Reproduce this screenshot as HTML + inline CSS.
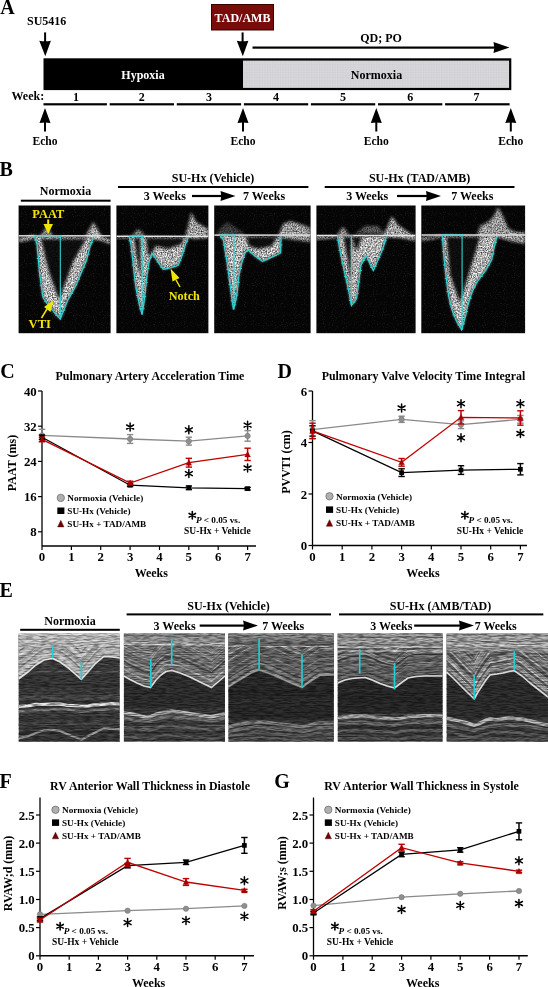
<!DOCTYPE html>
<html><head><meta charset="utf-8"><style>
html,body{margin:0;padding:0;background:#fff;width:548px;height:987px;overflow:hidden}
svg{display:block;will-change:transform}
</style></head><body>
<svg width="548" height="987" viewBox="0 0 548 987" font-family="Liberation Serif" font-weight="bold">
<defs>
<filter id="speck" x="-0.2" y="-0.2" width="1.4" height="1.4">
<feGaussianBlur in="SourceGraphic" stdDeviation="1.5" result="sb"/>
<feTurbulence type="fractalNoise" baseFrequency="0.8" numOctaves="2" seed="3" result="n"/>
<feColorMatrix in="n" type="matrix" values="0 0 0 0 0.93  0 0 0 0 0.93  0 0 0 0 0.93  0 0 0 1.5 -0.05" result="nw"/>
<feComposite in="nw" in2="sb" operator="in" result="c"/>
<feGaussianBlur in="c" stdDeviation="0.5"/></filter>
<filter id="bgnoise" x="0" y="0" width="1" height="1"><feTurbulence type="fractalNoise" baseFrequency="0.9" numOctaves="1" seed="7" result="n"/>
<feColorMatrix in="n" type="matrix" values="0 0 0 0 1  0 0 0 0 1  0 0 0 0 1  0 0 0 3 -1.7"/></filter>
<filter id="streak" x="0" y="0" width="1" height="1"><feTurbulence type="fractalNoise" baseFrequency="0.04 0.6" numOctaves="2" seed="5" result="n"/>
<feColorMatrix in="n" type="matrix" values="0 0 0 0 1  0 0 0 0 1  0 0 0 0 1  0 0 0 2.5 -1.0"/></filter>
<filter id="enoise" x="0" y="0" width="1" height="1"><feTurbulence type="fractalNoise" baseFrequency="0.12 0.9" numOctaves="2" seed="11" result="n"/>
<feColorMatrix in="n" type="matrix" values="0 0 0 0 0  0 0 0 0 0  0 0 0 0 0  0 0 0 3.0 -1.1"/></filter>
<pattern id="dots" x="0" y="0" width="2.6" height="2.6" patternUnits="userSpaceOnUse"><rect width="2.6" height="2.6" fill="#d2d2d6"/><rect x="0.5" y="0.5" width="1" height="1" fill="#e4e4e4"/></pattern>
<filter id="enoise2" x="0" y="0" width="1" height="1"><feTurbulence type="fractalNoise" baseFrequency="0.15 0.7" numOctaves="2" seed="4" result="n"/>
<feColorMatrix in="n" type="matrix" values="0 0 0 0 1  0 0 0 0 1  0 0 0 0 1  0 0 0 2.5 -0.6" result="m"/><feComposite in="m" in2="SourceGraphic" operator="in"/></filter>
<filter id="blur1"><feGaussianBlur stdDeviation="1.2"/></filter>
<filter id="blur2" x="-0.5" y="-0.5" width="2" height="2"><feGaussianBlur stdDeviation="1.6"/></filter>
</defs>
<text x="0.3" y="13.7" font-size="20" text-anchor="start" fill="#000" >A</text>
<text x="27" y="25.3" font-size="12" text-anchor="start" fill="#000" >SU5416</text>
<rect x="44.1" y="32.4" width="2" height="11.800000000000004" fill="#000"/>
<path d="M39.300000000000004,40.7 Q45.1,41.7 50.9,40.7 L45.300000000000004,56.2 Z" fill="#000"/>
<rect x="211.5" y="4.5" width="62" height="25.5" fill="#7a0b0b" stroke="#3a0000" stroke-width="1"/>
<text x="242.5" y="21.6" font-size="12" text-anchor="middle" fill="#fff" >TAD/AMB</text>
<rect x="241.6" y="32.4" width="2" height="11.800000000000004" fill="#000"/>
<path d="M236.79999999999998,40.7 Q242.6,41.7 248.4,40.7 L242.79999999999998,56.2 Z" fill="#000"/>
<rect x="252.5" y="46.5" width="243.0" height="2.2" fill="#000"/>
<path d="M493.5,42.1 Q495.0,47.6 493.5,53.1 L509.5,47.6 Z" fill="#000"/>
<text x="381" y="42.2" font-size="12" text-anchor="middle" fill="#000" >QD; PO</text>
<rect x="43.5" y="58.3" width="467.8" height="31.8" fill="#000"/>
<rect x="243" y="60.6" width="266.1" height="27.3" fill="url(#dots)"/>
<text x="143" y="79" font-size="12" text-anchor="middle" fill="#fff" >Hypoxia</text>
<text x="376.5" y="79.3" font-size="12" text-anchor="middle" fill="#000" >Normoxia</text>
<text x="11.5" y="100.2" font-size="12" text-anchor="start" fill="#000" >Week:</text>
<rect x="43.5" y="103.2" width="63.4" height="2.2" fill="#000"/>
<text x="75.9" y="100.6" font-size="12" text-anchor="middle" fill="#000" >1</text>
<rect x="109.7" y="103.2" width="64.3" height="2.2" fill="#000"/>
<text x="141.8" y="100.6" font-size="12" text-anchor="middle" fill="#000" >2</text>
<rect x="176.8" y="103.2" width="64.3" height="2.2" fill="#000"/>
<text x="208.9" y="100.6" font-size="12" text-anchor="middle" fill="#000" >3</text>
<rect x="243.9" y="103.2" width="64.3" height="2.2" fill="#000"/>
<text x="276.0" y="100.6" font-size="12" text-anchor="middle" fill="#000" >4</text>
<rect x="310.9" y="103.2" width="64.3" height="2.2" fill="#000"/>
<text x="343.1" y="100.6" font-size="12" text-anchor="middle" fill="#000" >5</text>
<rect x="378.0" y="103.2" width="64.3" height="2.2" fill="#000"/>
<text x="410.2" y="100.6" font-size="12" text-anchor="middle" fill="#000" >6</text>
<rect x="445.1" y="103.2" width="64.5" height="2.2" fill="#000"/>
<text x="476.6" y="100.6" font-size="12" text-anchor="middle" fill="#000" >7</text>
<path d="M39.5,123 Q45,122 50.5,123 L45,108 Z" fill="#000"/>
<rect x="44" y="121" width="2" height="10.5" fill="#000"/>
<text x="45" y="144.5" font-size="11.6" text-anchor="middle" fill="#000" >Echo</text>
<path d="M237.5,123 Q243,122 248.5,123 L243,108 Z" fill="#000"/>
<rect x="242" y="121" width="2" height="10.5" fill="#000"/>
<text x="243" y="144.5" font-size="11.6" text-anchor="middle" fill="#000" >Echo</text>
<path d="M370.8,123 Q376.3,122 381.8,123 L376.3,108 Z" fill="#000"/>
<rect x="375.3" y="121" width="2" height="10.5" fill="#000"/>
<text x="376.3" y="144.5" font-size="11.6" text-anchor="middle" fill="#000" >Echo</text>
<path d="M505.3,123 Q510.8,122 516.3,123 L510.8,108 Z" fill="#000"/>
<rect x="509.8" y="121" width="2" height="10.5" fill="#000"/>
<text x="510.8" y="144.5" font-size="11.6" text-anchor="middle" fill="#000" >Echo</text>
<text x="-0.6" y="176.4" font-size="20" text-anchor="start" fill="#000" >B</text>
<text x="65.5" y="195.3" font-size="12" text-anchor="middle" fill="#000" >Normoxia</text>
<rect x="20.8" y="199.7" width="89.8" height="2" fill="#000"/>
<text x="213" y="182.3" font-size="12" text-anchor="middle" fill="#000" >SU-Hx (Vehicle)</text>
<rect x="118" y="186" width="190.4" height="2" fill="#000"/>
<text x="164.8" y="200.3" font-size="12" text-anchor="middle" fill="#000" >3 Weeks</text>
<rect x="192" y="194.9" width="30.5" height="2.2" fill="#000"/>
<path d="M220.5,191 Q222.0,196 220.5,201 L235.5,196 Z" fill="#000"/>
<text x="264" y="200.3" font-size="12" text-anchor="middle" fill="#000" >7 Weeks</text>
<text x="419.6" y="182.3" font-size="12" text-anchor="middle" fill="#000" >SU-Hx (TAD/AMB)</text>
<rect x="324.7" y="186" width="189.8" height="2" fill="#000"/>
<text x="367.2" y="200.3" font-size="12" text-anchor="middle" fill="#000" >3 Weeks</text>
<rect x="397" y="194.9" width="31" height="2.2" fill="#000"/>
<path d="M426,191 Q427.5,196 426,201 L441,196 Z" fill="#000"/>
<text x="472.3" y="200.3" font-size="12" text-anchor="middle" fill="#000" >7 Weeks</text>
<clipPath id="clipB0"><rect x="18.6" y="205.5" width="92.0" height="127.7"/></clipPath>
<rect x="18.6" y="205.5" width="92.0" height="127.7" fill="#050505"/>
<g clip-path="url(#clipB0)">
<rect x="18.6" y="205.5" width="92.0" height="127.7" fill="#fff" filter="url(#bgnoise)" opacity="0.14"/>
<polygon points="40.0,236.0 44.0,230.0 47.0,228.0 50.0,231.0 53.0,236.0" fill="#fff" filter="url(#speck)" opacity="0.8"/>
<polygon points="85.0,237.0 90.0,228.0 93.5,222.0 97.0,228.0 102.0,237.0 96.0,240.0" fill="#fff" filter="url(#speck)" opacity="0.9"/>
<polygon points="18.6,238.0 26.0,236.5 34.0,234.5 36.0,238.0 26.0,241.0 18.6,242.0" fill="#fff" filter="url(#speck)" opacity="0.9"/>
<polygon points="95.0,235.0 103.0,237.0 110.6,239.0 110.6,244.0 102.0,241.0 95.0,239.0" fill="#fff" filter="url(#speck)" opacity="0.9"/>
<polygon points="34.3,236.0 37.0,244.0 39.5,273.0 43.0,297.6 48.0,305.0 53.4,311.5 60.3,319.3 67.3,301.0 76.0,285.5 81.0,273.0 86.3,261.0 89.8,247.3 93.3,237.8" fill="#fff" filter="url(#speck)"/>
<polygon points="41.0,239.0 86.0,239.0 73.0,262.0 59.0,300.0 49.0,272.0" fill="#050505" opacity="0.92" filter="url(#blur2)"/>
<rect x="18.6" y="235.10000000000002" width="92.0" height="1.4" fill="#e6e6e6"/>
<polyline points="34.3,236.0 37.0,244.0 39.5,273.0 43.0,297.6 48.0,305.0 53.4,311.5 60.3,319.3 67.3,301.0 76.0,285.5 81.0,273.0 86.3,261.0 89.8,247.3 93.3,237.8" fill="none" stroke="#2fd6d6" stroke-width="1.1"/>
<path d="M34.1,240.0h3M36.8,258.5h3M39.8,285.3h3M44.0,301.3h3M49.2,308.2h3M55.3,315.4h3M62.3,310.1h3M70.2,293.2h3M77.0,279.2h3M82.2,267.0h3M86.5,254.2h3M90.0,242.6h3" stroke="#2fd6d6" stroke-width="0.9"/>
<line x1="34.3" y1="235.8" x2="62.3" y2="235.8" stroke="#2fd6d6" stroke-width="1.1"/>
<line x1="60.3" y1="235.8" x2="60.3" y2="319.3" stroke="#2fd6d6" stroke-width="1.1"/>
</g>
<clipPath id="clipB1"><rect x="116.4" y="205.5" width="92.0" height="127.7"/></clipPath>
<rect x="116.4" y="205.5" width="92.0" height="127.7" fill="#050505"/>
<g clip-path="url(#clipB1)">
<rect x="116.4" y="205.5" width="92.0" height="127.7" fill="#fff" filter="url(#bgnoise)" opacity="0.14"/>
<polygon points="132.0,236.0 136.0,231.0 138.0,229.0 141.0,231.0 145.0,236.0" fill="#fff" filter="url(#speck)" opacity="0.7"/>
<polygon points="185.0,237.0 189.0,222.0 191.0,212.0 196.0,222.0 208.4,229.0 208.4,238.0 195.0,239.0" fill="#fff" filter="url(#speck)" opacity="0.9"/>
<polygon points="116.4,237.0 128.0,235.5 128.0,238.5 116.4,239.0" fill="#fff" filter="url(#speck)" opacity="0.7"/>
<polygon points="129.0,236.3 131.0,245.0 132.5,258.0 134.0,272.0 136.0,288.0 139.0,303.0 142.0,314.6 144.0,303.0 145.5,290.0 147.0,275.0 149.0,262.0 152.0,253.3 156.0,259.0 160.0,265.0 163.2,269.4 170.0,268.0 178.2,265.4 182.0,256.0 185.0,246.0 188.3,237.3" fill="#fff" filter="url(#speck)"/>
<polygon points="134.0,238.0 140.0,238.0 141.0,280.0 137.0,258.0" fill="#050505" opacity="0.92" filter="url(#blur2)"/>
<polygon points="146.0,238.0 184.0,238.0 182.0,244.0 168.0,249.0 156.0,246.0 151.0,254.0 148.0,256.0" fill="#050505" opacity="0.92" filter="url(#blur2)"/>
<rect x="116.4" y="235.60000000000002" width="92.0" height="1.4" fill="#e6e6e6"/>
<polyline points="129.0,236.3 131.0,245.0 132.5,258.0 134.0,272.0 136.0,288.0 139.0,303.0 142.0,314.6 144.0,303.0 145.5,290.0 147.0,275.0 149.0,262.0 152.0,253.3 156.0,259.0 160.0,265.0 163.2,269.4 170.0,268.0 178.2,265.4 182.0,256.0 185.0,246.0 188.3,237.3" fill="none" stroke="#2fd6d6" stroke-width="1.1"/>
<path d="M128.5,240.7h3M130.2,251.5h3M131.8,265.0h3M133.5,280.0h3M136.0,295.5h3M139.0,308.8h3M141.5,308.8h3M143.2,296.5h3M144.8,282.5h3M146.5,268.5h3M149.0,257.6h3M152.5,256.1h3M156.5,262.0h3M160.1,267.2h3M165.1,268.7h3M172.6,266.7h3M178.6,260.7h3M182.0,251.0h3M185.2,241.7h3" stroke="#2fd6d6" stroke-width="0.9"/>
<line x1="129" y1="236.3" x2="144.1" y2="236.3" stroke="#2fd6d6" stroke-width="1.1"/>
<line x1="142.1" y1="236.3" x2="142.1" y2="314.6" stroke="#2fd6d6" stroke-width="1.1"/>
</g>
<clipPath id="clipB2"><rect x="214.2" y="205.5" width="96.4" height="127.7"/></clipPath>
<rect x="214.2" y="205.5" width="96.4" height="127.7" fill="#050505"/>
<g clip-path="url(#clipB2)">
<rect x="214.2" y="205.5" width="96.4" height="127.7" fill="#fff" filter="url(#bgnoise)" opacity="0.14"/>
<polygon points="216.0,234.0 222.0,226.0 228.0,222.0 236.0,228.0 244.0,233.0 244.0,236.0 216.0,237.0" fill="#fff" filter="url(#speck)" opacity="0.3"/>
<polygon points="278.0,236.0 283.0,224.0 290.0,221.0 300.0,224.0 310.6,228.0 310.6,242.0 296.0,240.0 280.0,238.0" fill="#fff" filter="url(#speck)" opacity="0.85"/>
<polygon points="219.7,235.1 223.5,240.0 225.0,250.0 227.0,262.0 229.0,277.0 231.0,292.0 233.3,309.5 236.0,300.0 237.5,290.0 239.0,275.0 242.0,262.0 245.0,253.0 247.7,249.8 255.0,256.0 262.4,261.4 270.0,258.0 280.6,253.0 281.0,237.0" fill="#fff" filter="url(#speck)"/>
<polygon points="246.0,237.0 277.0,237.0 272.0,246.0 258.0,249.0 249.0,246.0" fill="#050505" opacity="0.92" filter="url(#blur2)"/>
<rect x="214.2" y="234.4" width="96.4" height="1.4" fill="#e6e6e6"/>
<polyline points="219.7,235.1 223.5,240.0 225.0,250.0 227.0,262.0 229.0,277.0 231.0,292.0 233.3,309.5 236.0,300.0 237.5,290.0 239.0,275.0 242.0,262.0 245.0,253.0 247.7,249.8 255.0,256.0 262.4,261.4 270.0,258.0 280.6,253.0 281.0,237.0" fill="none" stroke="#2fd6d6" stroke-width="1.1"/>
<path d="M220.1,237.6h3M222.8,245.0h3M224.5,256.0h3M226.5,269.5h3M228.5,284.5h3M230.7,300.8h3M233.2,304.8h3M235.2,295.0h3M236.8,282.5h3M239.0,268.5h3M242.0,257.5h3M244.8,251.4h3M249.8,252.9h3M257.2,258.7h3M264.7,259.7h3M273.8,255.5h3M279.3,245.0h3" stroke="#2fd6d6" stroke-width="0.9"/>
<line x1="219.7" y1="235.1" x2="236" y2="235.1" stroke="#2fd6d6" stroke-width="1.1"/>
<line x1="234" y1="235.1" x2="234" y2="309.5" stroke="#2fd6d6" stroke-width="1.1"/>
</g>
<clipPath id="clipB3"><rect x="316.4" y="205.5" width="99.2" height="127.7"/></clipPath>
<rect x="316.4" y="205.5" width="99.2" height="127.7" fill="#050505"/>
<g clip-path="url(#clipB3)">
<rect x="316.4" y="205.5" width="99.2" height="127.7" fill="#fff" filter="url(#bgnoise)" opacity="0.14"/>
<polygon points="337.0,236.0 340.0,230.0 343.0,227.0 346.0,230.0 349.0,236.0" fill="#fff" filter="url(#speck)" opacity="0.75"/>
<polygon points="382.0,237.0 388.0,225.0 392.0,216.0 397.0,224.0 408.0,232.0 415.6,236.0 415.6,241.0 400.0,238.0" fill="#fff" filter="url(#speck)" opacity="0.9"/>
<polygon points="355.0,234.0 365.0,226.0 378.0,226.0 385.0,234.0" fill="#fff" filter="url(#speck)" opacity="0.45"/>
<polygon points="316.4,236.0 336.0,235.0 336.0,238.0 316.4,240.0" fill="#fff" filter="url(#speck)" opacity="0.8"/>
<polygon points="337.4,235.5 339.0,245.0 341.0,256.0 344.0,270.0 347.0,283.0 349.5,295.0 351.4,305.6 356.5,299.0 358.0,288.0 359.5,276.0 361.0,265.0 366.3,255.7 370.0,264.0 373.3,270.6 377.0,262.0 381.0,253.0 384.0,245.0 386.5,236.6" fill="#fff" filter="url(#speck)"/>
<polygon points="343.5,237.0 351.5,237.0 350.5,288.0 348.0,262.0" fill="#050505" opacity="0.92" filter="url(#blur2)"/>
<polygon points="352.0,237.0 362.0,237.0 356.0,252.0" fill="#050505" opacity="0.92" filter="url(#blur2)"/>
<rect x="316.4" y="234.8" width="99.2" height="1.4" fill="#e6e6e6"/>
<polyline points="337.4,235.5 339.0,245.0 341.0,256.0 344.0,270.0 347.0,283.0 349.5,295.0 351.4,305.6 356.5,299.0 358.0,288.0 359.5,276.0 361.0,265.0 366.3,255.7 370.0,264.0 373.3,270.6 377.0,262.0 381.0,253.0 384.0,245.0 386.5,236.6" fill="none" stroke="#2fd6d6" stroke-width="1.1"/>
<path d="M336.7,240.2h3M338.5,250.5h3M341.0,263.0h3M344.0,276.5h3M346.8,289.0h3M348.9,300.3h3M352.4,302.3h3M355.8,293.5h3M357.2,282.0h3M358.8,270.5h3M362.1,260.4h3M366.6,259.9h3M370.1,267.3h3M373.6,266.3h3M377.5,257.5h3M381.0,249.0h3M383.8,240.8h3" stroke="#2fd6d6" stroke-width="0.9"/>
<line x1="337.4" y1="235.5" x2="353.4" y2="235.5" stroke="#2fd6d6" stroke-width="1.1"/>
<line x1="351.4" y1="235.5" x2="351.4" y2="305.6" stroke="#2fd6d6" stroke-width="1.1"/>
</g>
<clipPath id="clipB4"><rect x="421.3" y="205.5" width="103.8" height="127.7"/></clipPath>
<rect x="421.3" y="205.5" width="103.8" height="127.7" fill="#050505"/>
<g clip-path="url(#clipB4)">
<rect x="421.3" y="205.5" width="103.8" height="127.7" fill="#fff" filter="url(#bgnoise)" opacity="0.14"/>
<polygon points="477.0,236.0 480.0,226.0 488.0,222.0 494.0,216.0 498.0,207.0 503.0,216.0 508.0,228.0 515.0,232.0 525.1,232.0 525.1,244.0 510.0,241.0 500.0,238.0" fill="#fff" filter="url(#speck)" opacity="0.85"/>
<polygon points="421.3,237.0 432.0,236.5 441.0,234.5 441.0,237.5 432.0,239.5 421.3,241.0" fill="#fff" filter="url(#speck)" opacity="0.8"/>
<polygon points="442.2,235.0 443.0,245.0 444.0,258.0 445.5,272.0 447.0,285.0 449.0,298.0 452.0,310.0 456.0,320.0 461.6,330.0 465.0,318.0 468.0,305.0 472.0,292.0 477.0,282.0 485.5,270.8 491.8,259.5 494.0,248.0 496.9,236.8" fill="#fff" filter="url(#speck)"/>
<polygon points="446.5,237.0 480.0,237.0 460.0,303.0 450.0,275.0" fill="#050505" opacity="0.92" filter="url(#blur2)"/>
<rect x="421.3" y="234.3" width="103.8" height="1.4" fill="#e6e6e6"/>
<polyline points="442.2,235.0 443.0,245.0 444.0,258.0 445.5,272.0 447.0,285.0 449.0,298.0 452.0,310.0 456.0,320.0 461.6,330.0 465.0,318.0 468.0,305.0 472.0,292.0 477.0,282.0 485.5,270.8 491.8,259.5 494.0,248.0 496.9,236.8" fill="none" stroke="#2fd6d6" stroke-width="1.1"/>
<path d="M441.1,240.0h3M442.0,251.5h3M443.2,265.0h3M444.8,278.5h3M446.5,291.5h3M449.0,304.0h3M452.5,315.0h3M457.3,325.0h3M461.8,324.0h3M465.0,311.5h3M468.5,298.5h3M473.0,287.0h3M479.8,276.4h3M487.1,265.1h3M491.4,253.8h3M493.9,242.4h3" stroke="#2fd6d6" stroke-width="0.9"/>
<line x1="442.2" y1="235" x2="464.1" y2="235" stroke="#2fd6d6" stroke-width="1.1"/>
<line x1="462.1" y1="235" x2="462.1" y2="330" stroke="#2fd6d6" stroke-width="1.1"/>
</g>
<text x="48.3" y="218.2" font-size="12.4" text-anchor="middle" fill="#f2e600" >PAAT</text>
<rect x="47.2" y="219.5" width="2" height="6" fill="#f2e600"/>
<path d="M43.5,224 L53,224 L48.2,234 Z" fill="#f2e600"/>
<text x="39.8" y="328.3" font-size="12.6" text-anchor="middle" fill="#f2e600" >VTI</text>
<line x1="41.5" y1="318" x2="47" y2="309" stroke="#f2e600" stroke-width="1.5"/>
<path d="M44,307 L53.5,300.5 L50.5,312 Z" fill="#f2e600"/>
<text x="184.3" y="299.5" font-size="12.2" text-anchor="middle" fill="#f2e600" >Notch</text>
<line x1="180" y1="287" x2="176" y2="280" stroke="#f2e600" stroke-width="1.5"/>
<path d="M170.5,268.5 L179.5,278 L172.5,281.5 Z" fill="#f2e600"/>
<text x="0.2" y="377.6" font-size="20" text-anchor="start" fill="#000" >C</text>
<text x="150" y="380" font-size="11.9" text-anchor="middle" fill="#000" >Pulmonary Artery Acceleration Time</text>
<line x1="42" y1="391" x2="42" y2="546" stroke="#000" stroke-width="1.3"/>
<line x1="42" y1="546" x2="256" y2="546" stroke="#000" stroke-width="1.3"/>
<line x1="38" y1="391.0" x2="42" y2="391.0" stroke="#000" stroke-width="1.2"/>
<text x="36.7" y="395.6" font-size="12.8" text-anchor="end" fill="#000" >40</text>
<line x1="38" y1="426.2" x2="42" y2="426.2" stroke="#000" stroke-width="1.2"/>
<text x="36.7" y="430.8" font-size="12.8" text-anchor="end" fill="#000" >32</text>
<line x1="38" y1="461.4" x2="42" y2="461.4" stroke="#000" stroke-width="1.2"/>
<text x="36.7" y="466.0" font-size="12.8" text-anchor="end" fill="#000" >24</text>
<line x1="38" y1="496.6" x2="42" y2="496.6" stroke="#000" stroke-width="1.2"/>
<text x="36.7" y="501.2" font-size="12.8" text-anchor="end" fill="#000" >16</text>
<line x1="38" y1="531.8" x2="42" y2="531.8" stroke="#000" stroke-width="1.2"/>
<text x="36.7" y="536.4" font-size="12.8" text-anchor="end" fill="#000" >8</text>
<line x1="42.0" y1="546" x2="42.0" y2="550" stroke="#000" stroke-width="1.2"/>
<text x="42.0" y="561.4" font-size="12.8" text-anchor="middle" fill="#000" >0</text>
<line x1="71.4" y1="546" x2="71.4" y2="550" stroke="#000" stroke-width="1.2"/>
<text x="71.4" y="561.4" font-size="12.8" text-anchor="middle" fill="#000" >1</text>
<line x1="100.7" y1="546" x2="100.7" y2="550" stroke="#000" stroke-width="1.2"/>
<text x="100.7" y="561.4" font-size="12.8" text-anchor="middle" fill="#000" >2</text>
<line x1="130.1" y1="546" x2="130.1" y2="550" stroke="#000" stroke-width="1.2"/>
<text x="130.1" y="561.4" font-size="12.8" text-anchor="middle" fill="#000" >3</text>
<line x1="159.5" y1="546" x2="159.5" y2="550" stroke="#000" stroke-width="1.2"/>
<text x="159.5" y="561.4" font-size="12.8" text-anchor="middle" fill="#000" >4</text>
<line x1="188.8" y1="546" x2="188.8" y2="550" stroke="#000" stroke-width="1.2"/>
<text x="188.8" y="561.4" font-size="12.8" text-anchor="middle" fill="#000" >5</text>
<line x1="218.2" y1="546" x2="218.2" y2="550" stroke="#000" stroke-width="1.2"/>
<text x="218.2" y="561.4" font-size="12.8" text-anchor="middle" fill="#000" >6</text>
<line x1="247.6" y1="546" x2="247.6" y2="550" stroke="#000" stroke-width="1.2"/>
<text x="247.6" y="561.4" font-size="12.8" text-anchor="middle" fill="#000" >7</text>
<text x="151.3" y="577" font-size="12" text-anchor="middle" fill="#000" >Weeks</text>
<polyline points="42.0,435.4 130.1,439.0 188.8,441.2 247.6,435.9" fill="none" stroke="#8a8a8a" stroke-width="1.3"/>
<line x1="42.0" y1="429.3" x2="42.0" y2="441.6" stroke="#8a8a8a" stroke-width="1.5"/>
<line x1="38.8" y1="429.3" x2="45.2" y2="429.3" stroke="#8a8a8a" stroke-width="1.4"/>
<line x1="38.8" y1="441.6" x2="45.2" y2="441.6" stroke="#8a8a8a" stroke-width="1.4"/>
<circle cx="42.0" cy="435.4" r="2.70" fill="#8f8f8f" stroke="#777" stroke-width="0.5"/>
<line x1="130.1" y1="434.6" x2="130.1" y2="443.4" stroke="#8a8a8a" stroke-width="1.5"/>
<line x1="126.9" y1="434.6" x2="133.3" y2="434.6" stroke="#8a8a8a" stroke-width="1.4"/>
<line x1="126.9" y1="443.4" x2="133.3" y2="443.4" stroke="#8a8a8a" stroke-width="1.4"/>
<circle cx="130.1" cy="439.0" r="2.70" fill="#8f8f8f" stroke="#777" stroke-width="0.5"/>
<line x1="188.8" y1="437.2" x2="188.8" y2="445.1" stroke="#8a8a8a" stroke-width="1.5"/>
<line x1="185.7" y1="437.2" x2="192.0" y2="437.2" stroke="#8a8a8a" stroke-width="1.4"/>
<line x1="185.7" y1="445.1" x2="192.0" y2="445.1" stroke="#8a8a8a" stroke-width="1.4"/>
<circle cx="188.8" cy="441.2" r="2.70" fill="#8f8f8f" stroke="#777" stroke-width="0.5"/>
<line x1="247.6" y1="430.6" x2="247.6" y2="441.2" stroke="#8a8a8a" stroke-width="1.5"/>
<line x1="244.4" y1="430.6" x2="250.8" y2="430.6" stroke="#8a8a8a" stroke-width="1.4"/>
<line x1="244.4" y1="441.2" x2="250.8" y2="441.2" stroke="#8a8a8a" stroke-width="1.4"/>
<circle cx="247.6" cy="435.9" r="2.70" fill="#8f8f8f" stroke="#777" stroke-width="0.5"/>
<polyline points="42.0,437.2 130.1,485.2 188.8,487.8 247.6,488.7" fill="none" stroke="#000" stroke-width="1.3"/>
<line x1="42.0" y1="435.0" x2="42.0" y2="439.4" stroke="#000" stroke-width="1.5"/>
<line x1="38.8" y1="435.0" x2="45.2" y2="435.0" stroke="#000" stroke-width="1.4"/>
<line x1="38.8" y1="439.4" x2="45.2" y2="439.4" stroke="#000" stroke-width="1.4"/>
<rect x="39.65" y="434.85" width="4.70" height="4.70" fill="#000"/>
<line x1="130.1" y1="483.8" x2="130.1" y2="486.5" stroke="#000" stroke-width="1.5"/>
<line x1="126.9" y1="483.8" x2="133.3" y2="483.8" stroke="#000" stroke-width="1.4"/>
<line x1="126.9" y1="486.5" x2="133.3" y2="486.5" stroke="#000" stroke-width="1.4"/>
<rect x="127.76" y="482.81" width="4.70" height="4.70" fill="#000"/>
<line x1="188.8" y1="486.0" x2="188.8" y2="489.6" stroke="#000" stroke-width="1.5"/>
<line x1="185.7" y1="486.0" x2="192.0" y2="486.0" stroke="#000" stroke-width="1.4"/>
<line x1="185.7" y1="489.6" x2="192.0" y2="489.6" stroke="#000" stroke-width="1.4"/>
<rect x="186.50" y="485.45" width="4.70" height="4.70" fill="#000"/>
<line x1="247.6" y1="487.4" x2="247.6" y2="490.0" stroke="#000" stroke-width="1.5"/>
<line x1="244.4" y1="487.4" x2="250.8" y2="487.4" stroke="#000" stroke-width="1.4"/>
<line x1="244.4" y1="490.0" x2="250.8" y2="490.0" stroke="#000" stroke-width="1.4"/>
<rect x="245.24" y="486.33" width="4.70" height="4.70" fill="#000"/>
<polyline points="42.0,439.4 130.1,483.0 188.8,462.7 247.6,454.4" fill="none" stroke="#c00000" stroke-width="1.3"/>
<line x1="42.0" y1="437.2" x2="42.0" y2="441.6" stroke="#c00000" stroke-width="1.5"/>
<line x1="38.8" y1="437.2" x2="45.2" y2="437.2" stroke="#c00000" stroke-width="1.4"/>
<line x1="38.8" y1="441.6" x2="45.2" y2="441.6" stroke="#c00000" stroke-width="1.4"/>
<path d="M42.00,436.32 L44.90,441.92 L39.10,441.92 Z" fill="#a80000" stroke="#900" stroke-width="0.3"/>
<line x1="130.1" y1="481.2" x2="130.1" y2="484.7" stroke="#c00000" stroke-width="1.5"/>
<line x1="126.9" y1="481.2" x2="133.3" y2="481.2" stroke="#c00000" stroke-width="1.4"/>
<line x1="126.9" y1="484.7" x2="133.3" y2="484.7" stroke="#c00000" stroke-width="1.4"/>
<path d="M130.11,479.88 L133.01,485.48 L127.21,485.48 Z" fill="#a80000" stroke="#900" stroke-width="0.3"/>
<line x1="188.8" y1="458.3" x2="188.8" y2="467.1" stroke="#c00000" stroke-width="1.5"/>
<line x1="185.7" y1="458.3" x2="192.0" y2="458.3" stroke="#c00000" stroke-width="1.4"/>
<line x1="185.7" y1="467.1" x2="192.0" y2="467.1" stroke="#c00000" stroke-width="1.4"/>
<path d="M188.85,459.64 L191.75,465.24 L185.95,465.24 Z" fill="#a80000" stroke="#900" stroke-width="0.3"/>
<line x1="247.6" y1="448.2" x2="247.6" y2="460.5" stroke="#c00000" stroke-width="1.5"/>
<line x1="244.4" y1="448.2" x2="250.8" y2="448.2" stroke="#c00000" stroke-width="1.4"/>
<line x1="244.4" y1="460.5" x2="250.8" y2="460.5" stroke="#c00000" stroke-width="1.4"/>
<path d="M247.59,451.28 L250.49,456.88 L244.69,456.88 Z" fill="#a80000" stroke="#900" stroke-width="0.3"/>
<path d="M130.11,423.00L130.11,431.00M126.65,425.00L133.57,429.00M126.65,429.00L133.57,425.00" stroke="#000" stroke-width="1.5" stroke-linecap="round" fill="none"/>
<path d="M188.85,425.80L188.85,433.80M185.39,427.80L192.31,431.80M185.39,431.80L192.31,427.80" stroke="#000" stroke-width="1.5" stroke-linecap="round" fill="none"/>
<path d="M247.59,421.20L247.59,429.20M244.13,423.20L251.05,427.20M244.13,427.20L251.05,423.20" stroke="#000" stroke-width="1.5" stroke-linecap="round" fill="none"/>
<path d="M188.85,469.60L188.85,477.60M185.39,471.60L192.31,475.60M185.39,475.60L192.31,471.60" stroke="#000" stroke-width="1.5" stroke-linecap="round" fill="none"/>
<path d="M247.59,464.00L247.59,472.00M244.13,466.00L251.05,470.00M244.13,470.00L251.05,466.00" stroke="#000" stroke-width="1.5" stroke-linecap="round" fill="none"/>
<circle cx="60.8" cy="497.9" r="3.7" fill="#b0b0b0" stroke="#555" stroke-width="0.6"/>
<text x="67.3" y="501.1" font-size="9.2" text-anchor="start" fill="#000" >Normoxia (Vehicle)</text>
<rect x="57.30" y="507.50" width="7.1" height="6.5" fill="#000"/>
<text x="67.3" y="514.0" font-size="9.2" text-anchor="start" fill="#000" >SU-Hx (Vehicle)</text>
<path d="M60.80,520.30 L64.00,526.90 L57.60,526.90 Z" fill="#780000" stroke="#300" stroke-width="0.4"/>
<text x="67.3" y="526.9" font-size="9.2" text-anchor="start" fill="#000" >SU-Hx + TAD/AMB</text>
<path d="M192.30,511.60L192.30,519.00M189.10,513.45L195.50,517.15M189.10,517.15L195.50,513.45" stroke="#000" stroke-width="1.6" stroke-linecap="round" fill="none"/>
<text x="195.9" y="522.5" font-size="9.2" font-family="Liberation Serif" font-weight="bold"><tspan font-style="italic">P</tspan> &lt; 0.05 vs.</text>
<text x="217.4" y="533.5" font-size="9.5" text-anchor="middle" fill="#000" >SU-Hx + Vehicle</text>
<text transform="translate(16.4,463) rotate(-90)" font-size="12" text-anchor="middle" font-family="Liberation Serif" font-weight="bold">PAAT (ms)</text>
<text x="277.5" y="377.8" font-size="20" text-anchor="start" fill="#000" >D</text>
<text x="423.5" y="380" font-size="11.9" text-anchor="middle" fill="#000" >Pulmonary Valve Velocity Time Integral</text>
<line x1="312.5" y1="391" x2="312.5" y2="545.5" stroke="#000" stroke-width="1.3"/>
<line x1="312.5" y1="545.5" x2="527" y2="545.5" stroke="#000" stroke-width="1.3"/>
<line x1="308.5" y1="391.0" x2="312.5" y2="391.0" stroke="#000" stroke-width="1.2"/>
<text x="307.2" y="395.6" font-size="12.8" text-anchor="end" fill="#000" >6</text>
<line x1="308.5" y1="442.5" x2="312.5" y2="442.5" stroke="#000" stroke-width="1.2"/>
<text x="307.2" y="447.1" font-size="12.8" text-anchor="end" fill="#000" >4</text>
<line x1="308.5" y1="494.0" x2="312.5" y2="494.0" stroke="#000" stroke-width="1.2"/>
<text x="307.2" y="498.6" font-size="12.8" text-anchor="end" fill="#000" >2</text>
<line x1="308.5" y1="545.5" x2="312.5" y2="545.5" stroke="#000" stroke-width="1.2"/>
<text x="307.2" y="550.1" font-size="12.8" text-anchor="end" fill="#000" >0</text>
<line x1="312.5" y1="545.5" x2="312.5" y2="549.5" stroke="#000" stroke-width="1.2"/>
<text x="312.5" y="560.9" font-size="12.8" text-anchor="middle" fill="#000" >0</text>
<line x1="342.2" y1="545.5" x2="342.2" y2="549.5" stroke="#000" stroke-width="1.2"/>
<text x="342.2" y="560.9" font-size="12.8" text-anchor="middle" fill="#000" >1</text>
<line x1="371.9" y1="545.5" x2="371.9" y2="549.5" stroke="#000" stroke-width="1.2"/>
<text x="371.9" y="560.9" font-size="12.8" text-anchor="middle" fill="#000" >2</text>
<line x1="401.6" y1="545.5" x2="401.6" y2="549.5" stroke="#000" stroke-width="1.2"/>
<text x="401.6" y="560.9" font-size="12.8" text-anchor="middle" fill="#000" >3</text>
<line x1="431.3" y1="545.5" x2="431.3" y2="549.5" stroke="#000" stroke-width="1.2"/>
<text x="431.3" y="560.9" font-size="12.8" text-anchor="middle" fill="#000" >4</text>
<line x1="461.0" y1="545.5" x2="461.0" y2="549.5" stroke="#000" stroke-width="1.2"/>
<text x="461.0" y="560.9" font-size="12.8" text-anchor="middle" fill="#000" >5</text>
<line x1="490.7" y1="545.5" x2="490.7" y2="549.5" stroke="#000" stroke-width="1.2"/>
<text x="490.7" y="560.9" font-size="12.8" text-anchor="middle" fill="#000" >6</text>
<line x1="520.4" y1="545.5" x2="520.4" y2="549.5" stroke="#000" stroke-width="1.2"/>
<text x="520.4" y="560.9" font-size="12.8" text-anchor="middle" fill="#000" >7</text>
<text x="423.0" y="576.5" font-size="12" text-anchor="middle" fill="#000" >Weeks</text>
<polyline points="312.5,429.6 401.6,419.3 461.0,424.7 520.4,419.3" fill="none" stroke="#8a8a8a" stroke-width="1.3"/>
<line x1="312.5" y1="420.6" x2="312.5" y2="438.6" stroke="#8a8a8a" stroke-width="1.5"/>
<line x1="309.3" y1="420.6" x2="315.7" y2="420.6" stroke="#8a8a8a" stroke-width="1.4"/>
<line x1="309.3" y1="438.6" x2="315.7" y2="438.6" stroke="#8a8a8a" stroke-width="1.4"/>
<circle cx="312.5" cy="429.6" r="2.70" fill="#8f8f8f" stroke="#777" stroke-width="0.5"/>
<line x1="401.6" y1="416.2" x2="401.6" y2="422.4" stroke="#8a8a8a" stroke-width="1.5"/>
<line x1="398.4" y1="416.2" x2="404.8" y2="416.2" stroke="#8a8a8a" stroke-width="1.4"/>
<line x1="398.4" y1="422.4" x2="404.8" y2="422.4" stroke="#8a8a8a" stroke-width="1.4"/>
<circle cx="401.6" cy="419.3" r="2.70" fill="#8f8f8f" stroke="#777" stroke-width="0.5"/>
<line x1="461.0" y1="420.9" x2="461.0" y2="428.6" stroke="#8a8a8a" stroke-width="1.5"/>
<line x1="457.8" y1="420.9" x2="464.2" y2="420.9" stroke="#8a8a8a" stroke-width="1.4"/>
<line x1="457.8" y1="428.6" x2="464.2" y2="428.6" stroke="#8a8a8a" stroke-width="1.4"/>
<circle cx="461.0" cy="424.7" r="2.70" fill="#8f8f8f" stroke="#777" stroke-width="0.5"/>
<line x1="520.4" y1="415.5" x2="520.4" y2="423.2" stroke="#8a8a8a" stroke-width="1.5"/>
<line x1="517.2" y1="415.5" x2="523.6" y2="415.5" stroke="#8a8a8a" stroke-width="1.4"/>
<line x1="517.2" y1="423.2" x2="523.6" y2="423.2" stroke="#8a8a8a" stroke-width="1.4"/>
<circle cx="520.4" cy="419.3" r="2.70" fill="#8f8f8f" stroke="#777" stroke-width="0.5"/>
<polyline points="312.5,430.9 401.6,472.6 461.0,470.1 520.4,469.3" fill="none" stroke="#000" stroke-width="1.3"/>
<line x1="312.5" y1="425.8" x2="312.5" y2="436.1" stroke="#000" stroke-width="1.5"/>
<line x1="309.3" y1="425.8" x2="315.7" y2="425.8" stroke="#000" stroke-width="1.4"/>
<line x1="309.3" y1="436.1" x2="315.7" y2="436.1" stroke="#000" stroke-width="1.4"/>
<rect x="310.15" y="428.56" width="4.70" height="4.70" fill="#000"/>
<line x1="401.6" y1="468.8" x2="401.6" y2="476.5" stroke="#000" stroke-width="1.5"/>
<line x1="398.4" y1="468.8" x2="404.8" y2="468.8" stroke="#000" stroke-width="1.4"/>
<line x1="398.4" y1="476.5" x2="404.8" y2="476.5" stroke="#000" stroke-width="1.4"/>
<rect x="399.25" y="470.28" width="4.70" height="4.70" fill="#000"/>
<line x1="461.0" y1="465.7" x2="461.0" y2="474.4" stroke="#000" stroke-width="1.5"/>
<line x1="457.8" y1="465.7" x2="464.2" y2="465.7" stroke="#000" stroke-width="1.4"/>
<line x1="457.8" y1="474.4" x2="464.2" y2="474.4" stroke="#000" stroke-width="1.4"/>
<rect x="458.65" y="467.70" width="4.70" height="4.70" fill="#000"/>
<line x1="520.4" y1="463.6" x2="520.4" y2="474.9" stroke="#000" stroke-width="1.5"/>
<line x1="517.2" y1="463.6" x2="523.6" y2="463.6" stroke="#000" stroke-width="1.4"/>
<line x1="517.2" y1="474.9" x2="523.6" y2="474.9" stroke="#000" stroke-width="1.4"/>
<rect x="518.05" y="466.93" width="4.70" height="4.70" fill="#000"/>
<polyline points="312.5,430.9 401.6,462.3 461.0,417.3 520.4,418.0" fill="none" stroke="#c00000" stroke-width="1.3"/>
<line x1="312.5" y1="423.2" x2="312.5" y2="438.6" stroke="#c00000" stroke-width="1.5"/>
<line x1="309.3" y1="423.2" x2="315.7" y2="423.2" stroke="#c00000" stroke-width="1.4"/>
<line x1="309.3" y1="438.6" x2="315.7" y2="438.6" stroke="#c00000" stroke-width="1.4"/>
<path d="M312.50,427.83 L315.40,433.43 L309.60,433.43 Z" fill="#a80000" stroke="#900" stroke-width="0.3"/>
<line x1="401.6" y1="458.5" x2="401.6" y2="466.2" stroke="#c00000" stroke-width="1.5"/>
<line x1="398.4" y1="458.5" x2="404.8" y2="458.5" stroke="#c00000" stroke-width="1.4"/>
<line x1="398.4" y1="466.2" x2="404.8" y2="466.2" stroke="#c00000" stroke-width="1.4"/>
<path d="M401.60,459.25 L404.50,464.85 L398.70,464.85 Z" fill="#a80000" stroke="#900" stroke-width="0.3"/>
<line x1="461.0" y1="410.6" x2="461.0" y2="424.0" stroke="#c00000" stroke-width="1.5"/>
<line x1="457.8" y1="410.6" x2="464.2" y2="410.6" stroke="#c00000" stroke-width="1.4"/>
<line x1="457.8" y1="424.0" x2="464.2" y2="424.0" stroke="#c00000" stroke-width="1.4"/>
<path d="M461.00,414.19 L463.90,419.78 L458.10,419.78 Z" fill="#a80000" stroke="#900" stroke-width="0.3"/>
<line x1="520.4" y1="410.8" x2="520.4" y2="425.2" stroke="#c00000" stroke-width="1.5"/>
<line x1="517.2" y1="410.8" x2="523.6" y2="410.8" stroke="#c00000" stroke-width="1.4"/>
<line x1="517.2" y1="425.2" x2="523.6" y2="425.2" stroke="#c00000" stroke-width="1.4"/>
<path d="M520.40,414.96 L523.30,420.56 L517.50,420.56 Z" fill="#a80000" stroke="#900" stroke-width="0.3"/>
<path d="M401.60,404.00L401.60,412.00M398.14,406.00L405.06,410.00M398.14,410.00L405.06,406.00" stroke="#000" stroke-width="1.5" stroke-linecap="round" fill="none"/>
<path d="M461.00,399.70L461.00,407.70M457.54,401.70L464.46,405.70M457.54,405.70L464.46,401.70" stroke="#000" stroke-width="1.5" stroke-linecap="round" fill="none"/>
<path d="M461.00,433.80L461.00,441.80M457.54,435.80L464.46,439.80M457.54,439.80L464.46,435.80" stroke="#000" stroke-width="1.5" stroke-linecap="round" fill="none"/>
<path d="M520.40,399.70L520.40,407.70M516.94,401.70L523.86,405.70M516.94,405.70L523.86,401.70" stroke="#000" stroke-width="1.5" stroke-linecap="round" fill="none"/>
<path d="M520.40,429.50L520.40,437.50M516.94,431.50L523.86,435.50M516.94,435.50L523.86,431.50" stroke="#000" stroke-width="1.5" stroke-linecap="round" fill="none"/>
<circle cx="329.5" cy="496.3" r="3.7" fill="#b0b0b0" stroke="#555" stroke-width="0.6"/>
<text x="336.0" y="499.5" font-size="9.2" text-anchor="start" fill="#000" >Normoxia (Vehicle)</text>
<rect x="326.00" y="506.40" width="7.1" height="6.5" fill="#000"/>
<text x="336.0" y="512.9" font-size="9.2" text-anchor="start" fill="#000" >SU-Hx (Vehicle)</text>
<path d="M329.50,519.70 L332.70,526.30 L326.30,526.30 Z" fill="#780000" stroke="#300" stroke-width="0.4"/>
<text x="336.0" y="526.3" font-size="9.2" text-anchor="start" fill="#000" >SU-Hx + TAD/AMB</text>
<path d="M464.90,511.60L464.90,519.00M461.70,513.45L468.10,517.15M461.70,517.15L468.10,513.45" stroke="#000" stroke-width="1.6" stroke-linecap="round" fill="none"/>
<text x="468.5" y="522.5" font-size="9.2" font-family="Liberation Serif" font-weight="bold"><tspan font-style="italic">P</tspan> &lt; 0.05 vs.</text>
<text x="490" y="533.5" font-size="9.5" text-anchor="middle" fill="#000" >SU-Hx + Vehicle</text>
<text transform="translate(290.3,462) rotate(-90)" font-size="12" text-anchor="middle" font-family="Liberation Serif" font-weight="bold">PVVTI (cm)</text>
<text x="-0.6" y="596.9" font-size="20" text-anchor="start" fill="#000" >E</text>
<text x="70" y="624.5" font-size="12" text-anchor="middle" fill="#000" >Normoxia</text>
<rect x="20.2" y="628.8" width="99.6" height="2" fill="#000"/>
<text x="228.5" y="610.3" font-size="12" text-anchor="middle" fill="#000" >SU-Hx (Vehicle)</text>
<rect x="126.6" y="613.4" width="204.4" height="2" fill="#000"/>
<text x="174.6" y="629.7" font-size="12" text-anchor="middle" fill="#000" >3 Weeks</text>
<rect x="199.7" y="624.5" width="45.30000000000001" height="2.2" fill="#000"/>
<path d="M243,620.6 Q244.5,625.6 243,630.6 L258,625.6 Z" fill="#000"/>
<text x="283.2" y="629.7" font-size="12" text-anchor="middle" fill="#000" >7 Weeks</text>
<text x="440.5" y="610.3" font-size="12" text-anchor="middle" fill="#000" >SU-Hx (AMB/TAD)</text>
<rect x="339" y="613.4" width="204.3" height="2" fill="#000"/>
<text x="391.4" y="629.7" font-size="12" text-anchor="middle" fill="#000" >3 Weeks</text>
<rect x="414.2" y="624.5" width="46.80000000000001" height="2.2" fill="#000"/>
<path d="M459,620.6 Q460.5,625.6 459,630.6 L474,625.6 Z" fill="#000"/>
<text x="495.7" y="629.7" font-size="12" text-anchor="middle" fill="#000" >7 Weeks</text>
<clipPath id="clipE0"><rect x="18.5" y="633.4" width="101.3" height="108.4"/></clipPath>
<g clip-path="url(#clipE0)">
<rect x="18.5" y="633.4" width="101.3" height="108.4" fill="#3a3a3a"/>
<line x1="18.5" y1="635.5" x2="119.8" y2="634.8" stroke="rgb(27,27,27)" stroke-width="0.7" opacity="0.67"/>
<line x1="18.5" y1="637.6" x2="119.8" y2="636.4" stroke="rgb(118,118,118)" stroke-width="0.8" opacity="0.31"/>
<line x1="18.5" y1="639.1" x2="119.8" y2="637.7" stroke="rgb(78,78,78)" stroke-width="0.6" opacity="0.62"/>
<line x1="18.5" y1="641.1" x2="119.8" y2="641.4" stroke="rgb(48,48,48)" stroke-width="1.1" opacity="0.30"/>
<line x1="18.5" y1="643.4" x2="119.8" y2="643.0" stroke="rgb(98,98,98)" stroke-width="0.6" opacity="0.78"/>
<line x1="18.5" y1="645.1" x2="119.8" y2="643.9" stroke="rgb(34,34,34)" stroke-width="1.1" opacity="0.60"/>
<line x1="18.5" y1="647.4" x2="119.8" y2="647.5" stroke="rgb(101,101,101)" stroke-width="1.2" opacity="0.49"/>
<line x1="18.5" y1="649.4" x2="119.8" y2="649.8" stroke="rgb(112,112,112)" stroke-width="1.1" opacity="0.59"/>
<line x1="18.5" y1="651.6" x2="119.8" y2="650.8" stroke="rgb(29,29,29)" stroke-width="0.7" opacity="0.34"/>
<line x1="18.5" y1="653.1" x2="119.8" y2="652.5" stroke="rgb(35,35,35)" stroke-width="0.9" opacity="0.48"/>
<line x1="18.5" y1="654.8" x2="119.8" y2="654.1" stroke="rgb(46,46,46)" stroke-width="1.2" opacity="0.62"/>
<line x1="18.5" y1="656.9" x2="119.8" y2="657.6" stroke="rgb(42,42,42)" stroke-width="0.6" opacity="0.49"/>
<line x1="18.5" y1="659.5" x2="119.8" y2="659.7" stroke="rgb(92,92,92)" stroke-width="1.0" opacity="0.72"/>
<line x1="18.5" y1="661.8" x2="119.8" y2="660.4" stroke="rgb(49,49,49)" stroke-width="0.7" opacity="0.43"/>
<line x1="18.5" y1="663.3" x2="119.8" y2="664.4" stroke="rgb(124,124,124)" stroke-width="0.7" opacity="0.63"/>
<line x1="18.5" y1="665.0" x2="119.8" y2="664.9" stroke="rgb(121,121,121)" stroke-width="0.7" opacity="0.42"/>
<line x1="18.5" y1="667.0" x2="119.8" y2="667.3" stroke="rgb(52,52,52)" stroke-width="1.1" opacity="0.50"/>
<line x1="18.5" y1="668.5" x2="119.8" y2="668.5" stroke="rgb(129,129,129)" stroke-width="0.6" opacity="0.32"/>
<line x1="18.5" y1="669.9" x2="119.8" y2="670.7" stroke="rgb(90,90,90)" stroke-width="0.8" opacity="0.33"/>
<line x1="18.5" y1="671.6" x2="119.8" y2="671.7" stroke="rgb(129,129,129)" stroke-width="1.2" opacity="0.73"/>
<line x1="18.5" y1="672.8" x2="119.8" y2="673.4" stroke="rgb(100,100,100)" stroke-width="0.9" opacity="0.43"/>
<line x1="18.5" y1="674.9" x2="119.8" y2="674.7" stroke="rgb(36,36,36)" stroke-width="0.8" opacity="0.78"/>
<line x1="18.5" y1="677.3" x2="119.8" y2="677.3" stroke="rgb(52,52,52)" stroke-width="0.6" opacity="0.76"/>
<line x1="18.5" y1="679.8" x2="119.8" y2="680.2" stroke="rgb(56,56,56)" stroke-width="0.9" opacity="0.38"/>
<line x1="18.5" y1="682.0" x2="119.8" y2="682.9" stroke="rgb(81,81,81)" stroke-width="0.9" opacity="0.30"/>
<line x1="18.5" y1="683.7" x2="119.8" y2="685.0" stroke="rgb(27,27,27)" stroke-width="1.1" opacity="0.72"/>
<line x1="18.5" y1="685.3" x2="119.8" y2="686.4" stroke="rgb(31,31,31)" stroke-width="1.2" opacity="0.34"/>
<line x1="18.5" y1="687.2" x2="119.8" y2="688.0" stroke="rgb(32,32,32)" stroke-width="1.0" opacity="0.36"/>
<line x1="18.5" y1="689.1" x2="119.8" y2="688.4" stroke="rgb(82,82,82)" stroke-width="1.1" opacity="0.51"/>
<line x1="18.5" y1="690.6" x2="119.8" y2="691.2" stroke="rgb(81,81,81)" stroke-width="0.6" opacity="0.46"/>
<line x1="18.5" y1="693.1" x2="119.8" y2="693.0" stroke="rgb(93,93,93)" stroke-width="0.9" opacity="0.36"/>
<line x1="18.5" y1="694.7" x2="119.8" y2="694.9" stroke="rgb(60,60,60)" stroke-width="0.7" opacity="0.41"/>
<line x1="18.5" y1="696.0" x2="119.8" y2="695.1" stroke="rgb(91,91,91)" stroke-width="1.1" opacity="0.73"/>
<line x1="18.5" y1="697.3" x2="119.8" y2="697.8" stroke="rgb(49,49,49)" stroke-width="0.6" opacity="0.37"/>
<line x1="18.5" y1="699.8" x2="119.8" y2="699.7" stroke="rgb(84,84,84)" stroke-width="1.0" opacity="0.70"/>
<line x1="18.5" y1="701.2" x2="119.8" y2="701.0" stroke="rgb(35,35,35)" stroke-width="0.8" opacity="0.53"/>
<line x1="18.5" y1="703.5" x2="119.8" y2="704.9" stroke="rgb(95,95,95)" stroke-width="0.6" opacity="0.50"/>
<line x1="18.5" y1="705.1" x2="119.8" y2="704.4" stroke="rgb(115,115,115)" stroke-width="0.6" opacity="0.52"/>
<line x1="18.5" y1="706.9" x2="119.8" y2="706.2" stroke="rgb(54,54,54)" stroke-width="1.1" opacity="0.52"/>
<line x1="18.5" y1="709.3" x2="119.8" y2="708.0" stroke="rgb(82,82,82)" stroke-width="1.2" opacity="0.72"/>
<line x1="18.5" y1="711.9" x2="119.8" y2="712.9" stroke="rgb(122,122,122)" stroke-width="0.6" opacity="0.54"/>
<line x1="18.5" y1="713.4" x2="119.8" y2="712.1" stroke="rgb(67,67,67)" stroke-width="0.8" opacity="0.79"/>
<line x1="18.5" y1="715.0" x2="119.8" y2="714.8" stroke="rgb(107,107,107)" stroke-width="0.8" opacity="0.78"/>
<line x1="18.5" y1="717.5" x2="119.8" y2="718.2" stroke="rgb(83,83,83)" stroke-width="0.6" opacity="0.45"/>
<line x1="18.5" y1="720.1" x2="119.8" y2="720.2" stroke="rgb(85,85,85)" stroke-width="1.0" opacity="0.33"/>
<line x1="18.5" y1="722.1" x2="119.8" y2="723.2" stroke="rgb(77,77,77)" stroke-width="0.6" opacity="0.78"/>
<line x1="18.5" y1="723.4" x2="119.8" y2="723.7" stroke="rgb(44,44,44)" stroke-width="1.0" opacity="0.42"/>
<line x1="18.5" y1="724.8" x2="119.8" y2="724.0" stroke="rgb(118,118,118)" stroke-width="0.9" opacity="0.61"/>
<line x1="18.5" y1="726.6" x2="119.8" y2="726.7" stroke="rgb(86,86,86)" stroke-width="1.2" opacity="0.40"/>
<line x1="18.5" y1="728.8" x2="119.8" y2="728.5" stroke="rgb(50,50,50)" stroke-width="1.0" opacity="0.45"/>
<line x1="18.5" y1="730.4" x2="119.8" y2="729.2" stroke="rgb(103,103,103)" stroke-width="0.8" opacity="0.80"/>
<line x1="18.5" y1="733.0" x2="119.8" y2="732.2" stroke="rgb(32,32,32)" stroke-width="0.7" opacity="0.77"/>
<line x1="18.5" y1="735.5" x2="119.8" y2="735.1" stroke="rgb(117,117,117)" stroke-width="0.6" opacity="0.72"/>
<line x1="18.5" y1="737.6" x2="119.8" y2="739.1" stroke="rgb(89,89,89)" stroke-width="1.0" opacity="0.30"/>
<line x1="18.5" y1="740.0" x2="119.8" y2="740.5" stroke="rgb(56,56,56)" stroke-width="1.2" opacity="0.37"/>
<line x1="18.5" y1="741.4" x2="119.8" y2="741.5" stroke="rgb(36,36,36)" stroke-width="0.7" opacity="0.60"/>
<line x1="18.5" y1="743.6" x2="119.8" y2="744.0" stroke="rgb(46,46,46)" stroke-width="0.7" opacity="0.54"/>
<polygon points="18.5,679.0 28.0,672.0 36.0,665.0 44.0,660.0 52.5,658.5 60.0,662.0 67.0,667.0 74.0,673.0 81.3,679.5 88.0,672.0 95.0,664.0 104.0,656.5 112.0,657.0 120.0,658.0 119.8,701 18.5,701" fill="#4e4e4e" opacity="0.35" filter="url(#blur1)"/>
<polyline points="18.5,706.5 28.0,705.9 36.0,704.4 44.0,704.4 52.5,704.1 60.0,704.1 67.0,705.4 74.0,705.7 81.3,705.8 88.0,705.8 95.0,704.9 104.0,704.2 112.0,703.7 120.0,703.9" fill="none" stroke="rgb(235,235,235)" stroke-width="3.2" opacity="1.0" stroke-linejoin="round"/>
<polyline points="18.5,711.5 28.0,711.0 36.0,710.0 44.0,709.9 52.5,709.5 60.0,709.3 67.0,709.6 74.0,710.3 81.3,711.6 88.0,710.8 95.0,710.3 104.0,709.7 112.0,708.9 120.0,709.1" fill="none" stroke="rgb(150,150,150)" stroke-width="2.5" opacity="0.8" stroke-linejoin="round"/>
<polyline points="18.5,738.4 28.0,736.1 36.0,733.0 44.0,730.2 52.5,729.8 60.0,730.8 67.0,734.0 74.0,736.6 81.3,739.7 88.0,736.1 95.0,732.6 104.0,728.2 112.0,729.2 120.0,729.2" fill="none" stroke="rgb(175,175,175)" stroke-width="2.2" opacity="0.9" stroke-linejoin="round"/>
<polyline points="18.5,724.5 28.0,723.3 36.0,722.3 44.0,721.5 52.5,720.6 60.0,721.8 67.0,721.7 74.0,723.5 81.3,724.5 88.0,722.6 95.0,722.1 104.0,720.5 112.0,720.4 120.0,721.2" fill="none" stroke="rgb(90,90,90)" stroke-width="3" opacity="0.6" stroke-linejoin="round"/>
<polyline points="18.5,699.0 28.0,698.0 36.0,697.5 44.0,697.2 52.5,697.7 60.0,698.2 67.0,697.8 74.0,698.9 81.3,699.2 88.0,699.2 95.0,697.8 104.0,697.6 112.0,696.6 120.0,697.8" fill="none" stroke="rgb(100,100,100)" stroke-width="3" opacity="0.6" stroke-linejoin="round"/>
<polygon points="18.5,633.4 119.8,633.4 120.0,658.0 112.0,657.0 104.0,656.5 95.0,664.0 88.0,672.0 81.3,679.5 74.0,673.0 67.0,667.0 60.0,662.0 52.5,658.5 44.0,660.0 36.0,665.0 28.0,672.0 18.5,679.0" fill="#bcbcbc"/>
<polyline points="18.5,677.3 28.0,670.1 36.0,663.4 44.0,658.7 52.5,656.8 60.0,660.6 67.0,665.5 74.0,671.4 81.3,678.1 88.0,670.3 95.0,662.7 104.0,654.5 112.0,655.9 120.0,656.5" fill="none" stroke="rgb(135,135,135)" stroke-width="1.8" opacity="0.82"/>
<polyline points="18.5,674.8 28.0,668.4 36.0,661.1 44.0,656.1 52.5,655.1 60.0,658.5 67.0,663.1 74.0,669.1 81.3,675.7 88.0,668.2 95.0,660.1 104.0,652.4 112.0,653.2 120.0,654.7" fill="none" stroke="rgb(207,207,207)" stroke-width="1.0" opacity="0.80"/>
<polyline points="18.5,672.8 28.0,665.3 36.0,658.6 44.0,653.7 52.5,652.4 60.0,656.0 67.0,660.8 74.0,666.7 81.3,673.0 88.0,665.8 95.0,658.2 104.0,650.6 112.0,650.5 120.0,651.4" fill="none" stroke="rgb(199,199,199)" stroke-width="1.0" opacity="0.73"/>
<polyline points="18.5,671.0 28.0,663.9 36.0,656.4 44.0,651.4 52.5,649.7 60.0,653.5 67.0,658.7 74.0,665.1 81.3,670.8 88.0,663.6 95.0,655.8 104.0,647.9 112.0,648.9 120.0,649.7" fill="none" stroke="rgb(158,158,158)" stroke-width="1.6" opacity="0.61"/>
<polyline points="18.5,668.9 28.0,661.2 36.0,654.5 44.0,649.3 52.5,648.6 60.0,651.6 67.0,656.1 74.0,662.3 81.3,669.4 88.0,661.5 95.0,653.9 104.0,646.3 112.0,647.1 120.0,647.7" fill="none" stroke="rgb(110,110,110)" stroke-width="1.5" opacity="0.93"/>
<polyline points="18.5,666.1 28.0,659.5 36.0,652.2 44.0,647.5 52.5,645.9 60.0,649.1 67.0,653.9 74.0,659.9 81.3,666.8 88.0,659.4 95.0,651.2 104.0,643.8 112.0,643.9 120.0,644.7" fill="none" stroke="rgb(198,198,198)" stroke-width="1.5" opacity="0.63"/>
<polyline points="18.5,664.2 28.0,657.3 36.0,650.8 44.0,645.8 52.5,643.6 60.0,647.5 67.0,652.6 74.0,658.5 81.3,664.8 88.0,657.5 95.0,650.0 104.0,642.1 112.0,642.8 120.0,643.9" fill="none" stroke="rgb(156,156,156)" stroke-width="1.2" opacity="0.84"/>
<polyline points="18.5,663.1 28.0,656.2 36.0,649.3 44.0,643.8 52.5,642.6 60.0,645.9 67.0,650.9 74.0,656.6 81.3,663.1 88.0,655.8 95.0,647.4 104.0,640.2 112.0,641.0 120.0,641.7" fill="none" stroke="rgb(110,110,110)" stroke-width="1.0" opacity="0.57"/>
<polyline points="18.5,660.5 28.0,653.9 36.0,647.0 44.0,641.5 52.5,640.6 60.0,643.6 67.0,648.9 74.0,654.5 81.3,661.4 88.0,653.7 95.0,645.8 104.0,638.7 112.0,638.9 120.0,640.2" fill="none" stroke="rgb(128,128,128)" stroke-width="1.3" opacity="0.87"/>
<polyline points="18.5,659.5 28.0,652.9 36.0,645.3 44.0,640.6 52.5,639.2 60.0,642.6 67.0,647.7 74.0,653.9 81.3,659.6 88.0,651.9 95.0,644.1 104.0,636.6 112.0,637.6 120.0,638.5" fill="none" stroke="rgb(121,121,121)" stroke-width="0.6" opacity="0.60"/>
<polyline points="18.5,657.4 28.0,650.5 36.0,642.9 44.0,638.6 52.5,637.2 60.0,639.9 67.0,644.8 74.0,651.1 81.3,657.9 88.0,650.7 95.0,642.1 104.0,635.0 112.0,634.8 120.0,636.4" fill="none" stroke="rgb(221,221,221)" stroke-width="0.8" opacity="0.78"/>
<polyline points="18.5,656.0 28.0,648.5 36.0,642.4 44.0,637.2 52.5,635.2 60.0,638.8 67.0,643.8 74.0,649.9 81.3,656.2 88.0,649.3 95.0,641.2 104.0,633.0 112.0,634.4 120.0,635.0" fill="none" stroke="rgb(222,222,222)" stroke-width="1.6" opacity="0.87"/>
<polyline points="18.5,654.2 28.0,646.5 36.0,640.0 44.0,634.8 52.5,633.2 60.0,636.6 67.0,641.9 74.0,647.5 81.3,654.6 88.0,647.0 95.0,638.3 104.0,631.6 112.0,631.5 120.0,632.7" fill="none" stroke="rgb(173,173,173)" stroke-width="1.5" opacity="0.77"/>
<polyline points="18.5,651.7 28.0,644.7 36.0,638.3 44.0,632.8 52.5,631.9 60.0,635.2 67.0,639.8 74.0,645.5 81.3,652.9 88.0,644.6 95.0,637.2 104.0,629.5 112.0,630.2 120.0,631.2" fill="none" stroke="rgb(114,114,114)" stroke-width="1.6" opacity="0.79"/>
<polyline points="18.5,649.8 28.0,643.3 36.0,635.9 44.0,631.2 52.5,629.6 60.0,633.1 67.0,638.0 74.0,644.3 81.3,650.4 88.0,643.3 95.0,634.9 104.0,627.3 112.0,627.7 120.0,628.8" fill="none" stroke="rgb(224,224,224)" stroke-width="0.7" opacity="0.55"/>
<polyline points="18.5,647.9 28.0,641.1 36.0,634.4 44.0,629.6 52.5,627.7 60.0,630.9 67.0,635.7 74.0,641.8 81.3,648.4 88.0,640.8 95.0,632.7 104.0,625.7 112.0,625.9 120.0,627.6" fill="none" stroke="rgb(220,220,220)" stroke-width="0.8" opacity="0.75"/>
<polyline points="18.5,646.0 28.0,639.3 36.0,632.0 44.0,626.9 52.5,625.4 60.0,628.7 67.0,633.5 74.0,640.4 81.3,646.4 88.0,639.3 95.0,630.9 104.0,623.0 112.0,624.1 120.0,624.5" fill="none" stroke="rgb(128,128,128)" stroke-width="1.6" opacity="0.57"/>
<polyline points="18.5,643.6 28.0,637.2 36.0,630.1 44.0,625.3 52.5,623.2 60.0,627.0 67.0,631.9 74.0,637.9 81.3,644.8 88.0,637.5 95.0,628.8 104.0,621.6 112.0,622.1 120.0,623.2" fill="none" stroke="rgb(154,154,154)" stroke-width="1.8" opacity="0.93"/>
<polyline points="18.5,642.1 28.0,635.2 36.0,628.1 44.0,623.0 52.5,621.9 60.0,625.6 67.0,630.3 74.0,636.2 81.3,643.2 88.0,635.7 95.0,627.4 104.0,620.2 112.0,620.9 120.0,621.8" fill="none" stroke="rgb(140,140,140)" stroke-width="1.4" opacity="0.78"/>
<polyline points="18.5,640.4 28.0,633.5 36.0,626.8 44.0,621.7 52.5,619.4 60.0,623.0 67.0,628.2 74.0,634.6 81.3,640.9 88.0,633.2 95.0,625.0 104.0,618.1 112.0,618.6 120.0,619.8" fill="none" stroke="rgb(245,245,245)" stroke-width="1.1" opacity="0.73"/>
<polyline points="18.5,638.4 28.0,631.3 36.0,624.2 44.0,619.1 52.5,618.4 60.0,621.8 67.0,626.5 74.0,632.9 81.3,639.5 88.0,631.6 95.0,623.2 104.0,615.5 112.0,616.7 120.0,617.4" fill="none" stroke="rgb(121,121,121)" stroke-width="0.6" opacity="0.79"/>
<polyline points="18.5,636.1 28.0,629.0 36.0,621.6 44.0,616.8 52.5,615.3 60.0,619.2 67.0,624.3 74.0,629.8 81.3,636.7 88.0,628.8 95.0,621.4 104.0,613.8 112.0,614.0 120.0,614.9" fill="none" stroke="rgb(136,136,136)" stroke-width="1.3" opacity="0.64"/>
<polyline points="18.5,634.4 28.0,627.8 36.0,620.5 44.0,615.4 52.5,613.8 60.0,617.0 67.0,622.2 74.0,628.6 81.3,635.0 88.0,627.6 95.0,619.0 104.0,611.9 112.0,612.8 120.0,613.3" fill="none" stroke="rgb(250,250,250)" stroke-width="1.1" opacity="0.81"/>
<polyline points="18.5,632.7 28.0,625.6 36.0,619.0 44.0,614.0 52.5,612.1 60.0,616.5 67.0,621.4 74.0,626.9 81.3,633.1 88.0,626.3 95.0,618.0 104.0,610.7 112.0,611.0 120.0,611.7" fill="none" stroke="rgb(251,251,251)" stroke-width="1.3" opacity="0.88"/>
<polyline points="18.5,630.3 28.0,623.8 36.0,616.4 44.0,611.8 52.5,610.3 60.0,613.2 67.0,618.7 74.0,624.3 81.3,631.3 88.0,623.4 95.0,615.7 104.0,607.7 112.0,608.2 120.0,609.5" fill="none" stroke="rgb(145,145,145)" stroke-width="1.3" opacity="0.95"/>
<polyline points="18.5,628.4 28.0,621.6 36.0,614.6 44.0,609.5 52.5,607.8 60.0,611.2 67.0,616.7 74.0,622.6 81.3,628.7 88.0,621.8 95.0,613.1 104.0,606.3 112.0,606.7 120.0,607.8" fill="none" stroke="rgb(131,131,131)" stroke-width="1.2" opacity="0.67"/>
<polyline points="18.5,626.4 28.0,618.9 36.0,612.4 44.0,607.5 52.5,606.2 60.0,609.8 67.0,614.3 74.0,620.4 81.3,626.8 88.0,619.6 95.0,611.3 104.0,604.0 112.0,604.0 120.0,605.3" fill="none" stroke="rgb(229,229,229)" stroke-width="1.8" opacity="0.94"/>
<polyline points="18.5,625.1 28.0,618.1 36.0,611.1 44.0,605.6 52.5,604.0 60.0,607.9 67.0,613.0 74.0,619.1 81.3,624.7 88.0,617.3 95.0,609.8 104.0,602.6 112.0,603.2 120.0,604.0" fill="none" stroke="rgb(210,210,210)" stroke-width="1.4" opacity="0.70"/>
<polyline points="18.5,623.3 28.0,616.6 36.0,609.8 44.0,603.9 52.5,603.2 60.0,606.2 67.0,611.2 74.0,617.0 81.3,623.9 88.0,616.4 95.0,608.7 104.0,600.5 112.0,600.9 120.0,602.7" fill="none" stroke="rgb(201,201,201)" stroke-width="1.6" opacity="0.78"/>
<polyline points="18.5,621.8 28.0,614.6 36.0,607.6 44.0,602.3 52.5,601.6 60.0,605.2 67.0,610.0 74.0,615.5 81.3,622.3 88.0,614.7 95.0,606.9 104.0,599.5 112.0,599.8 120.0,600.6" fill="none" stroke="rgb(242,242,242)" stroke-width="0.8" opacity="0.88"/>
<polyline points="18.5,620.1 28.0,613.4 36.0,606.4 44.0,601.8 52.5,599.6 60.0,603.8 67.0,608.5 74.0,614.1 81.3,620.9 88.0,613.5 95.0,605.6 104.0,597.4 112.0,598.5 120.0,599.3" fill="none" stroke="rgb(165,165,165)" stroke-width="1.2" opacity="0.91"/>
<polyline points="18.5,618.6 28.0,611.9 36.0,604.9 44.0,599.9 52.5,598.5 60.0,601.9 67.0,607.1 74.0,612.9 81.3,619.7 88.0,611.9 95.0,603.6 104.0,596.2 112.0,596.8 120.0,598.0" fill="none" stroke="rgb(225,225,225)" stroke-width="1.3" opacity="0.54"/>
<polyline points="18.5,616.8 28.0,610.2 36.0,603.6 44.0,598.2 52.5,597.1 60.0,600.5 67.0,604.9 74.0,611.5 81.3,617.6 88.0,610.4 95.0,602.4 104.0,594.5 112.0,594.8 120.0,596.6" fill="none" stroke="rgb(218,218,218)" stroke-width="0.8" opacity="0.56"/>
<rect x="18.5" y="633.4" width="101.3" height="12" fill="#c8c8c8" opacity="0.85"/>
<line x1="18.5" y1="633.9" x2="119.8" y2="634.3" stroke="rgb(231,231,231)" stroke-width="1.3" opacity="0.98"/>
<line x1="18.5" y1="635.9" x2="119.8" y2="636.3" stroke="rgb(150,150,150)" stroke-width="0.5" opacity="0.77"/>
<line x1="18.5" y1="637.4" x2="119.8" y2="637.7" stroke="rgb(201,201,201)" stroke-width="1.0" opacity="0.91"/>
<line x1="18.5" y1="639.5" x2="119.8" y2="639.1" stroke="rgb(107,107,107)" stroke-width="0.5" opacity="0.94"/>
<line x1="18.5" y1="641.2" x2="119.8" y2="640.8" stroke="rgb(241,241,241)" stroke-width="0.6" opacity="0.91"/>
<line x1="18.5" y1="643.3" x2="119.8" y2="643.2" stroke="rgb(139,139,139)" stroke-width="0.6" opacity="0.97"/>
<line x1="18.5" y1="644.7" x2="119.8" y2="644.0" stroke="rgb(171,171,171)" stroke-width="1.2" opacity="0.57"/>
<line x1="18.5" y1="646.2" x2="119.8" y2="646.6" stroke="rgb(200,200,200)" stroke-width="1.3" opacity="0.71"/>
<rect x="18.5" y="633.4" width="101.3" height="108.4" fill="#000" filter="url(#enoise)" opacity="0.45"/>
<polygon points="18.5,633.4 119.8,633.4 120.0,658.0 112.0,657.0 104.0,656.5 95.0,664.0 88.0,672.0 81.3,679.5 74.0,673.0 67.0,667.0 60.0,662.0 52.5,658.5 44.0,660.0 36.0,665.0 28.0,672.0 18.5,679.0" fill="#fff" opacity="0.3" filter="url(#enoise2)"/>
<polyline points="18.5,679.0 28.0,672.0 36.0,665.0 44.0,660.0 52.5,658.5 60.0,662.0 67.0,667.0 74.0,673.0 81.3,679.5 88.0,672.0 95.0,664.0 104.0,656.5 112.0,657.0 120.0,658.0" fill="none" stroke="#f4f4f4" stroke-width="1.6" stroke-linejoin="round" opacity="0.85"/>
<line x1="52.7" y1="645" x2="52.7" y2="658.3" stroke="#1fd0d8" stroke-width="1.6"/>
<line x1="81.4" y1="661.8" x2="81.4" y2="679.2" stroke="#1fd0d8" stroke-width="1.6"/>
</g>
<clipPath id="clipE1"><rect x="123.8" y="633.4" width="101.2" height="108.4"/></clipPath>
<g clip-path="url(#clipE1)">
<rect x="123.8" y="633.4" width="101.2" height="108.4" fill="#444"/>
<line x1="123.8" y1="634.8" x2="225" y2="633.6" stroke="rgb(68,68,68)" stroke-width="0.8" opacity="0.50"/>
<line x1="123.8" y1="637.3" x2="225" y2="637.0" stroke="rgb(28,28,28)" stroke-width="0.8" opacity="0.78"/>
<line x1="123.8" y1="639.7" x2="225" y2="640.3" stroke="rgb(35,35,35)" stroke-width="0.9" opacity="0.79"/>
<line x1="123.8" y1="641.4" x2="225" y2="640.5" stroke="rgb(66,66,66)" stroke-width="0.6" opacity="0.72"/>
<line x1="123.8" y1="643.3" x2="225" y2="643.7" stroke="rgb(94,94,94)" stroke-width="0.9" opacity="0.31"/>
<line x1="123.8" y1="645.6" x2="225" y2="644.5" stroke="rgb(50,50,50)" stroke-width="0.9" opacity="0.33"/>
<line x1="123.8" y1="647.9" x2="225" y2="647.0" stroke="rgb(46,46,46)" stroke-width="1.1" opacity="0.46"/>
<line x1="123.8" y1="649.3" x2="225" y2="647.8" stroke="rgb(119,119,119)" stroke-width="1.1" opacity="0.37"/>
<line x1="123.8" y1="650.6" x2="225" y2="649.7" stroke="rgb(51,51,51)" stroke-width="1.0" opacity="0.31"/>
<line x1="123.8" y1="651.9" x2="225" y2="651.1" stroke="rgb(107,107,107)" stroke-width="0.7" opacity="0.39"/>
<line x1="123.8" y1="653.1" x2="225" y2="653.2" stroke="rgb(102,102,102)" stroke-width="1.0" opacity="0.54"/>
<line x1="123.8" y1="655.4" x2="225" y2="654.3" stroke="rgb(78,78,78)" stroke-width="0.9" opacity="0.77"/>
<line x1="123.8" y1="656.7" x2="225" y2="657.8" stroke="rgb(107,107,107)" stroke-width="0.9" opacity="0.53"/>
<line x1="123.8" y1="659.2" x2="225" y2="659.2" stroke="rgb(31,31,31)" stroke-width="0.8" opacity="0.64"/>
<line x1="123.8" y1="661.1" x2="225" y2="659.8" stroke="rgb(120,120,120)" stroke-width="0.6" opacity="0.60"/>
<line x1="123.8" y1="662.4" x2="225" y2="662.8" stroke="rgb(53,53,53)" stroke-width="0.9" opacity="0.46"/>
<line x1="123.8" y1="665.0" x2="225" y2="664.9" stroke="rgb(80,80,80)" stroke-width="0.9" opacity="0.35"/>
<line x1="123.8" y1="667.2" x2="225" y2="667.6" stroke="rgb(114,114,114)" stroke-width="1.0" opacity="0.66"/>
<line x1="123.8" y1="668.7" x2="225" y2="667.9" stroke="rgb(72,72,72)" stroke-width="0.7" opacity="0.53"/>
<line x1="123.8" y1="670.5" x2="225" y2="670.3" stroke="rgb(34,34,34)" stroke-width="1.0" opacity="0.49"/>
<line x1="123.8" y1="671.9" x2="225" y2="670.6" stroke="rgb(121,121,121)" stroke-width="1.1" opacity="0.35"/>
<line x1="123.8" y1="673.2" x2="225" y2="674.2" stroke="rgb(102,102,102)" stroke-width="0.9" opacity="0.59"/>
<line x1="123.8" y1="675.2" x2="225" y2="674.1" stroke="rgb(59,59,59)" stroke-width="0.7" opacity="0.63"/>
<line x1="123.8" y1="677.5" x2="225" y2="678.1" stroke="rgb(116,116,116)" stroke-width="1.2" opacity="0.60"/>
<line x1="123.8" y1="679.2" x2="225" y2="678.3" stroke="rgb(85,85,85)" stroke-width="1.0" opacity="0.41"/>
<line x1="123.8" y1="680.5" x2="225" y2="680.1" stroke="rgb(113,113,113)" stroke-width="1.0" opacity="0.59"/>
<line x1="123.8" y1="682.8" x2="225" y2="684.3" stroke="rgb(113,113,113)" stroke-width="1.1" opacity="0.61"/>
<line x1="123.8" y1="684.9" x2="225" y2="686.2" stroke="rgb(27,27,27)" stroke-width="1.1" opacity="0.43"/>
<line x1="123.8" y1="686.4" x2="225" y2="685.8" stroke="rgb(98,98,98)" stroke-width="0.7" opacity="0.30"/>
<line x1="123.8" y1="688.8" x2="225" y2="688.5" stroke="rgb(84,84,84)" stroke-width="0.6" opacity="0.62"/>
<line x1="123.8" y1="690.0" x2="225" y2="689.2" stroke="rgb(103,103,103)" stroke-width="0.8" opacity="0.47"/>
<line x1="123.8" y1="691.8" x2="225" y2="692.6" stroke="rgb(100,100,100)" stroke-width="0.9" opacity="0.34"/>
<line x1="123.8" y1="693.0" x2="225" y2="693.4" stroke="rgb(41,41,41)" stroke-width="1.0" opacity="0.44"/>
<line x1="123.8" y1="695.2" x2="225" y2="695.0" stroke="rgb(75,75,75)" stroke-width="0.7" opacity="0.68"/>
<line x1="123.8" y1="696.5" x2="225" y2="695.9" stroke="rgb(70,70,70)" stroke-width="1.0" opacity="0.54"/>
<line x1="123.8" y1="698.7" x2="225" y2="698.3" stroke="rgb(29,29,29)" stroke-width="0.9" opacity="0.30"/>
<line x1="123.8" y1="700.3" x2="225" y2="699.2" stroke="rgb(47,47,47)" stroke-width="0.7" opacity="0.46"/>
<line x1="123.8" y1="701.5" x2="225" y2="700.5" stroke="rgb(103,103,103)" stroke-width="0.8" opacity="0.65"/>
<line x1="123.8" y1="703.4" x2="225" y2="704.3" stroke="rgb(112,112,112)" stroke-width="0.6" opacity="0.73"/>
<line x1="123.8" y1="704.7" x2="225" y2="705.9" stroke="rgb(26,26,26)" stroke-width="1.1" opacity="0.59"/>
<line x1="123.8" y1="706.7" x2="225" y2="706.4" stroke="rgb(99,99,99)" stroke-width="0.6" opacity="0.31"/>
<line x1="123.8" y1="708.3" x2="225" y2="708.7" stroke="rgb(109,109,109)" stroke-width="1.1" opacity="0.76"/>
<line x1="123.8" y1="709.6" x2="225" y2="708.9" stroke="rgb(113,113,113)" stroke-width="0.9" opacity="0.56"/>
<line x1="123.8" y1="711.4" x2="225" y2="710.9" stroke="rgb(57,57,57)" stroke-width="0.7" opacity="0.38"/>
<line x1="123.8" y1="713.3" x2="225" y2="713.3" stroke="rgb(36,36,36)" stroke-width="1.1" opacity="0.47"/>
<line x1="123.8" y1="715.5" x2="225" y2="716.5" stroke="rgb(110,110,110)" stroke-width="0.7" opacity="0.37"/>
<line x1="123.8" y1="717.0" x2="225" y2="717.8" stroke="rgb(88,88,88)" stroke-width="1.0" opacity="0.39"/>
<line x1="123.8" y1="719.3" x2="225" y2="720.0" stroke="rgb(76,76,76)" stroke-width="1.0" opacity="0.52"/>
<line x1="123.8" y1="721.8" x2="225" y2="722.2" stroke="rgb(84,84,84)" stroke-width="0.9" opacity="0.73"/>
<line x1="123.8" y1="723.9" x2="225" y2="722.6" stroke="rgb(40,40,40)" stroke-width="0.8" opacity="0.45"/>
<line x1="123.8" y1="725.4" x2="225" y2="725.5" stroke="rgb(30,30,30)" stroke-width="0.7" opacity="0.53"/>
<line x1="123.8" y1="726.7" x2="225" y2="725.4" stroke="rgb(112,112,112)" stroke-width="1.1" opacity="0.73"/>
<line x1="123.8" y1="728.8" x2="225" y2="728.7" stroke="rgb(78,78,78)" stroke-width="0.9" opacity="0.70"/>
<line x1="123.8" y1="731.2" x2="225" y2="732.2" stroke="rgb(72,72,72)" stroke-width="1.0" opacity="0.46"/>
<line x1="123.8" y1="733.1" x2="225" y2="731.8" stroke="rgb(40,40,40)" stroke-width="0.6" opacity="0.75"/>
<line x1="123.8" y1="734.8" x2="225" y2="734.8" stroke="rgb(100,100,100)" stroke-width="0.6" opacity="0.42"/>
<line x1="123.8" y1="736.6" x2="225" y2="736.7" stroke="rgb(71,71,71)" stroke-width="0.6" opacity="0.49"/>
<line x1="123.8" y1="738.2" x2="225" y2="737.7" stroke="rgb(67,67,67)" stroke-width="0.9" opacity="0.69"/>
<line x1="123.8" y1="740.3" x2="225" y2="739.1" stroke="rgb(31,31,31)" stroke-width="1.0" opacity="0.44"/>
<line x1="123.8" y1="742.5" x2="225" y2="743.7" stroke="rgb(93,93,93)" stroke-width="1.1" opacity="0.47"/>
<polygon points="123.8,676.0 130.0,679.5 137.0,683.0 144.0,686.0 150.5,687.5 156.0,680.0 161.0,675.0 166.0,671.5 171.7,670.5 180.0,673.0 190.0,677.0 200.0,682.0 211.5,687.5 218.0,682.0 225.0,676.0 225,710 123.8,710" fill="#2e2e2e" opacity="0.7" filter="url(#blur1)"/>
<polyline points="123.8,713.2 130.0,713.7 137.0,715.0 144.0,716.6 150.5,716.8 156.0,714.1 161.0,712.9 166.0,712.2 171.7,711.2 180.0,712.0 190.0,713.7 200.0,715.2 211.5,716.7 218.0,715.3 225.0,713.4" fill="none" stroke="rgb(200,200,200)" stroke-width="3.5" opacity="0.95" stroke-linejoin="round"/>
<polyline points="123.8,718.4 130.0,719.1 137.0,720.2 144.0,720.6 150.5,720.9 156.0,719.1 161.0,717.6 166.0,716.8 171.7,717.4 180.0,717.5 190.0,718.1 200.0,719.3 211.5,720.6 218.0,720.1 225.0,717.7" fill="none" stroke="rgb(140,140,140)" stroke-width="3.5" opacity="0.8" stroke-linejoin="round"/>
<polyline points="123.8,727.6 130.0,728.5 137.0,729.4 144.0,729.2 150.5,729.9 156.0,728.5 161.0,726.5 166.0,726.0 171.7,725.4 180.0,726.9 190.0,727.8 200.0,729.1 211.5,729.7 218.0,728.7 225.0,727.1" fill="none" stroke="rgb(120,120,120)" stroke-width="3" opacity="0.7" stroke-linejoin="round"/>
<polyline points="123.8,736.6 130.0,736.8 137.0,737.7 144.0,738.1 150.5,739.0 156.0,737.1 161.0,736.2 166.0,735.3 171.7,735.7 180.0,735.7 190.0,737.0 200.0,737.4 211.5,739.2 218.0,738.2 225.0,736.3" fill="none" stroke="rgb(110,110,110)" stroke-width="2.5" opacity="0.7" stroke-linejoin="round"/>
<polygon points="123.8,633.4 225,633.4 225.0,676.0 218.0,682.0 211.5,687.5 200.0,682.0 190.0,677.0 180.0,673.0 171.7,670.5 166.0,671.5 161.0,675.0 156.0,680.0 150.5,687.5 144.0,686.0 137.0,683.0 130.0,679.5 123.8,676.0" fill="#7c7c7c"/>
<polyline points="123.8,674.5 130.0,678.5 137.0,681.8 144.0,684.8 150.5,685.6 156.0,678.3 161.0,673.6 166.0,670.4 171.7,669.1 180.0,671.1 190.0,675.8 200.0,680.9 211.5,685.8 218.0,680.8 225.0,674.3" fill="none" stroke="rgb(103,103,103)" stroke-width="1.1" opacity="0.91"/>
<polyline points="123.8,672.8 130.0,676.5 137.0,679.9 144.0,682.6 150.5,684.1 156.0,677.1 161.0,671.8 166.0,669.1 171.7,667.5 180.0,669.6 190.0,674.5 200.0,679.4 211.5,684.7 218.0,679.4 225.0,672.7" fill="none" stroke="rgb(133,133,133)" stroke-width="1.7" opacity="0.63"/>
<polyline points="123.8,670.9 130.0,674.2 137.0,677.2 144.0,680.3 150.5,682.0 156.0,675.1 161.0,669.8 166.0,666.5 171.7,665.3 180.0,667.3 190.0,671.5 200.0,676.5 211.5,681.8 218.0,676.7 225.0,671.0" fill="none" stroke="rgb(182,182,182)" stroke-width="0.8" opacity="0.71"/>
<polyline points="123.8,668.9 130.0,672.9 137.0,676.1 144.0,679.0 150.5,680.8 156.0,673.5 161.0,668.1 166.0,664.8 171.7,664.0 180.0,666.0 190.0,670.9 200.0,674.9 211.5,680.9 218.0,675.4 225.0,669.9" fill="none" stroke="rgb(221,221,221)" stroke-width="1.3" opacity="0.75"/>
<polyline points="123.8,668.1 130.0,670.9 137.0,674.1 144.0,677.9 150.5,679.0 156.0,671.9 161.0,666.8 166.0,663.4 171.7,662.4 180.0,664.5 190.0,668.2 200.0,673.7 211.5,679.4 218.0,673.3 225.0,667.9" fill="none" stroke="rgb(139,139,139)" stroke-width="1.4" opacity="0.71"/>
<polyline points="123.8,665.0 130.0,669.2 137.0,672.4 144.0,675.3 150.5,676.5 156.0,669.2 161.0,664.0 166.0,661.4 171.7,660.0 180.0,662.9 190.0,666.5 200.0,671.2 211.5,677.2 218.0,671.1 225.0,665.3" fill="none" stroke="rgb(170,170,170)" stroke-width="1.6" opacity="0.85"/>
<polyline points="123.8,662.9 130.0,666.9 137.0,670.3 144.0,673.4 150.5,674.4 156.0,667.5 161.0,662.0 166.0,658.5 171.7,658.0 180.0,660.1 190.0,664.3 200.0,669.3 211.5,674.1 218.0,669.1 225.0,663.4" fill="none" stroke="rgb(113,113,113)" stroke-width="0.7" opacity="0.75"/>
<polyline points="123.8,661.2 130.0,665.0 137.0,668.3 144.0,671.6 150.5,672.7 156.0,664.9 161.0,660.8 166.0,656.7 171.7,656.4 180.0,658.2 190.0,662.9 200.0,667.8 211.5,672.5 218.0,667.5 225.0,661.3" fill="none" stroke="rgb(65,65,65)" stroke-width="1.4" opacity="0.86"/>
<polyline points="123.8,659.4 130.0,663.0 137.0,665.8 144.0,668.8 150.5,671.0 156.0,663.1 161.0,658.1 166.0,654.8 171.7,653.8 180.0,656.4 190.0,660.7 200.0,665.1 211.5,671.0 218.0,665.3 225.0,659.3" fill="none" stroke="rgb(231,231,231)" stroke-width="0.8" opacity="0.68"/>
<polyline points="123.8,657.4 130.0,660.6 137.0,664.0 144.0,667.2 150.5,668.4 156.0,660.9 161.0,656.1 166.0,653.1 171.7,651.4 180.0,654.6 190.0,658.1 200.0,662.8 211.5,669.0 218.0,663.1 225.0,657.5" fill="none" stroke="rgb(97,97,97)" stroke-width="0.7" opacity="0.70"/>
<polyline points="123.8,655.6 130.0,659.2 137.0,662.4 144.0,665.9 150.5,667.7 156.0,660.2 161.0,655.0 166.0,651.7 171.7,650.4 180.0,653.1 190.0,656.8 200.0,661.4 211.5,667.0 218.0,661.5 225.0,656.1" fill="none" stroke="rgb(179,179,179)" stroke-width="1.6" opacity="0.51"/>
<polyline points="123.8,653.9 130.0,657.4 137.0,660.4 144.0,663.6 150.5,665.8 156.0,658.1 161.0,652.9 166.0,649.6 171.7,648.7 180.0,650.4 190.0,655.3 200.0,660.0 211.5,665.3 218.0,660.0 225.0,653.7" fill="none" stroke="rgb(120,120,120)" stroke-width="1.6" opacity="0.90"/>
<polyline points="123.8,652.0 130.0,655.0 137.0,659.0 144.0,661.1 150.5,662.7 156.0,655.2 161.0,650.2 166.0,646.9 171.7,646.3 180.0,648.4 190.0,653.0 200.0,657.9 211.5,663.4 218.0,657.3 225.0,651.7" fill="none" stroke="rgb(171,171,171)" stroke-width="0.8" opacity="0.75"/>
<polyline points="123.8,650.2 130.0,653.3 137.0,657.6 144.0,659.8 150.5,661.8 156.0,654.4 161.0,649.3 166.0,646.0 171.7,644.7 180.0,647.5 190.0,650.7 200.0,655.7 211.5,661.8 218.0,656.2 225.0,650.3" fill="none" stroke="rgb(107,107,107)" stroke-width="1.2" opacity="0.85"/>
<polyline points="123.8,648.5 130.0,651.7 137.0,655.8 144.0,658.4 150.5,660.2 156.0,652.6 161.0,647.2 166.0,643.5 171.7,642.4 180.0,645.3 190.0,649.4 200.0,654.1 211.5,660.0 218.0,654.2 225.0,648.6" fill="none" stroke="rgb(171,171,171)" stroke-width="1.2" opacity="0.83"/>
<polyline points="123.8,645.9 130.0,649.5 137.0,652.8 144.0,655.9 150.5,657.2 156.0,649.7 161.0,644.6 166.0,641.3 171.7,640.4 180.0,643.1 190.0,646.7 200.0,652.3 211.5,657.1 218.0,651.8 225.0,646.1" fill="none" stroke="rgb(235,235,235)" stroke-width="0.8" opacity="0.64"/>
<polyline points="123.8,643.7 130.0,647.0 137.0,650.2 144.0,654.2 150.5,655.2 156.0,648.2 161.0,642.4 166.0,639.1 171.7,637.8 180.0,640.7 190.0,645.1 200.0,649.9 211.5,655.2 218.0,649.7 225.0,644.1" fill="none" stroke="rgb(144,144,144)" stroke-width="1.2" opacity="0.69"/>
<polyline points="123.8,641.1 130.0,644.7 137.0,648.3 144.0,651.0 150.5,652.8 156.0,644.8 161.0,640.3 166.0,637.0 171.7,635.6 180.0,638.8 190.0,642.5 200.0,646.9 211.5,653.3 218.0,647.2 225.0,641.6" fill="none" stroke="rgb(188,188,188)" stroke-width="1.5" opacity="0.65"/>
<polyline points="123.8,638.8 130.0,642.3 137.0,645.3 144.0,648.4 150.5,650.1 156.0,642.7 161.0,637.7 166.0,634.4 171.7,633.3 180.0,635.6 190.0,639.9 200.0,644.4 211.5,650.8 218.0,645.0 225.0,638.6" fill="none" stroke="rgb(193,193,193)" stroke-width="0.8" opacity="0.65"/>
<polyline points="123.8,636.2 130.0,640.2 137.0,643.3 144.0,646.6 150.5,648.4 156.0,640.5 161.0,635.7 166.0,632.1 171.7,631.1 180.0,632.9 190.0,637.4 200.0,642.9 211.5,648.2 218.0,642.7 225.0,636.5" fill="none" stroke="rgb(151,151,151)" stroke-width="1.5" opacity="0.82"/>
<polyline points="123.8,634.5 130.0,638.2 137.0,641.0 144.0,644.6 150.5,645.4 156.0,638.8 161.0,633.0 166.0,629.4 171.7,628.7 180.0,631.0 190.0,635.6 200.0,640.3 211.5,646.2 218.0,640.8 225.0,634.8" fill="none" stroke="rgb(82,82,82)" stroke-width="1.4" opacity="0.83"/>
<polyline points="123.8,632.9 130.0,636.8 137.0,640.1 144.0,642.9 150.5,644.3 156.0,637.5 161.0,631.9 166.0,628.5 171.7,627.9 180.0,630.3 190.0,634.2 200.0,639.3 211.5,644.7 218.0,638.8 225.0,632.8" fill="none" stroke="rgb(76,76,76)" stroke-width="0.8" opacity="0.75"/>
<polyline points="123.8,631.4 130.0,634.8 137.0,638.8 144.0,641.4 150.5,642.9 156.0,636.0 161.0,630.9 166.0,626.9 171.7,625.7 180.0,628.8 190.0,632.5 200.0,638.1 211.5,643.4 218.0,638.0 225.0,631.9" fill="none" stroke="rgb(234,234,234)" stroke-width="1.0" opacity="0.63"/>
<polyline points="123.8,629.9 130.0,633.2 137.0,637.0 144.0,639.7 150.5,641.5 156.0,634.4 161.0,629.2 166.0,625.1 171.7,624.6 180.0,627.1 190.0,630.7 200.0,636.2 211.5,641.5 218.0,636.1 225.0,629.5" fill="none" stroke="rgb(185,185,185)" stroke-width="1.0" opacity="0.69"/>
<polyline points="123.8,627.3 130.0,631.3 137.0,635.2 144.0,637.7 150.5,639.7 156.0,632.2 161.0,626.8 166.0,623.0 171.7,622.7 180.0,624.6 190.0,628.9 200.0,634.2 211.5,638.9 218.0,633.9 225.0,627.8" fill="none" stroke="rgb(69,69,69)" stroke-width="1.5" opacity="0.83"/>
<polyline points="123.8,625.6 130.0,628.4 137.0,632.7 144.0,635.8 150.5,636.7 156.0,629.3 161.0,624.7 166.0,621.2 171.7,620.2 180.0,622.6 190.0,625.8 200.0,631.3 211.5,636.4 218.0,631.7 225.0,625.0" fill="none" stroke="rgb(223,223,223)" stroke-width="0.8" opacity="0.95"/>
<polyline points="123.8,623.7 130.0,626.8 137.0,630.0 144.0,632.9 150.5,634.5 156.0,627.3 161.0,622.1 166.0,618.5 171.7,618.0 180.0,620.6 190.0,624.4 200.0,629.6 211.5,634.5 218.0,629.7 225.0,623.7" fill="none" stroke="rgb(143,143,143)" stroke-width="1.7" opacity="0.87"/>
<polyline points="123.8,621.1 130.0,624.5 137.0,628.2 144.0,631.1 150.5,632.6 156.0,625.1 161.0,620.6 166.0,617.3 171.7,615.7 180.0,618.6 190.0,621.9 200.0,627.5 211.5,633.1 218.0,626.9 225.0,621.0" fill="none" stroke="rgb(66,66,66)" stroke-width="1.4" opacity="0.64"/>
<polyline points="123.8,619.8 130.0,622.9 137.0,626.2 144.0,630.0 150.5,630.9 156.0,623.7 161.0,618.3 166.0,614.7 171.7,613.8 180.0,616.9 190.0,620.7 200.0,625.5 211.5,631.2 218.0,625.6 225.0,619.7" fill="none" stroke="rgb(145,145,145)" stroke-width="1.7" opacity="0.80"/>
<polyline points="123.8,618.5 130.0,621.2 137.0,625.1 144.0,628.3 150.5,629.2 156.0,622.2 161.0,616.7 166.0,613.7 171.7,612.6 180.0,615.2 190.0,618.8 200.0,623.9 211.5,629.6 218.0,623.7 225.0,617.8" fill="none" stroke="rgb(97,97,97)" stroke-width="1.5" opacity="0.76"/>
<polyline points="123.8,616.7 130.0,620.3 137.0,623.7 144.0,626.3 150.5,628.2 156.0,621.1 161.0,616.0 166.0,612.2 171.7,611.6 180.0,614.0 190.0,617.9 200.0,622.3 211.5,628.1 218.0,622.3 225.0,617.3" fill="none" stroke="rgb(146,146,146)" stroke-width="1.6" opacity="0.92"/>
<polyline points="123.8,615.4 130.0,619.3 137.0,622.8 144.0,626.0 150.5,627.1 156.0,619.4 161.0,615.0 166.0,610.9 171.7,610.4 180.0,612.9 190.0,616.4 200.0,621.7 211.5,627.1 218.0,621.5 225.0,615.6" fill="none" stroke="rgb(227,227,227)" stroke-width="0.6" opacity="0.66"/>
<polyline points="123.8,614.3 130.0,617.3 137.0,620.5 144.0,623.6 150.5,625.3 156.0,618.2 161.0,613.1 166.0,609.6 171.7,608.9 180.0,610.8 190.0,614.9 200.0,619.8 211.5,626.0 218.0,620.3 225.0,613.6" fill="none" stroke="rgb(152,152,152)" stroke-width="1.2" opacity="0.86"/>
<rect x="123.8" y="633.4" width="101.2" height="12" fill="#a0a0a0" opacity="0.85"/>
<line x1="123.8" y1="633.9" x2="225" y2="634.5" stroke="rgb(216,216,216)" stroke-width="0.5" opacity="0.60"/>
<line x1="123.8" y1="635.0" x2="225" y2="635.2" stroke="rgb(95,95,95)" stroke-width="1.1" opacity="0.52"/>
<line x1="123.8" y1="636.9" x2="225" y2="636.5" stroke="rgb(156,156,156)" stroke-width="0.7" opacity="0.93"/>
<line x1="123.8" y1="638.0" x2="225" y2="637.6" stroke="rgb(173,173,173)" stroke-width="1.2" opacity="0.87"/>
<line x1="123.8" y1="639.4" x2="225" y2="639.6" stroke="rgb(188,188,188)" stroke-width="0.8" opacity="0.65"/>
<line x1="123.8" y1="640.5" x2="225" y2="640.1" stroke="rgb(198,198,198)" stroke-width="0.7" opacity="0.53"/>
<line x1="123.8" y1="642.7" x2="225" y2="643.3" stroke="rgb(235,235,235)" stroke-width="1.0" opacity="0.71"/>
<line x1="123.8" y1="644.3" x2="225" y2="645.0" stroke="rgb(250,250,250)" stroke-width="1.0" opacity="0.89"/>
<line x1="123.8" y1="645.6" x2="225" y2="645.1" stroke="rgb(158,158,158)" stroke-width="0.8" opacity="0.88"/>
<rect x="123.8" y="633.4" width="101.2" height="108.4" fill="#000" filter="url(#enoise)" opacity="0.45"/>
<polyline points="123.8,676.0 130.0,679.5 137.0,683.0 144.0,686.0 150.5,687.5 156.0,680.0 161.0,675.0 166.0,671.5 171.7,670.5 180.0,673.0 190.0,677.0 200.0,682.0 211.5,687.5 218.0,682.0 225.0,676.0" fill="none" stroke="#f4f4f4" stroke-width="1.6" stroke-linejoin="round" opacity="0.85"/>
<line x1="150.8" y1="658.8" x2="150.8" y2="687.3" stroke="#1fd0d8" stroke-width="1.6"/>
<line x1="171.7" y1="638.6" x2="171.7" y2="665.9" stroke="#1fd0d8" stroke-width="1.6"/>
</g>
<clipPath id="clipE2"><rect x="228.3" y="633.4" width="105.6" height="108.4"/></clipPath>
<g clip-path="url(#clipE2)">
<rect x="228.3" y="633.4" width="105.6" height="108.4" fill="#444"/>
<line x1="228.3" y1="635.8" x2="333.9" y2="636.4" stroke="rgb(56,56,56)" stroke-width="1.1" opacity="0.76"/>
<line x1="228.3" y1="637.8" x2="333.9" y2="637.9" stroke="rgb(126,126,126)" stroke-width="0.6" opacity="0.42"/>
<line x1="228.3" y1="639.3" x2="333.9" y2="640.5" stroke="rgb(92,92,92)" stroke-width="1.1" opacity="0.35"/>
<line x1="228.3" y1="641.5" x2="333.9" y2="640.8" stroke="rgb(45,45,45)" stroke-width="1.0" opacity="0.60"/>
<line x1="228.3" y1="643.9" x2="333.9" y2="644.7" stroke="rgb(44,44,44)" stroke-width="1.0" opacity="0.58"/>
<line x1="228.3" y1="645.8" x2="333.9" y2="645.3" stroke="rgb(116,116,116)" stroke-width="1.2" opacity="0.31"/>
<line x1="228.3" y1="648.3" x2="333.9" y2="647.1" stroke="rgb(126,126,126)" stroke-width="1.2" opacity="0.54"/>
<line x1="228.3" y1="649.8" x2="333.9" y2="648.9" stroke="rgb(88,88,88)" stroke-width="1.1" opacity="0.58"/>
<line x1="228.3" y1="652.1" x2="333.9" y2="652.2" stroke="rgb(64,64,64)" stroke-width="0.8" opacity="0.43"/>
<line x1="228.3" y1="654.0" x2="333.9" y2="652.8" stroke="rgb(77,77,77)" stroke-width="1.2" opacity="0.53"/>
<line x1="228.3" y1="656.4" x2="333.9" y2="656.0" stroke="rgb(121,121,121)" stroke-width="0.8" opacity="0.58"/>
<line x1="228.3" y1="657.9" x2="333.9" y2="657.2" stroke="rgb(40,40,40)" stroke-width="1.2" opacity="0.59"/>
<line x1="228.3" y1="659.7" x2="333.9" y2="659.2" stroke="rgb(41,41,41)" stroke-width="0.8" opacity="0.72"/>
<line x1="228.3" y1="661.6" x2="333.9" y2="662.1" stroke="rgb(93,93,93)" stroke-width="0.7" opacity="0.71"/>
<line x1="228.3" y1="664.1" x2="333.9" y2="664.1" stroke="rgb(92,92,92)" stroke-width="0.6" opacity="0.70"/>
<line x1="228.3" y1="665.6" x2="333.9" y2="665.5" stroke="rgb(100,100,100)" stroke-width="1.1" opacity="0.57"/>
<line x1="228.3" y1="667.7" x2="333.9" y2="666.3" stroke="rgb(31,31,31)" stroke-width="1.1" opacity="0.77"/>
<line x1="228.3" y1="669.8" x2="333.9" y2="669.6" stroke="rgb(105,105,105)" stroke-width="1.1" opacity="0.42"/>
<line x1="228.3" y1="672.0" x2="333.9" y2="672.0" stroke="rgb(25,25,25)" stroke-width="0.8" opacity="0.61"/>
<line x1="228.3" y1="674.1" x2="333.9" y2="674.1" stroke="rgb(89,89,89)" stroke-width="0.8" opacity="0.30"/>
<line x1="228.3" y1="676.1" x2="333.9" y2="676.2" stroke="rgb(26,26,26)" stroke-width="0.7" opacity="0.79"/>
<line x1="228.3" y1="677.3" x2="333.9" y2="677.9" stroke="rgb(110,110,110)" stroke-width="1.1" opacity="0.75"/>
<line x1="228.3" y1="678.7" x2="333.9" y2="677.6" stroke="rgb(35,35,35)" stroke-width="0.6" opacity="0.56"/>
<line x1="228.3" y1="681.0" x2="333.9" y2="680.7" stroke="rgb(53,53,53)" stroke-width="0.8" opacity="0.50"/>
<line x1="228.3" y1="683.0" x2="333.9" y2="682.2" stroke="rgb(128,128,128)" stroke-width="1.0" opacity="0.72"/>
<line x1="228.3" y1="685.1" x2="333.9" y2="685.9" stroke="rgb(115,115,115)" stroke-width="0.6" opacity="0.49"/>
<line x1="228.3" y1="687.1" x2="333.9" y2="685.6" stroke="rgb(30,30,30)" stroke-width="0.6" opacity="0.55"/>
<line x1="228.3" y1="688.9" x2="333.9" y2="689.1" stroke="rgb(107,107,107)" stroke-width="1.1" opacity="0.35"/>
<line x1="228.3" y1="690.9" x2="333.9" y2="690.0" stroke="rgb(29,29,29)" stroke-width="1.1" opacity="0.74"/>
<line x1="228.3" y1="692.7" x2="333.9" y2="691.4" stroke="rgb(29,29,29)" stroke-width="1.1" opacity="0.75"/>
<line x1="228.3" y1="694.7" x2="333.9" y2="696.0" stroke="rgb(28,28,28)" stroke-width="0.7" opacity="0.78"/>
<line x1="228.3" y1="696.7" x2="333.9" y2="697.4" stroke="rgb(103,103,103)" stroke-width="0.8" opacity="0.34"/>
<line x1="228.3" y1="698.2" x2="333.9" y2="699.2" stroke="rgb(50,50,50)" stroke-width="0.8" opacity="0.75"/>
<line x1="228.3" y1="699.8" x2="333.9" y2="698.7" stroke="rgb(104,104,104)" stroke-width="1.2" opacity="0.66"/>
<line x1="228.3" y1="701.7" x2="333.9" y2="700.4" stroke="rgb(127,127,127)" stroke-width="0.8" opacity="0.72"/>
<line x1="228.3" y1="703.4" x2="333.9" y2="704.8" stroke="rgb(105,105,105)" stroke-width="0.8" opacity="0.69"/>
<line x1="228.3" y1="704.6" x2="333.9" y2="706.1" stroke="rgb(53,53,53)" stroke-width="0.8" opacity="0.48"/>
<line x1="228.3" y1="707.2" x2="333.9" y2="707.7" stroke="rgb(70,70,70)" stroke-width="1.0" opacity="0.34"/>
<line x1="228.3" y1="709.2" x2="333.9" y2="709.9" stroke="rgb(108,108,108)" stroke-width="0.6" opacity="0.38"/>
<line x1="228.3" y1="711.4" x2="333.9" y2="712.1" stroke="rgb(91,91,91)" stroke-width="0.7" opacity="0.35"/>
<line x1="228.3" y1="712.6" x2="333.9" y2="712.2" stroke="rgb(57,57,57)" stroke-width="0.7" opacity="0.37"/>
<line x1="228.3" y1="714.1" x2="333.9" y2="714.3" stroke="rgb(72,72,72)" stroke-width="0.8" opacity="0.31"/>
<line x1="228.3" y1="715.8" x2="333.9" y2="716.1" stroke="rgb(34,34,34)" stroke-width="0.7" opacity="0.49"/>
<line x1="228.3" y1="717.4" x2="333.9" y2="716.2" stroke="rgb(65,65,65)" stroke-width="1.1" opacity="0.75"/>
<line x1="228.3" y1="720.0" x2="333.9" y2="719.0" stroke="rgb(85,85,85)" stroke-width="0.8" opacity="0.37"/>
<line x1="228.3" y1="721.6" x2="333.9" y2="720.3" stroke="rgb(76,76,76)" stroke-width="0.8" opacity="0.51"/>
<line x1="228.3" y1="723.5" x2="333.9" y2="722.7" stroke="rgb(33,33,33)" stroke-width="0.7" opacity="0.61"/>
<line x1="228.3" y1="725.5" x2="333.9" y2="724.3" stroke="rgb(45,45,45)" stroke-width="0.7" opacity="0.77"/>
<line x1="228.3" y1="727.2" x2="333.9" y2="728.1" stroke="rgb(90,90,90)" stroke-width="0.7" opacity="0.47"/>
<line x1="228.3" y1="729.5" x2="333.9" y2="730.9" stroke="rgb(115,115,115)" stroke-width="0.6" opacity="0.46"/>
<line x1="228.3" y1="732.0" x2="333.9" y2="731.5" stroke="rgb(46,46,46)" stroke-width="1.2" opacity="0.78"/>
<line x1="228.3" y1="733.6" x2="333.9" y2="733.6" stroke="rgb(97,97,97)" stroke-width="0.9" opacity="0.42"/>
<line x1="228.3" y1="735.4" x2="333.9" y2="735.0" stroke="rgb(110,110,110)" stroke-width="0.6" opacity="0.58"/>
<line x1="228.3" y1="737.4" x2="333.9" y2="737.9" stroke="rgb(82,82,82)" stroke-width="0.9" opacity="0.78"/>
<line x1="228.3" y1="739.2" x2="333.9" y2="739.1" stroke="rgb(99,99,99)" stroke-width="0.7" opacity="0.65"/>
<line x1="228.3" y1="741.6" x2="333.9" y2="741.3" stroke="rgb(108,108,108)" stroke-width="0.8" opacity="0.62"/>
<line x1="228.3" y1="743.1" x2="333.9" y2="743.8" stroke="rgb(94,94,94)" stroke-width="1.1" opacity="0.34"/>
<polygon points="228.3,687.0 236.0,682.0 243.0,678.0 251.0,673.0 259.0,670.0 268.0,673.0 280.0,678.0 291.0,683.0 302.0,687.5 308.0,683.0 314.0,679.0 320.0,675.5 333.9,675.0 333.9,720 228.3,720" fill="#262626" opacity="0.7" filter="url(#blur1)"/>
<polyline points="228.3,727.1 236.0,724.9 243.0,723.7 251.0,722.3 259.0,721.9 268.0,722.5 280.0,723.8 291.0,725.6 302.0,726.5 308.0,725.7 314.0,724.1 320.0,723.2 333.9,722.4" fill="none" stroke="rgb(150,150,150)" stroke-width="3.5" opacity="0.85" stroke-linejoin="round"/>
<polyline points="228.3,731.4 236.0,730.0 243.0,728.6 251.0,727.7 259.0,726.3 268.0,728.1 280.0,729.0 291.0,729.9 302.0,731.5 308.0,730.6 314.0,729.0 320.0,727.6 333.9,727.8" fill="none" stroke="rgb(130,130,130)" stroke-width="3.5" opacity="0.8" stroke-linejoin="round"/>
<polyline points="228.3,736.1 236.0,734.8 243.0,733.9 251.0,732.6 259.0,731.7 268.0,732.4 280.0,734.1 291.0,735.2 302.0,736.2 308.0,734.9 314.0,733.5 320.0,732.7 333.9,733.0" fill="none" stroke="rgb(120,120,120)" stroke-width="3" opacity="0.7" stroke-linejoin="round"/>
<polyline points="228.3,741.2 236.0,739.2 243.0,739.4 251.0,737.4 259.0,737.0 268.0,737.8 280.0,738.5 291.0,739.8 302.0,740.7 308.0,739.8 314.0,739.3 320.0,738.1 333.9,738.0" fill="none" stroke="rgb(110,110,110)" stroke-width="2.5" opacity="0.7" stroke-linejoin="round"/>
<polygon points="228.3,633.4 333.9,633.4 333.9,675.0 320.0,675.5 314.0,679.0 308.0,683.0 302.0,687.5 291.0,683.0 280.0,678.0 268.0,673.0 259.0,670.0 251.0,673.0 243.0,678.0 236.0,682.0 228.3,687.0" fill="#727272"/>
<polyline points="228.3,685.8 236.0,680.6 243.0,676.7 251.0,671.2 259.0,669.0 268.0,671.2 280.0,676.2 291.0,681.2 302.0,686.1 308.0,682.0 314.0,677.2 320.0,673.9 333.9,673.2" fill="none" stroke="rgb(195,195,195)" stroke-width="0.7" opacity="0.79"/>
<polyline points="228.3,683.4 236.0,678.8 243.0,674.6 251.0,669.9 259.0,666.4 268.0,669.9 280.0,675.0 291.0,679.3 302.0,683.8 308.0,680.1 314.0,675.4 320.0,672.0 333.9,671.7" fill="none" stroke="rgb(55,55,55)" stroke-width="1.3" opacity="0.62"/>
<polyline points="228.3,681.4 236.0,676.4 243.0,672.4 251.0,667.1 259.0,664.6 268.0,667.4 280.0,672.6 291.0,677.5 302.0,681.6 308.0,677.4 314.0,672.9 320.0,669.4 333.9,668.9" fill="none" stroke="rgb(144,144,144)" stroke-width="1.4" opacity="0.64"/>
<polyline points="228.3,679.7 236.0,674.5 243.0,670.7 251.0,665.5 259.0,663.0 268.0,666.0 280.0,671.0 291.0,676.3 302.0,680.4 308.0,675.8 314.0,671.5 320.0,668.1 333.9,667.8" fill="none" stroke="rgb(174,174,174)" stroke-width="1.2" opacity="0.52"/>
<polyline points="228.3,678.4 236.0,673.6 243.0,669.1 251.0,664.1 259.0,661.3 268.0,664.0 280.0,669.5 291.0,674.1 302.0,678.2 308.0,673.7 314.0,670.4 320.0,666.4 333.9,665.9" fill="none" stroke="rgb(51,51,51)" stroke-width="0.8" opacity="0.74"/>
<polyline points="228.3,677.0 236.0,671.7 243.0,667.3 251.0,662.3 259.0,660.0 268.0,663.0 280.0,667.6 291.0,673.0 302.0,676.7 308.0,672.9 314.0,668.7 320.0,665.7 333.9,664.3" fill="none" stroke="rgb(132,132,132)" stroke-width="1.5" opacity="0.87"/>
<polyline points="228.3,674.4 236.0,669.3 243.0,665.8 251.0,660.4 259.0,657.9 268.0,660.7 280.0,665.2 291.0,670.8 302.0,675.0 308.0,670.3 314.0,666.7 320.0,663.1 333.9,662.1" fill="none" stroke="rgb(103,103,103)" stroke-width="1.8" opacity="0.56"/>
<polyline points="228.3,672.8 236.0,667.7 243.0,664.0 251.0,658.8 259.0,656.2 268.0,658.7 280.0,663.7 291.0,669.3 302.0,673.9 308.0,669.1 314.0,664.5 320.0,661.9 333.9,661.2" fill="none" stroke="rgb(87,87,87)" stroke-width="0.7" opacity="0.91"/>
<polyline points="228.3,670.7 236.0,665.1 243.0,661.6 251.0,656.7 259.0,653.6 268.0,656.5 280.0,661.4 291.0,666.4 302.0,670.6 308.0,666.3 314.0,662.3 320.0,659.0 333.9,658.7" fill="none" stroke="rgb(206,206,206)" stroke-width="0.8" opacity="0.54"/>
<polyline points="228.3,668.3 236.0,663.9 243.0,659.3 251.0,653.9 259.0,651.7 268.0,654.7 280.0,659.7 291.0,664.4 302.0,669.1 308.0,664.3 314.0,660.0 320.0,657.0 333.9,656.2" fill="none" stroke="rgb(100,100,100)" stroke-width="1.7" opacity="0.69"/>
<polyline points="228.3,666.8 236.0,662.0 243.0,658.0 251.0,652.9 259.0,649.8 268.0,653.1 280.0,657.5 291.0,662.5 302.0,667.7 308.0,662.9 314.0,658.6 320.0,655.8 333.9,654.9" fill="none" stroke="rgb(98,98,98)" stroke-width="1.6" opacity="0.50"/>
<polyline points="228.3,664.0 236.0,659.6 243.0,655.1 251.0,650.8 259.0,647.2 268.0,650.6 280.0,655.2 291.0,660.3 302.0,665.3 308.0,660.1 314.0,656.3 320.0,652.7 333.9,652.6" fill="none" stroke="rgb(86,86,86)" stroke-width="1.4" opacity="0.61"/>
<polyline points="228.3,662.3 236.0,656.9 243.0,653.0 251.0,648.5 259.0,644.8 268.0,648.5 280.0,653.6 291.0,658.8 302.0,662.7 308.0,657.9 314.0,653.9 320.0,650.7 333.9,650.5" fill="none" stroke="rgb(176,176,176)" stroke-width="0.6" opacity="0.55"/>
<polyline points="228.3,660.9 236.0,655.9 243.0,651.3 251.0,647.1 259.0,643.3 268.0,646.7 280.0,651.2 291.0,656.8 302.0,661.1 308.0,656.9 314.0,652.8 320.0,648.8 333.9,648.6" fill="none" stroke="rgb(208,208,208)" stroke-width="0.8" opacity="0.81"/>
<polyline points="228.3,658.5 236.0,653.3 243.0,649.1 251.0,644.7 259.0,641.1 268.0,643.9 280.0,649.0 291.0,653.8 302.0,658.8 308.0,654.3 314.0,650.3 320.0,647.0 333.9,646.4" fill="none" stroke="rgb(65,65,65)" stroke-width="0.7" opacity="0.88"/>
<polyline points="228.3,656.1 236.0,651.4 243.0,646.9 251.0,641.7 259.0,639.5 268.0,642.6 280.0,647.1 291.0,651.7 302.0,656.6 308.0,652.2 314.0,648.1 320.0,645.1 333.9,644.6" fill="none" stroke="rgb(104,104,104)" stroke-width="1.2" opacity="0.92"/>
<polyline points="228.3,654.6 236.0,649.9 243.0,646.0 251.0,641.2 259.0,638.0 268.0,640.3 280.0,645.3 291.0,650.5 302.0,654.8 308.0,650.3 314.0,647.0 320.0,643.2 333.9,642.9" fill="none" stroke="rgb(204,204,204)" stroke-width="1.3" opacity="0.73"/>
<polyline points="228.3,653.0 236.0,648.1 243.0,643.7 251.0,638.8 259.0,636.0 268.0,638.7 280.0,644.3 291.0,649.0 302.0,653.3 308.0,649.1 314.0,645.3 320.0,641.6 333.9,640.5" fill="none" stroke="rgb(176,176,176)" stroke-width="0.7" opacity="0.81"/>
<polyline points="228.3,650.3 236.0,645.7 243.0,641.7 251.0,636.8 259.0,633.5 268.0,637.0 280.0,642.0 291.0,646.4 302.0,651.4 308.0,646.9 314.0,642.4 320.0,639.7 333.9,638.8" fill="none" stroke="rgb(202,202,202)" stroke-width="0.7" opacity="0.85"/>
<polyline points="228.3,648.8 236.0,643.3 243.0,639.9 251.0,634.8 259.0,631.1 268.0,634.8 280.0,639.3 291.0,644.1 302.0,649.2 308.0,644.6 314.0,640.1 320.0,637.0 333.9,636.4" fill="none" stroke="rgb(80,80,80)" stroke-width="0.8" opacity="0.72"/>
<polyline points="228.3,646.1 236.0,641.6 243.0,637.8 251.0,632.3 259.0,629.5 268.0,632.1 280.0,637.9 291.0,642.3 302.0,647.0 308.0,642.4 314.0,638.2 320.0,635.5 333.9,634.9" fill="none" stroke="rgb(116,116,116)" stroke-width="0.9" opacity="0.75"/>
<polyline points="228.3,643.9 236.0,639.0 243.0,635.3 251.0,629.8 259.0,626.6 268.0,629.9 280.0,635.1 291.0,640.5 302.0,644.2 308.0,640.4 314.0,636.5 320.0,633.0 333.9,631.6" fill="none" stroke="rgb(183,183,183)" stroke-width="1.1" opacity="0.71"/>
<polyline points="228.3,642.5 236.0,637.0 243.0,633.2 251.0,628.5 259.0,625.3 268.0,628.6 280.0,633.4 291.0,638.5 302.0,642.9 308.0,638.7 314.0,634.2 320.0,631.4 333.9,630.7" fill="none" stroke="rgb(202,202,202)" stroke-width="1.0" opacity="0.61"/>
<polyline points="228.3,641.1 236.0,636.6 243.0,632.6 251.0,627.7 259.0,623.7 268.0,627.4 280.0,632.6 291.0,637.5 302.0,641.3 308.0,637.3 314.0,633.0 320.0,629.7 333.9,628.8" fill="none" stroke="rgb(123,123,123)" stroke-width="0.9" opacity="0.95"/>
<polyline points="228.3,639.4 236.0,634.1 243.0,630.3 251.0,624.9 259.0,622.5 268.0,624.6 280.0,629.6 291.0,634.7 302.0,639.9 308.0,634.6 314.0,631.1 320.0,627.5 333.9,627.5" fill="none" stroke="rgb(66,66,66)" stroke-width="1.7" opacity="0.61"/>
<polyline points="228.3,637.7 236.0,632.7 243.0,628.3 251.0,623.3 259.0,620.1 268.0,623.2 280.0,628.8 291.0,633.6 302.0,637.6 308.0,633.1 314.0,629.5 320.0,625.9 333.9,625.5" fill="none" stroke="rgb(106,106,106)" stroke-width="1.6" opacity="0.93"/>
<polyline points="228.3,635.6 236.0,630.7 243.0,627.2 251.0,622.3 259.0,619.2 268.0,621.5 280.0,627.3 291.0,631.8 302.0,636.1 308.0,631.7 314.0,627.8 320.0,624.5 333.9,624.2" fill="none" stroke="rgb(105,105,105)" stroke-width="0.9" opacity="0.62"/>
<polyline points="228.3,633.4 236.0,628.7 243.0,624.2 251.0,619.4 259.0,616.7 268.0,619.0 280.0,623.9 291.0,629.7 302.0,634.4 308.0,629.0 314.0,625.7 320.0,621.8 333.9,621.5" fill="none" stroke="rgb(55,55,55)" stroke-width="1.1" opacity="0.79"/>
<polyline points="228.3,630.9 236.0,626.0 243.0,622.8 251.0,617.3 259.0,614.0 268.0,617.8 280.0,622.7 291.0,627.2 302.0,631.4 308.0,627.4 314.0,623.1 320.0,620.0 333.9,619.7" fill="none" stroke="rgb(96,96,96)" stroke-width="1.6" opacity="0.68"/>
<polyline points="228.3,629.9 236.0,624.8 243.0,620.9 251.0,616.5 259.0,612.7 268.0,616.3 280.0,620.9 291.0,625.9 302.0,630.6 308.0,626.2 314.0,621.7 320.0,618.4 333.9,617.8" fill="none" stroke="rgb(172,172,172)" stroke-width="0.8" opacity="0.59"/>
<polyline points="228.3,628.0 236.0,623.0 243.0,619.2 251.0,614.0 259.0,610.6 268.0,613.8 280.0,618.7 291.0,624.1 302.0,628.2 308.0,623.6 314.0,619.4 320.0,616.0 333.9,615.4" fill="none" stroke="rgb(144,144,144)" stroke-width="1.4" opacity="0.90"/>
<polyline points="228.3,625.5 236.0,620.7 243.0,616.9 251.0,611.9 259.0,608.0 268.0,611.6 280.0,616.2 291.0,621.7 302.0,626.3 308.0,621.0 314.0,617.9 320.0,613.6 333.9,613.8" fill="none" stroke="rgb(60,60,60)" stroke-width="1.8" opacity="0.86"/>
<rect x="228.3" y="633.4" width="105.6" height="12" fill="#7c7c7c" opacity="0.85"/>
<line x1="228.3" y1="633.9" x2="333.9" y2="634.5" stroke="rgb(228,228,228)" stroke-width="0.6" opacity="0.80"/>
<line x1="228.3" y1="635.9" x2="333.9" y2="636.5" stroke="rgb(205,205,205)" stroke-width="0.5" opacity="0.85"/>
<line x1="228.3" y1="638.0" x2="333.9" y2="638.1" stroke="rgb(182,182,182)" stroke-width="0.7" opacity="0.99"/>
<line x1="228.3" y1="640.1" x2="333.9" y2="639.8" stroke="rgb(171,171,171)" stroke-width="0.9" opacity="0.55"/>
<line x1="228.3" y1="641.3" x2="333.9" y2="641.4" stroke="rgb(126,126,126)" stroke-width="0.5" opacity="0.96"/>
<line x1="228.3" y1="642.6" x2="333.9" y2="642.9" stroke="rgb(111,111,111)" stroke-width="1.2" opacity="0.92"/>
<line x1="228.3" y1="644.0" x2="333.9" y2="644.1" stroke="rgb(93,93,93)" stroke-width="1.2" opacity="0.89"/>
<line x1="228.3" y1="646.0" x2="333.9" y2="646.7" stroke="rgb(232,232,232)" stroke-width="0.8" opacity="0.97"/>
<rect x="228.3" y="633.4" width="105.6" height="108.4" fill="#000" filter="url(#enoise)" opacity="0.45"/>
<polyline points="228.3,687.0 236.0,682.0 243.0,678.0 251.0,673.0 259.0,670.0 268.0,673.0 280.0,678.0 291.0,683.0 302.0,687.5 308.0,683.0 314.0,679.0 320.0,675.5 333.9,675.0" fill="none" stroke="#f4f4f4" stroke-width="1.6" stroke-linejoin="round" opacity="0.45"/>
<line x1="259.1" y1="638.6" x2="259.1" y2="669" stroke="#1fd0d8" stroke-width="1.6"/>
<line x1="302" y1="654.5" x2="302" y2="687" stroke="#1fd0d8" stroke-width="1.6"/>
</g>
<clipPath id="clipE3"><rect x="337.6" y="633.4" width="105.1" height="108.4"/></clipPath>
<g clip-path="url(#clipE3)">
<rect x="337.6" y="633.4" width="105.1" height="108.4" fill="#3a3a3a"/>
<line x1="337.6" y1="634.7" x2="442.7" y2="633.7" stroke="rgb(56,56,56)" stroke-width="0.6" opacity="0.77"/>
<line x1="337.6" y1="637.1" x2="442.7" y2="637.5" stroke="rgb(125,125,125)" stroke-width="0.6" opacity="0.78"/>
<line x1="337.6" y1="639.2" x2="442.7" y2="640.1" stroke="rgb(122,122,122)" stroke-width="0.7" opacity="0.59"/>
<line x1="337.6" y1="640.7" x2="442.7" y2="641.2" stroke="rgb(57,57,57)" stroke-width="0.6" opacity="0.66"/>
<line x1="337.6" y1="643.2" x2="442.7" y2="642.9" stroke="rgb(124,124,124)" stroke-width="1.2" opacity="0.78"/>
<line x1="337.6" y1="644.4" x2="442.7" y2="645.7" stroke="rgb(88,88,88)" stroke-width="1.2" opacity="0.41"/>
<line x1="337.6" y1="646.4" x2="442.7" y2="645.4" stroke="rgb(123,123,123)" stroke-width="1.0" opacity="0.42"/>
<line x1="337.6" y1="649.0" x2="442.7" y2="650.2" stroke="rgb(42,42,42)" stroke-width="0.6" opacity="0.65"/>
<line x1="337.6" y1="651.1" x2="442.7" y2="650.9" stroke="rgb(118,118,118)" stroke-width="0.7" opacity="0.42"/>
<line x1="337.6" y1="652.4" x2="442.7" y2="651.2" stroke="rgb(51,51,51)" stroke-width="0.5" opacity="0.49"/>
<line x1="337.6" y1="654.6" x2="442.7" y2="655.8" stroke="rgb(126,126,126)" stroke-width="0.8" opacity="0.49"/>
<line x1="337.6" y1="656.6" x2="442.7" y2="656.5" stroke="rgb(35,35,35)" stroke-width="1.1" opacity="0.63"/>
<line x1="337.6" y1="658.7" x2="442.7" y2="657.5" stroke="rgb(42,42,42)" stroke-width="1.1" opacity="0.45"/>
<line x1="337.6" y1="660.4" x2="442.7" y2="659.1" stroke="rgb(124,124,124)" stroke-width="0.6" opacity="0.49"/>
<line x1="337.6" y1="662.6" x2="442.7" y2="663.8" stroke="rgb(82,82,82)" stroke-width="0.6" opacity="0.60"/>
<line x1="337.6" y1="664.7" x2="442.7" y2="663.3" stroke="rgb(75,75,75)" stroke-width="1.2" opacity="0.38"/>
<line x1="337.6" y1="667.1" x2="442.7" y2="665.9" stroke="rgb(41,41,41)" stroke-width="0.6" opacity="0.39"/>
<line x1="337.6" y1="669.3" x2="442.7" y2="670.0" stroke="rgb(100,100,100)" stroke-width="0.7" opacity="0.44"/>
<line x1="337.6" y1="670.8" x2="442.7" y2="671.0" stroke="rgb(30,30,30)" stroke-width="1.1" opacity="0.38"/>
<line x1="337.6" y1="672.5" x2="442.7" y2="671.9" stroke="rgb(69,69,69)" stroke-width="1.0" opacity="0.60"/>
<line x1="337.6" y1="674.0" x2="442.7" y2="673.0" stroke="rgb(27,27,27)" stroke-width="0.7" opacity="0.34"/>
<line x1="337.6" y1="676.4" x2="442.7" y2="676.1" stroke="rgb(57,57,57)" stroke-width="0.8" opacity="0.63"/>
<line x1="337.6" y1="677.7" x2="442.7" y2="676.8" stroke="rgb(82,82,82)" stroke-width="1.1" opacity="0.48"/>
<line x1="337.6" y1="679.6" x2="442.7" y2="679.4" stroke="rgb(52,52,52)" stroke-width="0.7" opacity="0.43"/>
<line x1="337.6" y1="680.8" x2="442.7" y2="681.3" stroke="rgb(103,103,103)" stroke-width="0.6" opacity="0.47"/>
<line x1="337.6" y1="682.8" x2="442.7" y2="683.1" stroke="rgb(126,126,126)" stroke-width="0.9" opacity="0.72"/>
<line x1="337.6" y1="685.1" x2="442.7" y2="685.2" stroke="rgb(68,68,68)" stroke-width="1.1" opacity="0.54"/>
<line x1="337.6" y1="687.6" x2="442.7" y2="686.3" stroke="rgb(75,75,75)" stroke-width="1.1" opacity="0.66"/>
<line x1="337.6" y1="689.5" x2="442.7" y2="690.4" stroke="rgb(119,119,119)" stroke-width="1.0" opacity="0.61"/>
<line x1="337.6" y1="690.8" x2="442.7" y2="689.9" stroke="rgb(104,104,104)" stroke-width="1.2" opacity="0.79"/>
<line x1="337.6" y1="693.2" x2="442.7" y2="692.9" stroke="rgb(38,38,38)" stroke-width="1.2" opacity="0.52"/>
<line x1="337.6" y1="695.8" x2="442.7" y2="696.8" stroke="rgb(90,90,90)" stroke-width="0.7" opacity="0.76"/>
<line x1="337.6" y1="698.3" x2="442.7" y2="697.9" stroke="rgb(32,32,32)" stroke-width="0.8" opacity="0.46"/>
<line x1="337.6" y1="699.8" x2="442.7" y2="701.0" stroke="rgb(73,73,73)" stroke-width="1.1" opacity="0.61"/>
<line x1="337.6" y1="701.8" x2="442.7" y2="701.5" stroke="rgb(69,69,69)" stroke-width="0.6" opacity="0.59"/>
<line x1="337.6" y1="704.0" x2="442.7" y2="705.3" stroke="rgb(123,123,123)" stroke-width="0.9" opacity="0.35"/>
<line x1="337.6" y1="705.6" x2="442.7" y2="705.2" stroke="rgb(81,81,81)" stroke-width="0.8" opacity="0.49"/>
<line x1="337.6" y1="707.5" x2="442.7" y2="706.1" stroke="rgb(88,88,88)" stroke-width="0.7" opacity="0.37"/>
<line x1="337.6" y1="709.6" x2="442.7" y2="708.2" stroke="rgb(97,97,97)" stroke-width="1.1" opacity="0.47"/>
<line x1="337.6" y1="711.1" x2="442.7" y2="712.4" stroke="rgb(103,103,103)" stroke-width="1.1" opacity="0.31"/>
<line x1="337.6" y1="713.4" x2="442.7" y2="712.8" stroke="rgb(56,56,56)" stroke-width="0.8" opacity="0.65"/>
<line x1="337.6" y1="714.8" x2="442.7" y2="713.7" stroke="rgb(116,116,116)" stroke-width="1.2" opacity="0.52"/>
<line x1="337.6" y1="717.1" x2="442.7" y2="716.9" stroke="rgb(53,53,53)" stroke-width="1.0" opacity="0.39"/>
<line x1="337.6" y1="718.6" x2="442.7" y2="719.4" stroke="rgb(111,111,111)" stroke-width="1.0" opacity="0.73"/>
<line x1="337.6" y1="721.0" x2="442.7" y2="720.0" stroke="rgb(79,79,79)" stroke-width="0.7" opacity="0.55"/>
<line x1="337.6" y1="722.4" x2="442.7" y2="723.5" stroke="rgb(114,114,114)" stroke-width="0.5" opacity="0.40"/>
<line x1="337.6" y1="724.7" x2="442.7" y2="724.0" stroke="rgb(112,112,112)" stroke-width="0.8" opacity="0.76"/>
<line x1="337.6" y1="726.9" x2="442.7" y2="727.9" stroke="rgb(53,53,53)" stroke-width="0.9" opacity="0.62"/>
<line x1="337.6" y1="728.3" x2="442.7" y2="727.9" stroke="rgb(28,28,28)" stroke-width="0.9" opacity="0.39"/>
<line x1="337.6" y1="730.7" x2="442.7" y2="730.3" stroke="rgb(86,86,86)" stroke-width="0.6" opacity="0.75"/>
<line x1="337.6" y1="733.0" x2="442.7" y2="732.3" stroke="rgb(97,97,97)" stroke-width="0.8" opacity="0.38"/>
<line x1="337.6" y1="735.0" x2="442.7" y2="736.0" stroke="rgb(126,126,126)" stroke-width="1.0" opacity="0.64"/>
<line x1="337.6" y1="736.5" x2="442.7" y2="735.1" stroke="rgb(67,67,67)" stroke-width="1.0" opacity="0.68"/>
<line x1="337.6" y1="737.8" x2="442.7" y2="738.2" stroke="rgb(120,120,120)" stroke-width="0.9" opacity="0.30"/>
<line x1="337.6" y1="739.3" x2="442.7" y2="738.7" stroke="rgb(109,109,109)" stroke-width="1.2" opacity="0.62"/>
<line x1="337.6" y1="741.1" x2="442.7" y2="740.6" stroke="rgb(64,64,64)" stroke-width="0.7" opacity="0.53"/>
<line x1="337.6" y1="743.3" x2="442.7" y2="742.9" stroke="rgb(111,111,111)" stroke-width="0.6" opacity="0.56"/>
<polygon points="337.6,683.0 345.0,680.0 352.0,678.5 365.0,677.5 372.0,680.0 380.0,683.5 387.0,686.0 394.5,688.0 401.0,683.0 408.0,678.0 416.0,676.5 425.0,676.0 442.7,676.0 442.7,713 337.6,713" fill="#282828" opacity="0.7" filter="url(#blur1)"/>
<polyline points="337.6,718.0 345.0,717.3 352.0,716.3 365.0,716.3 372.0,717.0 380.0,717.7 387.0,718.2 394.5,718.7 401.0,718.3 408.0,716.4 416.0,716.2 425.0,715.4 442.7,715.9" fill="none" stroke="rgb(190,190,190)" stroke-width="3.5" opacity="0.95" stroke-linejoin="round"/>
<polyline points="337.6,724.1 345.0,722.6 352.0,722.1 365.0,722.6 372.0,723.4 380.0,724.1 387.0,724.7 394.5,725.0 401.0,723.8 408.0,722.6 416.0,722.3 425.0,722.1 442.7,722.5" fill="none" stroke="rgb(130,130,130)" stroke-width="3.5" opacity="0.8" stroke-linejoin="round"/>
<polyline points="337.6,731.2 345.0,730.8 352.0,730.5 365.0,729.9 372.0,731.2 380.0,731.7 387.0,731.7 394.5,732.8 401.0,731.2 408.0,730.5 416.0,730.5 425.0,730.6 442.7,730.3" fill="none" stroke="rgb(120,120,120)" stroke-width="3" opacity="0.7" stroke-linejoin="round"/>
<polyline points="337.6,738.5 345.0,738.3 352.0,738.0 365.0,737.9 372.0,737.5 380.0,738.1 387.0,738.7 394.5,739.2 401.0,738.9 408.0,737.8 416.0,736.8 425.0,737.3 442.7,736.9" fill="none" stroke="rgb(100,100,100)" stroke-width="2.5" opacity="0.7" stroke-linejoin="round"/>
<polygon points="337.6,633.4 442.7,633.4 442.7,676.0 425.0,676.0 416.0,676.5 408.0,678.0 401.0,683.0 394.5,688.0 387.0,686.0 380.0,683.5 372.0,680.0 365.0,677.5 352.0,678.5 345.0,680.0 337.6,683.0" fill="#747474"/>
<polyline points="337.6,681.7 345.0,678.3 352.0,677.3 365.0,675.8 372.0,678.3 380.0,681.8 387.0,684.9 394.5,686.5 401.0,681.9 408.0,676.6 416.0,675.4 425.0,674.1 442.7,674.9" fill="none" stroke="rgb(61,61,61)" stroke-width="1.0" opacity="0.73"/>
<polyline points="337.6,678.6 345.0,676.4 352.0,674.2 365.0,673.3 372.0,676.0 380.0,679.7 387.0,682.5 394.5,684.0 401.0,678.9 408.0,674.3 416.0,672.9 425.0,672.1 442.7,672.2" fill="none" stroke="rgb(117,117,117)" stroke-width="1.0" opacity="0.58"/>
<polyline points="337.6,677.3 345.0,673.7 352.0,672.8 365.0,671.5 372.0,674.3 380.0,677.1 387.0,680.1 394.5,682.1 401.0,676.9 408.0,672.5 416.0,670.4 425.0,669.5 442.7,669.7" fill="none" stroke="rgb(45,45,45)" stroke-width="0.9" opacity="0.67"/>
<polyline points="337.6,675.5 345.0,673.0 352.0,671.4 365.0,670.0 372.0,673.0 380.0,676.1 387.0,678.4 394.5,680.7 401.0,675.9 408.0,670.4 416.0,669.6 425.0,668.6 442.7,668.6" fill="none" stroke="rgb(106,106,106)" stroke-width="1.6" opacity="0.83"/>
<polyline points="337.6,674.2 345.0,670.6 352.0,669.6 365.0,668.1 372.0,670.4 380.0,674.7 387.0,677.2 394.5,678.6 401.0,673.5 408.0,669.0 416.0,666.9 425.0,667.0 442.7,666.8" fill="none" stroke="rgb(109,109,109)" stroke-width="1.7" opacity="0.58"/>
<polyline points="337.6,672.4 345.0,668.8 352.0,667.6 365.0,666.1 372.0,669.5 380.0,672.7 387.0,675.2 394.5,676.5 401.0,672.2 408.0,666.9 416.0,665.4 425.0,665.1 442.7,665.0" fill="none" stroke="rgb(168,168,168)" stroke-width="0.6" opacity="0.57"/>
<polyline points="337.6,670.0 345.0,667.0 352.0,665.1 365.0,664.5 372.0,666.5 380.0,670.7 387.0,672.5 394.5,675.1 401.0,669.5 408.0,664.5 416.0,663.0 425.0,662.6 442.7,662.6" fill="none" stroke="rgb(164,164,164)" stroke-width="1.0" opacity="0.62"/>
<polyline points="337.6,667.7 345.0,664.5 352.0,663.4 365.0,662.1 372.0,665.4 380.0,668.3 387.0,670.4 394.5,673.1 401.0,668.3 408.0,663.3 416.0,661.6 425.0,660.6 442.7,660.5" fill="none" stroke="rgb(83,83,83)" stroke-width="1.4" opacity="0.73"/>
<polyline points="337.6,665.4 345.0,663.2 352.0,661.0 365.0,660.2 372.0,662.3 380.0,665.9 387.0,668.3 394.5,670.5 401.0,666.0 408.0,660.5 416.0,659.4 425.0,658.3 442.7,659.0" fill="none" stroke="rgb(64,64,64)" stroke-width="0.9" opacity="0.52"/>
<polyline points="337.6,663.2 345.0,660.3 352.0,658.9 365.0,658.2 372.0,659.9 380.0,664.1 387.0,666.0 394.5,668.2 401.0,663.8 408.0,658.1 416.0,656.7 425.0,656.7 442.7,656.6" fill="none" stroke="rgb(171,171,171)" stroke-width="0.8" opacity="0.79"/>
<polyline points="337.6,660.6 345.0,658.4 352.0,656.2 365.0,655.4 372.0,658.1 380.0,661.8 387.0,664.2 394.5,665.7 401.0,660.9 408.0,655.9 416.0,654.0 425.0,654.2 442.7,654.3" fill="none" stroke="rgb(66,66,66)" stroke-width="1.4" opacity="0.94"/>
<polyline points="337.6,659.5 345.0,656.2 352.0,654.9 365.0,653.9 372.0,656.8 380.0,660.3 387.0,662.9 394.5,664.7 401.0,659.7 408.0,655.1 416.0,653.3 425.0,652.5 442.7,652.6" fill="none" stroke="rgb(219,219,219)" stroke-width="0.7" opacity="0.82"/>
<polyline points="337.6,658.1 345.0,655.5 352.0,653.7 365.0,653.1 372.0,655.3 380.0,659.3 387.0,660.8 394.5,663.4 401.0,657.9 408.0,653.6 416.0,652.1 425.0,651.7 442.7,650.9" fill="none" stroke="rgb(170,170,170)" stroke-width="0.9" opacity="0.72"/>
<polyline points="337.6,656.5 345.0,653.9 352.0,652.2 365.0,651.0 372.0,653.7 380.0,657.5 387.0,659.7 394.5,662.1 401.0,656.7 408.0,651.4 416.0,650.2 425.0,649.9 442.7,649.4" fill="none" stroke="rgb(229,229,229)" stroke-width="0.7" opacity="0.69"/>
<polyline points="337.6,654.9 345.0,651.9 352.0,650.1 365.0,649.3 372.0,651.5 380.0,655.4 387.0,658.2 394.5,659.6 401.0,654.3 408.0,649.5 416.0,648.2 425.0,647.8 442.7,647.9" fill="none" stroke="rgb(45,45,45)" stroke-width="0.7" opacity="0.71"/>
<polyline points="337.6,652.9 345.0,649.4 352.0,648.0 365.0,647.5 372.0,650.1 380.0,652.9 387.0,655.7 394.5,657.9 401.0,652.2 408.0,647.3 416.0,645.8 425.0,645.9 442.7,645.9" fill="none" stroke="rgb(181,181,181)" stroke-width="0.7" opacity="0.55"/>
<polyline points="337.6,650.5 345.0,647.6 352.0,646.4 365.0,645.3 372.0,647.2 380.0,651.0 387.0,654.0 394.5,655.9 401.0,650.7 408.0,645.9 416.0,644.0 425.0,643.8 442.7,644.0" fill="none" stroke="rgb(80,80,80)" stroke-width="1.7" opacity="0.56"/>
<polyline points="337.6,649.1 345.0,646.0 352.0,644.2 365.0,643.2 372.0,646.1 380.0,648.9 387.0,651.8 394.5,653.9 401.0,648.3 408.0,643.6 416.0,642.3 425.0,642.1 442.7,641.7" fill="none" stroke="rgb(145,145,145)" stroke-width="0.7" opacity="0.67"/>
<polyline points="337.6,645.9 345.0,643.6 352.0,642.1 365.0,640.6 372.0,642.8 380.0,646.5 387.0,649.3 394.5,651.4 401.0,645.9 408.0,641.3 416.0,640.0 425.0,639.3 442.7,639.6" fill="none" stroke="rgb(219,219,219)" stroke-width="1.5" opacity="0.78"/>
<polyline points="337.6,644.5 345.0,641.8 352.0,640.6 365.0,639.3 372.0,642.1 380.0,645.1 387.0,647.8 394.5,649.5 401.0,644.3 408.0,639.5 416.0,638.1 425.0,637.7 442.7,637.8" fill="none" stroke="rgb(163,163,163)" stroke-width="0.9" opacity="0.69"/>
<polyline points="337.6,642.7 345.0,639.7 352.0,637.9 365.0,636.4 372.0,639.0 380.0,643.1 387.0,645.1 394.5,647.6 401.0,642.1 408.0,637.2 416.0,635.6 425.0,635.7 442.7,635.6" fill="none" stroke="rgb(204,204,204)" stroke-width="0.9" opacity="0.63"/>
<polyline points="337.6,639.7 345.0,637.5 352.0,635.9 365.0,635.0 372.0,637.4 380.0,640.7 387.0,642.9 394.5,645.4 401.0,640.4 408.0,634.9 416.0,633.8 425.0,633.6 442.7,633.0" fill="none" stroke="rgb(51,51,51)" stroke-width="1.6" opacity="0.93"/>
<polyline points="337.6,637.1 345.0,634.3 352.0,633.2 365.0,632.4 372.0,634.9 380.0,638.4 387.0,641.0 394.5,642.8 401.0,637.7 408.0,632.8 416.0,631.1 425.0,630.7 442.7,630.9" fill="none" stroke="rgb(104,104,104)" stroke-width="1.3" opacity="0.93"/>
<polyline points="337.6,635.6 345.0,632.6 352.0,631.5 365.0,630.3 372.0,632.9 380.0,636.5 387.0,638.6 394.5,641.0 401.0,635.7 408.0,630.8 416.0,629.7 425.0,628.6 442.7,628.6" fill="none" stroke="rgb(78,78,78)" stroke-width="1.4" opacity="0.65"/>
<polyline points="337.6,634.9 345.0,631.7 352.0,630.3 365.0,629.0 372.0,632.0 380.0,635.0 387.0,637.4 394.5,639.4 401.0,634.3 408.0,629.7 416.0,628.1 425.0,627.7 442.7,627.3" fill="none" stroke="rgb(222,222,222)" stroke-width="1.3" opacity="0.60"/>
<polyline points="337.6,632.9 345.0,630.4 352.0,628.7 365.0,628.2 372.0,630.5 380.0,634.2 387.0,635.7 394.5,638.4 401.0,633.1 408.0,628.6 416.0,626.8 425.0,626.3 442.7,626.7" fill="none" stroke="rgb(108,108,108)" stroke-width="1.0" opacity="0.81"/>
<polyline points="337.6,631.4 345.0,628.6 352.0,626.8 365.0,626.5 372.0,628.9 380.0,631.9 387.0,634.8 394.5,636.5 401.0,631.1 408.0,626.9 416.0,624.7 425.0,624.6 442.7,625.0" fill="none" stroke="rgb(219,219,219)" stroke-width="1.7" opacity="0.58"/>
<polyline points="337.6,628.6 345.0,626.2 352.0,624.8 365.0,623.9 372.0,625.9 380.0,629.1 387.0,632.0 394.5,634.2 401.0,629.5 408.0,624.3 416.0,622.7 425.0,622.4 442.7,622.3" fill="none" stroke="rgb(147,147,147)" stroke-width="0.6" opacity="0.57"/>
<polyline points="337.6,626.7 345.0,624.5 352.0,622.7 365.0,621.7 372.0,623.9 380.0,627.4 387.0,630.0 394.5,632.3 401.0,627.1 408.0,621.7 416.0,620.8 425.0,620.2 442.7,620.3" fill="none" stroke="rgb(108,108,108)" stroke-width="0.7" opacity="0.78"/>
<polyline points="337.6,624.5 345.0,622.3 352.0,620.0 365.0,619.7 372.0,621.7 380.0,625.0 387.0,628.2 394.5,629.8 401.0,624.8 408.0,620.1 416.0,618.4 425.0,617.9 442.7,617.5" fill="none" stroke="rgb(156,156,156)" stroke-width="1.4" opacity="0.68"/>
<polyline points="337.6,622.2 345.0,619.8 352.0,618.5 365.0,617.4 372.0,619.8 380.0,623.0 387.0,626.0 394.5,627.6 401.0,622.6 408.0,617.2 416.0,615.6 425.0,615.7 442.7,615.6" fill="none" stroke="rgb(148,148,148)" stroke-width="1.8" opacity="0.93"/>
<rect x="337.6" y="633.4" width="105.1" height="12" fill="#b0b0b0" opacity="0.85"/>
<line x1="337.6" y1="633.9" x2="442.7" y2="634.5" stroke="rgb(213,213,213)" stroke-width="0.8" opacity="0.71"/>
<line x1="337.6" y1="635.7" x2="442.7" y2="635.1" stroke="rgb(174,174,174)" stroke-width="0.7" opacity="0.92"/>
<line x1="337.6" y1="636.9" x2="442.7" y2="637.4" stroke="rgb(119,119,119)" stroke-width="1.2" opacity="0.93"/>
<line x1="337.6" y1="639.0" x2="442.7" y2="639.0" stroke="rgb(254,254,254)" stroke-width="0.9" opacity="0.65"/>
<line x1="337.6" y1="640.1" x2="442.7" y2="640.5" stroke="rgb(106,106,106)" stroke-width="0.9" opacity="0.67"/>
<line x1="337.6" y1="641.3" x2="442.7" y2="640.6" stroke="rgb(198,198,198)" stroke-width="1.0" opacity="0.95"/>
<line x1="337.6" y1="642.6" x2="442.7" y2="642.8" stroke="rgb(164,164,164)" stroke-width="0.7" opacity="0.79"/>
<line x1="337.6" y1="644.3" x2="442.7" y2="644.0" stroke="rgb(150,150,150)" stroke-width="0.8" opacity="0.50"/>
<line x1="337.6" y1="645.6" x2="442.7" y2="646.0" stroke="rgb(126,126,126)" stroke-width="0.8" opacity="0.92"/>
<line x1="337.6" y1="647" x2="442.7" y2="647" stroke="#f0f0f0" stroke-width="1.6" opacity="0.9"/>
<line x1="337.6" y1="651" x2="442.7" y2="651" stroke="#f0f0f0" stroke-width="1.6" opacity="0.7"/>
<rect x="337.6" y="633.4" width="105.1" height="108.4" fill="#000" filter="url(#enoise)" opacity="0.45"/>
<polyline points="337.6,683.0 345.0,680.0 352.0,678.5 365.0,677.5 372.0,680.0 380.0,683.5 387.0,686.0 394.5,688.0 401.0,683.0 408.0,678.0 416.0,676.5 425.0,676.0 442.7,676.0" fill="none" stroke="#f4f4f4" stroke-width="1.6" stroke-linejoin="round" opacity="0.85"/>
<line x1="359.7" y1="649.3" x2="359.7" y2="673.5" stroke="#1fd0d8" stroke-width="1.6"/>
<line x1="394.5" y1="663" x2="394.5" y2="689.6" stroke="#1fd0d8" stroke-width="1.6"/>
</g>
<clipPath id="clipE4"><rect x="446.5" y="633.4" width="101.5" height="108.4"/></clipPath>
<g clip-path="url(#clipE4)">
<rect x="446.5" y="633.4" width="101.5" height="108.4" fill="#404040"/>
<line x1="446.5" y1="635.6" x2="548" y2="635.5" stroke="rgb(117,117,117)" stroke-width="0.8" opacity="0.45"/>
<line x1="446.5" y1="637.6" x2="548" y2="637.9" stroke="rgb(43,43,43)" stroke-width="1.1" opacity="0.73"/>
<line x1="446.5" y1="639.0" x2="548" y2="638.3" stroke="rgb(81,81,81)" stroke-width="1.1" opacity="0.34"/>
<line x1="446.5" y1="640.3" x2="548" y2="640.3" stroke="rgb(26,26,26)" stroke-width="0.5" opacity="0.59"/>
<line x1="446.5" y1="642.1" x2="548" y2="643.3" stroke="rgb(86,86,86)" stroke-width="0.9" opacity="0.57"/>
<line x1="446.5" y1="644.7" x2="548" y2="645.5" stroke="rgb(74,74,74)" stroke-width="0.8" opacity="0.41"/>
<line x1="446.5" y1="646.9" x2="548" y2="646.3" stroke="rgb(101,101,101)" stroke-width="0.8" opacity="0.56"/>
<line x1="446.5" y1="648.7" x2="548" y2="649.2" stroke="rgb(77,77,77)" stroke-width="1.1" opacity="0.70"/>
<line x1="446.5" y1="650.8" x2="548" y2="650.8" stroke="rgb(42,42,42)" stroke-width="0.8" opacity="0.39"/>
<line x1="446.5" y1="653.3" x2="548" y2="654.7" stroke="rgb(94,94,94)" stroke-width="1.0" opacity="0.54"/>
<line x1="446.5" y1="655.0" x2="548" y2="655.0" stroke="rgb(47,47,47)" stroke-width="0.5" opacity="0.48"/>
<line x1="446.5" y1="656.3" x2="548" y2="657.5" stroke="rgb(46,46,46)" stroke-width="0.8" opacity="0.53"/>
<line x1="446.5" y1="658.1" x2="548" y2="659.5" stroke="rgb(29,29,29)" stroke-width="0.7" opacity="0.65"/>
<line x1="446.5" y1="660.0" x2="548" y2="661.0" stroke="rgb(112,112,112)" stroke-width="0.7" opacity="0.57"/>
<line x1="446.5" y1="661.5" x2="548" y2="661.1" stroke="rgb(93,93,93)" stroke-width="1.0" opacity="0.72"/>
<line x1="446.5" y1="663.4" x2="548" y2="664.6" stroke="rgb(64,64,64)" stroke-width="0.9" opacity="0.48"/>
<line x1="446.5" y1="665.8" x2="548" y2="665.7" stroke="rgb(76,76,76)" stroke-width="0.9" opacity="0.55"/>
<line x1="446.5" y1="667.2" x2="548" y2="665.9" stroke="rgb(42,42,42)" stroke-width="1.0" opacity="0.41"/>
<line x1="446.5" y1="668.7" x2="548" y2="669.3" stroke="rgb(63,63,63)" stroke-width="0.6" opacity="0.42"/>
<line x1="446.5" y1="671.0" x2="548" y2="670.9" stroke="rgb(100,100,100)" stroke-width="0.8" opacity="0.41"/>
<line x1="446.5" y1="672.4" x2="548" y2="671.0" stroke="rgb(112,112,112)" stroke-width="0.5" opacity="0.59"/>
<line x1="446.5" y1="673.8" x2="548" y2="672.5" stroke="rgb(91,91,91)" stroke-width="0.9" opacity="0.33"/>
<line x1="446.5" y1="675.4" x2="548" y2="676.8" stroke="rgb(43,43,43)" stroke-width="0.9" opacity="0.58"/>
<line x1="446.5" y1="676.6" x2="548" y2="677.1" stroke="rgb(100,100,100)" stroke-width="0.7" opacity="0.34"/>
<line x1="446.5" y1="678.5" x2="548" y2="679.6" stroke="rgb(129,129,129)" stroke-width="0.6" opacity="0.72"/>
<line x1="446.5" y1="680.5" x2="548" y2="681.5" stroke="rgb(108,108,108)" stroke-width="0.6" opacity="0.63"/>
<line x1="446.5" y1="682.1" x2="548" y2="681.6" stroke="rgb(101,101,101)" stroke-width="0.8" opacity="0.60"/>
<line x1="446.5" y1="683.6" x2="548" y2="682.4" stroke="rgb(65,65,65)" stroke-width="0.6" opacity="0.73"/>
<line x1="446.5" y1="685.5" x2="548" y2="684.4" stroke="rgb(69,69,69)" stroke-width="0.6" opacity="0.54"/>
<line x1="446.5" y1="687.6" x2="548" y2="688.4" stroke="rgb(29,29,29)" stroke-width="0.9" opacity="0.36"/>
<line x1="446.5" y1="689.4" x2="548" y2="689.7" stroke="rgb(38,38,38)" stroke-width="1.1" opacity="0.75"/>
<line x1="446.5" y1="691.7" x2="548" y2="691.8" stroke="rgb(93,93,93)" stroke-width="0.8" opacity="0.32"/>
<line x1="446.5" y1="693.7" x2="548" y2="694.6" stroke="rgb(49,49,49)" stroke-width="1.1" opacity="0.49"/>
<line x1="446.5" y1="695.7" x2="548" y2="696.5" stroke="rgb(102,102,102)" stroke-width="1.0" opacity="0.35"/>
<line x1="446.5" y1="697.1" x2="548" y2="696.3" stroke="rgb(75,75,75)" stroke-width="1.1" opacity="0.44"/>
<line x1="446.5" y1="699.5" x2="548" y2="698.6" stroke="rgb(67,67,67)" stroke-width="1.0" opacity="0.69"/>
<line x1="446.5" y1="701.5" x2="548" y2="700.0" stroke="rgb(37,37,37)" stroke-width="1.0" opacity="0.64"/>
<line x1="446.5" y1="703.2" x2="548" y2="702.1" stroke="rgb(63,63,63)" stroke-width="1.0" opacity="0.43"/>
<line x1="446.5" y1="705.5" x2="548" y2="705.1" stroke="rgb(69,69,69)" stroke-width="0.7" opacity="0.64"/>
<line x1="446.5" y1="707.8" x2="548" y2="708.7" stroke="rgb(68,68,68)" stroke-width="0.8" opacity="0.49"/>
<line x1="446.5" y1="709.8" x2="548" y2="709.2" stroke="rgb(51,51,51)" stroke-width="0.7" opacity="0.65"/>
<line x1="446.5" y1="712.0" x2="548" y2="712.5" stroke="rgb(114,114,114)" stroke-width="1.0" opacity="0.52"/>
<line x1="446.5" y1="714.2" x2="548" y2="713.3" stroke="rgb(41,41,41)" stroke-width="0.8" opacity="0.47"/>
<line x1="446.5" y1="716.2" x2="548" y2="716.8" stroke="rgb(98,98,98)" stroke-width="0.6" opacity="0.78"/>
<line x1="446.5" y1="717.4" x2="548" y2="716.3" stroke="rgb(34,34,34)" stroke-width="1.1" opacity="0.52"/>
<line x1="446.5" y1="718.7" x2="548" y2="717.4" stroke="rgb(48,48,48)" stroke-width="0.5" opacity="0.49"/>
<line x1="446.5" y1="721.2" x2="548" y2="721.3" stroke="rgb(89,89,89)" stroke-width="1.0" opacity="0.60"/>
<line x1="446.5" y1="723.8" x2="548" y2="724.2" stroke="rgb(111,111,111)" stroke-width="0.8" opacity="0.40"/>
<line x1="446.5" y1="725.9" x2="548" y2="725.2" stroke="rgb(109,109,109)" stroke-width="0.5" opacity="0.60"/>
<line x1="446.5" y1="727.8" x2="548" y2="726.8" stroke="rgb(49,49,49)" stroke-width="0.5" opacity="0.42"/>
<line x1="446.5" y1="729.0" x2="548" y2="730.5" stroke="rgb(41,41,41)" stroke-width="1.0" opacity="0.48"/>
<line x1="446.5" y1="730.8" x2="548" y2="730.8" stroke="rgb(86,86,86)" stroke-width="1.0" opacity="0.33"/>
<line x1="446.5" y1="732.1" x2="548" y2="733.1" stroke="rgb(54,54,54)" stroke-width="1.1" opacity="0.47"/>
<line x1="446.5" y1="734.6" x2="548" y2="735.0" stroke="rgb(54,54,54)" stroke-width="0.6" opacity="0.76"/>
<line x1="446.5" y1="736.6" x2="548" y2="736.4" stroke="rgb(52,52,52)" stroke-width="0.6" opacity="0.34"/>
<line x1="446.5" y1="738.2" x2="548" y2="739.2" stroke="rgb(124,124,124)" stroke-width="1.2" opacity="0.74"/>
<line x1="446.5" y1="740.6" x2="548" y2="741.2" stroke="rgb(85,85,85)" stroke-width="1.2" opacity="0.58"/>
<line x1="446.5" y1="742.9" x2="548" y2="744.2" stroke="rgb(104,104,104)" stroke-width="0.8" opacity="0.53"/>
<polygon points="446.5,672.0 453.0,678.0 460.0,685.0 467.0,692.0 474.2,699.0 478.0,692.0 482.0,686.0 486.0,680.0 490.0,675.0 497.0,674.0 503.0,673.0 509.0,671.5 514.1,670.7 522.0,676.0 530.0,683.0 539.0,690.0 548.0,697.0 548,717 446.5,717" fill="#2e2e2e" opacity="0.7" filter="url(#blur1)"/>
<polyline points="446.5,718.6 453.0,719.4 460.0,721.3 467.0,723.0 474.2,725.4 478.0,724.1 482.0,722.2 486.0,720.2 490.0,719.0 497.0,719.5 503.0,718.8 509.0,717.8 514.1,718.6 522.0,719.2 530.0,720.8 539.0,723.2 548.0,725.1" fill="none" stroke="rgb(200,200,200)" stroke-width="3.5" opacity="0.95" stroke-linejoin="round"/>
<polyline points="446.5,724.5 453.0,726.7 460.0,727.6 467.0,728.8 474.2,730.9 478.0,728.7 482.0,728.3 486.0,726.8 490.0,726.1 497.0,725.4 503.0,724.8 509.0,725.2 514.1,725.2 522.0,725.4 530.0,726.8 539.0,728.3 548.0,730.1" fill="none" stroke="rgb(130,130,130)" stroke-width="3.5" opacity="0.8" stroke-linejoin="round"/>
<polyline points="446.5,731.6 453.0,732.7 460.0,735.1 467.0,736.2 474.2,737.6 478.0,736.1 482.0,735.1 486.0,733.6 490.0,732.0 497.0,732.4 503.0,732.3 509.0,731.9 514.1,732.3 522.0,733.3 530.0,734.6 539.0,735.6 548.0,737.6" fill="none" stroke="rgb(120,120,120)" stroke-width="3" opacity="0.7" stroke-linejoin="round"/>
<polyline points="446.5,738.5 453.0,738.9 460.0,740.3 467.0,742.1 474.2,742.9 478.0,742.4 482.0,740.8 486.0,739.6 490.0,738.6 497.0,738.3 503.0,738.4 509.0,737.5 514.1,738.3 522.0,739.0 530.0,740.1 539.0,741.8 548.0,742.4" fill="none" stroke="rgb(100,100,100)" stroke-width="2.5" opacity="0.7" stroke-linejoin="round"/>
<polygon points="446.5,633.4 548,633.4 548.0,697.0 539.0,690.0 530.0,683.0 522.0,676.0 514.1,670.7 509.0,671.5 503.0,673.0 497.0,674.0 490.0,675.0 486.0,680.0 482.0,686.0 478.0,692.0 474.2,699.0 467.0,692.0 460.0,685.0 453.0,678.0 446.5,672.0" fill="#787878"/>
<polyline points="446.5,670.3 453.0,676.6 460.0,683.3 467.0,690.5 474.2,697.2 478.0,690.5 482.0,684.6 486.0,678.4 490.0,673.5 497.0,672.2 503.0,671.7 509.0,669.9 514.1,669.6 522.0,674.3 530.0,681.2 539.0,688.1 548.0,695.6" fill="none" stroke="rgb(90,90,90)" stroke-width="1.3" opacity="0.60"/>
<polyline points="446.5,669.1 453.0,675.0 460.0,681.8 467.0,689.6 474.2,695.8 478.0,689.5 482.0,682.8 486.0,677.2 490.0,672.7 497.0,671.5 503.0,670.2 509.0,668.9 514.1,668.1 522.0,673.0 530.0,680.2 539.0,687.2 548.0,694.1" fill="none" stroke="rgb(101,101,101)" stroke-width="0.9" opacity="0.81"/>
<polyline points="446.5,668.0 453.0,673.8 460.0,680.7 467.0,687.7 474.2,694.9 478.0,688.3 482.0,681.6 486.0,675.4 490.0,670.5 497.0,670.2 503.0,669.3 509.0,667.1 514.1,666.7 522.0,672.0 530.0,678.6 539.0,686.2 548.0,692.7" fill="none" stroke="rgb(204,204,204)" stroke-width="1.2" opacity="0.80"/>
<polyline points="446.5,665.9 453.0,671.8 460.0,679.1 467.0,685.6 474.2,692.7 478.0,686.3 482.0,679.8 486.0,674.1 490.0,669.1 497.0,668.3 503.0,666.6 509.0,665.2 514.1,664.4 522.0,669.8 530.0,676.8 539.0,683.8 548.0,691.1" fill="none" stroke="rgb(189,189,189)" stroke-width="1.7" opacity="0.62"/>
<polyline points="446.5,664.3 453.0,670.6 460.0,677.1 467.0,683.9 474.2,690.7 478.0,684.4 482.0,678.3 486.0,672.6 490.0,667.4 497.0,665.8 503.0,664.8 509.0,663.3 514.1,662.4 522.0,668.5 530.0,675.2 539.0,681.7 548.0,689.1" fill="none" stroke="rgb(213,213,213)" stroke-width="1.0" opacity="0.84"/>
<polyline points="446.5,663.0 453.0,669.2 460.0,675.7 467.0,682.6 474.2,689.6 478.0,683.0 482.0,676.5 486.0,671.2 490.0,665.4 497.0,665.0 503.0,664.2 509.0,662.2 514.1,661.5 522.0,667.3 530.0,673.9 539.0,680.6 548.0,687.8" fill="none" stroke="rgb(99,99,99)" stroke-width="0.8" opacity="0.94"/>
<polyline points="446.5,660.8 453.0,666.8 460.0,673.7 467.0,680.7 474.2,687.8 478.0,680.5 482.0,674.5 486.0,668.7 490.0,664.0 497.0,662.6 503.0,661.5 509.0,659.9 514.1,659.2 522.0,664.2 530.0,672.0 539.0,679.0 548.0,685.5" fill="none" stroke="rgb(83,83,83)" stroke-width="1.3" opacity="0.71"/>
<polyline points="446.5,659.4 453.0,665.0 460.0,672.4 467.0,679.3 474.2,686.2 478.0,679.0 482.0,673.3 486.0,667.4 490.0,662.5 497.0,661.4 503.0,660.1 509.0,659.2 514.1,658.1 522.0,663.3 530.0,670.2 539.0,677.4 548.0,684.2" fill="none" stroke="rgb(225,225,225)" stroke-width="1.7" opacity="0.84"/>
<polyline points="446.5,656.8 453.0,663.2 460.0,670.3 467.0,676.9 474.2,684.3 478.0,676.7 482.0,670.8 486.0,665.1 490.0,660.1 497.0,658.8 503.0,658.1 509.0,656.2 514.1,655.2 522.0,660.5 530.0,668.0 539.0,674.7 548.0,681.6" fill="none" stroke="rgb(203,203,203)" stroke-width="1.4" opacity="0.62"/>
<polyline points="446.5,654.4 453.0,660.8 460.0,667.6 467.0,674.6 474.2,682.1 478.0,675.3 482.0,668.8 486.0,663.1 490.0,657.6 497.0,657.1 503.0,656.2 509.0,653.8 514.1,653.8 522.0,658.4 530.0,665.8 539.0,672.5 548.0,680.1" fill="none" stroke="rgb(188,188,188)" stroke-width="0.9" opacity="0.87"/>
<polyline points="446.5,652.2 453.0,658.7 460.0,665.4 467.0,672.7 474.2,679.0 478.0,672.4 482.0,666.7 486.0,660.5 490.0,655.9 497.0,654.4 503.0,653.6 509.0,651.7 514.1,651.0 522.0,656.6 530.0,663.0 539.0,670.9 548.0,677.5" fill="none" stroke="rgb(73,73,73)" stroke-width="1.5" opacity="0.61"/>
<polyline points="446.5,650.7 453.0,656.1 460.0,663.0 467.0,670.5 474.2,677.2 478.0,670.0 482.0,664.1 486.0,658.0 490.0,653.6 497.0,651.8 503.0,650.9 509.0,650.1 514.1,649.0 522.0,654.4 530.0,661.2 539.0,667.9 548.0,675.0" fill="none" stroke="rgb(87,87,87)" stroke-width="1.7" opacity="0.54"/>
<polyline points="446.5,648.4 453.0,653.8 460.0,661.4 467.0,668.5 474.2,675.6 478.0,667.9 482.0,662.0 486.0,656.8 490.0,651.6 497.0,650.5 503.0,649.6 509.0,647.7 514.1,646.7 522.0,652.5 530.0,659.1 539.0,665.9 548.0,673.7" fill="none" stroke="rgb(226,226,226)" stroke-width="1.8" opacity="0.72"/>
<polyline points="446.5,646.1 453.0,652.1 460.0,659.3 467.0,666.7 474.2,673.2 478.0,666.8 482.0,660.9 486.0,654.5 490.0,649.0 497.0,648.1 503.0,647.3 509.0,645.7 514.1,645.0 522.0,650.0 530.0,657.6 539.0,664.3 548.0,671.1" fill="none" stroke="rgb(105,105,105)" stroke-width="1.4" opacity="0.51"/>
<polyline points="446.5,644.3 453.0,650.2 460.0,657.1 467.0,663.9 474.2,671.1 478.0,664.1 482.0,658.1 486.0,652.2 490.0,646.9 497.0,646.2 503.0,644.7 509.0,643.6 514.1,642.3 522.0,648.4 530.0,654.7 539.0,662.4 548.0,668.8" fill="none" stroke="rgb(197,197,197)" stroke-width="0.9" opacity="0.72"/>
<polyline points="446.5,642.9 453.0,648.7 460.0,655.9 467.0,662.5 474.2,669.6 478.0,662.8 482.0,656.3 486.0,651.2 490.0,645.4 497.0,644.7 503.0,644.1 509.0,641.8 514.1,641.7 522.0,646.3 530.0,653.8 539.0,661.2 548.0,667.6" fill="none" stroke="rgb(158,158,158)" stroke-width="1.6" opacity="0.67"/>
<polyline points="446.5,640.1 453.0,646.1 460.0,653.3 467.0,661.0 474.2,668.0 478.0,660.1 482.0,654.8 486.0,648.6 490.0,643.2 497.0,642.6 503.0,641.3 509.0,640.2 514.1,638.9 522.0,644.8 530.0,651.4 539.0,658.1 548.0,665.7" fill="none" stroke="rgb(206,206,206)" stroke-width="0.9" opacity="0.66"/>
<polyline points="446.5,638.4 453.0,644.4 460.0,651.6 467.0,658.5 474.2,665.3 478.0,659.2 482.0,652.6 486.0,646.5 490.0,641.5 497.0,641.2 503.0,639.5 509.0,638.1 514.1,637.7 522.0,642.6 530.0,649.9 539.0,656.8 548.0,663.7" fill="none" stroke="rgb(176,176,176)" stroke-width="1.7" opacity="0.60"/>
<polyline points="446.5,636.9 453.0,642.4 460.0,649.3 467.0,656.6 474.2,663.9 478.0,656.5 482.0,650.4 486.0,644.9 490.0,639.2 497.0,638.2 503.0,637.1 509.0,636.3 514.1,634.6 522.0,640.7 530.0,647.6 539.0,654.2 548.0,661.5" fill="none" stroke="rgb(225,225,225)" stroke-width="0.9" opacity="0.75"/>
<polyline points="446.5,633.8 453.0,639.6 460.0,646.8 467.0,654.0 474.2,660.7 478.0,654.2 482.0,647.5 486.0,641.8 490.0,637.3 497.0,636.2 503.0,635.1 509.0,633.7 514.1,632.3 522.0,638.2 530.0,645.1 539.0,652.0 548.0,659.3" fill="none" stroke="rgb(79,79,79)" stroke-width="0.6" opacity="0.77"/>
<polyline points="446.5,631.9 453.0,637.9 460.0,645.6 467.0,652.1 474.2,659.6 478.0,652.2 482.0,646.7 486.0,640.7 490.0,635.0 497.0,634.5 503.0,633.4 509.0,631.3 514.1,631.3 522.0,636.2 530.0,643.1 539.0,649.8 548.0,657.3" fill="none" stroke="rgb(188,188,188)" stroke-width="1.3" opacity="0.57"/>
<polyline points="446.5,630.6 453.0,636.3 460.0,643.3 467.0,650.5 474.2,657.4 478.0,650.1 482.0,644.2 486.0,638.3 490.0,633.0 497.0,632.0 503.0,631.5 509.0,629.4 514.1,629.0 522.0,634.0 530.0,641.4 539.0,648.7 548.0,655.0" fill="none" stroke="rgb(91,91,91)" stroke-width="0.7" opacity="0.56"/>
<polyline points="446.5,628.1 453.0,634.5 460.0,641.6 467.0,648.2 474.2,655.0 478.0,648.7 482.0,642.2 486.0,636.8 490.0,631.0 497.0,630.6 503.0,629.3 509.0,627.8 514.1,626.9 522.0,632.5 530.0,638.9 539.0,646.2 548.0,653.9" fill="none" stroke="rgb(142,142,142)" stroke-width="1.4" opacity="0.78"/>
<polyline points="446.5,625.4 453.0,632.1 460.0,638.5 467.0,645.7 474.2,653.1 478.0,646.2 482.0,639.4 486.0,633.4 490.0,629.3 497.0,628.3 503.0,627.2 509.0,625.6 514.1,624.0 522.0,630.0 530.0,636.4 539.0,643.8 548.0,650.3" fill="none" stroke="rgb(134,134,134)" stroke-width="0.8" opacity="0.59"/>
<polyline points="446.5,623.6 453.0,629.9 460.0,637.1 467.0,643.5 474.2,651.1 478.0,643.4 482.0,638.0 486.0,632.0 490.0,626.4 497.0,625.5 503.0,624.7 509.0,623.7 514.1,622.7 522.0,627.4 530.0,635.0 539.0,641.4 548.0,648.8" fill="none" stroke="rgb(88,88,88)" stroke-width="1.2" opacity="0.62"/>
<polyline points="446.5,621.0 453.0,627.8 460.0,634.6 467.0,641.2 474.2,648.4 478.0,642.0 482.0,635.1 486.0,629.3 490.0,624.8 497.0,623.5 503.0,622.2 509.0,621.0 514.1,620.1 522.0,625.9 530.0,632.0 539.0,639.2 548.0,646.5" fill="none" stroke="rgb(175,175,175)" stroke-width="1.6" opacity="0.65"/>
<polyline points="446.5,619.6 453.0,625.9 460.0,632.5 467.0,640.2 474.2,646.7 478.0,640.0 482.0,633.9 486.0,628.1 490.0,623.1 497.0,622.0 503.0,620.3 509.0,619.3 514.1,618.2 522.0,623.4 530.0,631.1 539.0,637.9 548.0,644.3" fill="none" stroke="rgb(79,79,79)" stroke-width="1.0" opacity="0.67"/>
<polyline points="446.5,616.9 453.0,622.9 460.0,629.8 467.0,637.7 474.2,644.6 478.0,637.0 482.0,631.2 486.0,624.9 490.0,619.8 497.0,619.2 503.0,618.5 509.0,617.0 514.1,615.7 522.0,621.4 530.0,628.2 539.0,634.8 548.0,642.7" fill="none" stroke="rgb(166,166,166)" stroke-width="1.4" opacity="0.94"/>
<polyline points="446.5,615.6 453.0,621.8 460.0,629.2 467.0,635.4 474.2,642.6 478.0,636.2 482.0,630.0 486.0,624.0 490.0,619.2 497.0,617.7 503.0,616.7 509.0,615.2 514.1,614.9 522.0,620.2 530.0,627.2 539.0,633.6 548.0,641.1" fill="none" stroke="rgb(227,227,227)" stroke-width="1.7" opacity="0.55"/>
<polyline points="446.5,614.1 453.0,620.4 460.0,627.1 467.0,634.1 474.2,641.5 478.0,634.2 482.0,628.5 486.0,622.3 490.0,617.3 497.0,616.4 503.0,615.5 509.0,613.7 514.1,613.4 522.0,618.3 530.0,625.0 539.0,632.0 548.0,638.9" fill="none" stroke="rgb(194,194,194)" stroke-width="1.3" opacity="0.84"/>
<polyline points="446.5,613.3 453.0,619.6 460.0,626.4 467.0,632.7 474.2,640.5 478.0,633.6 482.0,627.5 486.0,621.1 490.0,615.9 497.0,615.1 503.0,613.8 509.0,612.5 514.1,611.3 522.0,617.3 530.0,624.0 539.0,630.9 548.0,638.2" fill="none" stroke="rgb(101,101,101)" stroke-width="1.1" opacity="0.83"/>
<polyline points="446.5,611.4 453.0,617.1 460.0,624.0 467.0,631.4 474.2,637.6 478.0,631.6 482.0,625.1 486.0,619.0 490.0,614.3 497.0,613.1 503.0,612.1 509.0,610.7 514.1,609.3 522.0,614.9 530.0,622.0 539.0,628.9 548.0,636.4" fill="none" stroke="rgb(149,149,149)" stroke-width="1.7" opacity="0.71"/>
<rect x="446.5" y="633.4" width="101.5" height="18" fill="#b4b4b4" opacity="0.85"/>
<line x1="446.5" y1="633.9" x2="548" y2="633.2" stroke="rgb(191,191,191)" stroke-width="0.9" opacity="0.57"/>
<line x1="446.5" y1="635.9" x2="548" y2="636.3" stroke="rgb(164,164,164)" stroke-width="0.6" opacity="0.89"/>
<line x1="446.5" y1="638.0" x2="548" y2="637.4" stroke="rgb(204,204,204)" stroke-width="0.8" opacity="0.73"/>
<line x1="446.5" y1="639.2" x2="548" y2="639.6" stroke="rgb(187,187,187)" stroke-width="0.7" opacity="0.73"/>
<line x1="446.5" y1="640.5" x2="548" y2="641.2" stroke="rgb(204,204,204)" stroke-width="1.1" opacity="0.86"/>
<line x1="446.5" y1="641.7" x2="548" y2="641.6" stroke="rgb(108,108,108)" stroke-width="0.8" opacity="0.76"/>
<line x1="446.5" y1="643.1" x2="548" y2="643.2" stroke="rgb(220,220,220)" stroke-width="1.3" opacity="0.69"/>
<line x1="446.5" y1="644.6" x2="548" y2="645.3" stroke="rgb(216,216,216)" stroke-width="1.0" opacity="0.83"/>
<line x1="446.5" y1="645.8" x2="548" y2="645.3" stroke="rgb(233,233,233)" stroke-width="1.1" opacity="0.71"/>
<line x1="446.5" y1="647.2" x2="548" y2="647.1" stroke="rgb(216,216,216)" stroke-width="1.0" opacity="0.56"/>
<line x1="446.5" y1="648.3" x2="548" y2="648.5" stroke="rgb(123,123,123)" stroke-width="0.7" opacity="0.73"/>
<line x1="446.5" y1="650.3" x2="548" y2="649.5" stroke="rgb(179,179,179)" stroke-width="1.2" opacity="0.62"/>
<line x1="446.5" y1="652.0" x2="548" y2="651.9" stroke="rgb(168,168,168)" stroke-width="0.6" opacity="0.80"/>
<rect x="446.5" y="633.4" width="101.5" height="108.4" fill="#000" filter="url(#enoise)" opacity="0.45"/>
<polyline points="446.5,672.0 453.0,678.0 460.0,685.0 467.0,692.0 474.2,699.0 478.0,692.0 482.0,686.0 486.0,680.0 490.0,675.0 497.0,674.0 503.0,673.0 509.0,671.5 514.1,670.7 522.0,676.0 530.0,683.0 539.0,690.0 548.0,697.0" fill="none" stroke="#f4f4f4" stroke-width="1.6" stroke-linejoin="round" opacity="0.85"/>
<line x1="474.2" y1="675.9" x2="474.2" y2="699" stroke="#1fd0d8" stroke-width="1.6"/>
<line x1="514.3" y1="651.2" x2="514.3" y2="670.2" stroke="#1fd0d8" stroke-width="1.6"/>
</g>
<text x="-0.6" y="787.8" font-size="20" text-anchor="start" fill="#000" >F</text>
<text x="150" y="790.3" font-size="11.9" text-anchor="middle" fill="#000" >RV Anterior Wall Thickness in Diastole</text>
<line x1="40" y1="797.5" x2="40" y2="955.75" stroke="#000" stroke-width="1.3"/>
<line x1="40" y1="955.75" x2="254" y2="955.75" stroke="#000" stroke-width="1.3"/>
<line x1="36" y1="815.0" x2="40" y2="815.0" stroke="#000" stroke-width="1.2"/>
<text x="34.7" y="819.6" font-size="12.8" text-anchor="end" fill="#000" >2.5</text>
<line x1="36" y1="843.1" x2="40" y2="843.1" stroke="#000" stroke-width="1.2"/>
<text x="34.7" y="847.8" font-size="12.8" text-anchor="end" fill="#000" >2.0</text>
<line x1="36" y1="871.3" x2="40" y2="871.3" stroke="#000" stroke-width="1.2"/>
<text x="34.7" y="875.9" font-size="12.8" text-anchor="end" fill="#000" >1.5</text>
<line x1="36" y1="899.5" x2="40" y2="899.5" stroke="#000" stroke-width="1.2"/>
<text x="34.7" y="904.1" font-size="12.8" text-anchor="end" fill="#000" >1.0</text>
<line x1="36" y1="927.6" x2="40" y2="927.6" stroke="#000" stroke-width="1.2"/>
<text x="34.7" y="932.2" font-size="12.8" text-anchor="end" fill="#000" >0.5</text>
<line x1="36" y1="955.8" x2="40" y2="955.8" stroke="#000" stroke-width="1.2"/>
<text x="34.7" y="960.4" font-size="12.8" text-anchor="end" fill="#000" >0</text>
<line x1="40.0" y1="955.75" x2="40.0" y2="959.75" stroke="#000" stroke-width="1.2"/>
<text x="40.0" y="971.15" font-size="12.8" text-anchor="middle" fill="#000" >0</text>
<line x1="69.2" y1="955.75" x2="69.2" y2="959.75" stroke="#000" stroke-width="1.2"/>
<text x="69.2" y="971.15" font-size="12.8" text-anchor="middle" fill="#000" >1</text>
<line x1="98.4" y1="955.75" x2="98.4" y2="959.75" stroke="#000" stroke-width="1.2"/>
<text x="98.4" y="971.15" font-size="12.8" text-anchor="middle" fill="#000" >2</text>
<line x1="127.6" y1="955.75" x2="127.6" y2="959.75" stroke="#000" stroke-width="1.2"/>
<text x="127.6" y="971.15" font-size="12.8" text-anchor="middle" fill="#000" >3</text>
<line x1="156.8" y1="955.75" x2="156.8" y2="959.75" stroke="#000" stroke-width="1.2"/>
<text x="156.8" y="971.15" font-size="12.8" text-anchor="middle" fill="#000" >4</text>
<line x1="186.0" y1="955.75" x2="186.0" y2="959.75" stroke="#000" stroke-width="1.2"/>
<text x="186.0" y="971.15" font-size="12.8" text-anchor="middle" fill="#000" >5</text>
<line x1="215.2" y1="955.75" x2="215.2" y2="959.75" stroke="#000" stroke-width="1.2"/>
<text x="215.2" y="971.15" font-size="12.8" text-anchor="middle" fill="#000" >6</text>
<line x1="244.4" y1="955.75" x2="244.4" y2="959.75" stroke="#000" stroke-width="1.2"/>
<text x="244.4" y="971.15" font-size="12.8" text-anchor="middle" fill="#000" >7</text>
<text x="148.6" y="986.75" font-size="12" text-anchor="middle" fill="#000" >Weeks</text>
<polyline points="40.0,914.3 127.6,910.7 186.0,908.7 244.4,905.9" fill="none" stroke="#8a8a8a" stroke-width="1.3"/>
<circle cx="40.0" cy="914.3" r="2.70" fill="#8f8f8f" stroke="#777" stroke-width="0.5"/>
<circle cx="127.6" cy="910.7" r="2.70" fill="#8f8f8f" stroke="#777" stroke-width="0.5"/>
<circle cx="186.0" cy="908.7" r="2.70" fill="#8f8f8f" stroke="#777" stroke-width="0.5"/>
<circle cx="244.4" cy="905.9" r="2.70" fill="#8f8f8f" stroke="#777" stroke-width="0.5"/>
<polyline points="40.0,918.6 127.6,865.7 186.0,862.3 244.4,845.4" fill="none" stroke="#000" stroke-width="1.3"/>
<line x1="40.0" y1="916.9" x2="40.0" y2="920.3" stroke="#000" stroke-width="1.5"/>
<line x1="36.8" y1="916.9" x2="43.2" y2="916.9" stroke="#000" stroke-width="1.4"/>
<line x1="36.8" y1="920.3" x2="43.2" y2="920.3" stroke="#000" stroke-width="1.4"/>
<rect x="37.65" y="916.24" width="4.70" height="4.70" fill="#000"/>
<line x1="127.6" y1="863.4" x2="127.6" y2="867.9" stroke="#000" stroke-width="1.5"/>
<line x1="124.4" y1="863.4" x2="130.8" y2="863.4" stroke="#000" stroke-width="1.4"/>
<line x1="124.4" y1="867.9" x2="130.8" y2="867.9" stroke="#000" stroke-width="1.4"/>
<rect x="125.25" y="863.32" width="4.70" height="4.70" fill="#000"/>
<line x1="186.0" y1="860.0" x2="186.0" y2="864.5" stroke="#000" stroke-width="1.5"/>
<line x1="182.8" y1="860.0" x2="189.2" y2="860.0" stroke="#000" stroke-width="1.4"/>
<line x1="182.8" y1="864.5" x2="189.2" y2="864.5" stroke="#000" stroke-width="1.4"/>
<rect x="183.65" y="859.94" width="4.70" height="4.70" fill="#000"/>
<line x1="244.4" y1="837.5" x2="244.4" y2="853.3" stroke="#000" stroke-width="1.5"/>
<line x1="241.2" y1="837.5" x2="247.6" y2="837.5" stroke="#000" stroke-width="1.4"/>
<line x1="241.2" y1="853.3" x2="247.6" y2="853.3" stroke="#000" stroke-width="1.4"/>
<rect x="242.05" y="843.05" width="4.70" height="4.70" fill="#000"/>
<polyline points="40.0,920.0 127.6,862.3 186.0,882.0 244.4,890.4" fill="none" stroke="#c00000" stroke-width="1.3"/>
<line x1="40.0" y1="918.3" x2="40.0" y2="921.7" stroke="#c00000" stroke-width="1.5"/>
<line x1="36.8" y1="918.3" x2="43.2" y2="918.3" stroke="#c00000" stroke-width="1.4"/>
<line x1="36.8" y1="921.7" x2="43.2" y2="921.7" stroke="#c00000" stroke-width="1.4"/>
<path d="M40.00,916.92 L42.90,922.52 L37.10,922.52 Z" fill="#a80000" stroke="#900" stroke-width="0.3"/>
<line x1="127.6" y1="858.4" x2="127.6" y2="866.2" stroke="#c00000" stroke-width="1.5"/>
<line x1="124.4" y1="858.4" x2="130.8" y2="858.4" stroke="#c00000" stroke-width="1.4"/>
<line x1="124.4" y1="866.2" x2="130.8" y2="866.2" stroke="#c00000" stroke-width="1.4"/>
<path d="M127.60,859.21 L130.50,864.81 L124.70,864.81 Z" fill="#a80000" stroke="#900" stroke-width="0.3"/>
<line x1="186.0" y1="878.6" x2="186.0" y2="885.4" stroke="#c00000" stroke-width="1.5"/>
<line x1="182.8" y1="878.6" x2="189.2" y2="878.6" stroke="#c00000" stroke-width="1.4"/>
<line x1="182.8" y1="885.4" x2="189.2" y2="885.4" stroke="#c00000" stroke-width="1.4"/>
<path d="M186.00,878.92 L188.90,884.52 L183.10,884.52 Z" fill="#a80000" stroke="#900" stroke-width="0.3"/>
<line x1="244.4" y1="889.3" x2="244.4" y2="891.6" stroke="#c00000" stroke-width="1.5"/>
<line x1="241.2" y1="889.3" x2="247.6" y2="889.3" stroke="#c00000" stroke-width="1.4"/>
<line x1="241.2" y1="891.6" x2="247.6" y2="891.6" stroke="#c00000" stroke-width="1.4"/>
<path d="M244.40,887.36 L247.30,892.96 L241.50,892.96 Z" fill="#a80000" stroke="#900" stroke-width="0.3"/>
<path d="M127.60,918.60L127.60,926.60M124.14,920.60L131.06,924.60M124.14,924.60L131.06,920.60" stroke="#000" stroke-width="1.5" stroke-linecap="round" fill="none"/>
<path d="M186.00,916.40L186.00,924.40M182.54,918.40L189.46,922.40M182.54,922.40L189.46,918.40" stroke="#000" stroke-width="1.5" stroke-linecap="round" fill="none"/>
<path d="M244.40,912.30L244.40,920.30M240.94,914.30L247.86,918.30M240.94,918.30L247.86,914.30" stroke="#000" stroke-width="1.5" stroke-linecap="round" fill="none"/>
<path d="M244.40,876.80L244.40,884.80M240.94,878.80L247.86,882.80M240.94,882.80L247.86,878.80" stroke="#000" stroke-width="1.5" stroke-linecap="round" fill="none"/>
<circle cx="55.5" cy="809.8" r="3.7" fill="#b0b0b0" stroke="#555" stroke-width="0.6"/>
<text x="62.0" y="813.0" font-size="9.2" text-anchor="start" fill="#000" >Normoxia (Vehicle)</text>
<rect x="52.00" y="819.40" width="7.1" height="6.5" fill="#000"/>
<text x="62.0" y="825.9" font-size="9.2" text-anchor="start" fill="#000" >SU-Hx (Vehicle)</text>
<path d="M55.50,832.20 L58.70,838.80 L52.30,838.80 Z" fill="#780000" stroke="#300" stroke-width="0.4"/>
<text x="62.0" y="838.8" font-size="9.2" text-anchor="start" fill="#000" >SU-Hx + TAD/AMB</text>
<path d="M60.10,922.60L60.10,930.00M56.90,924.45L63.30,928.15M56.90,928.15L63.30,924.45" stroke="#000" stroke-width="1.6" stroke-linecap="round" fill="none"/>
<text x="63.7" y="933.5" font-size="9.2" font-family="Liberation Serif" font-weight="bold"><tspan font-style="italic">P</tspan> &lt; 0.05 vs.</text>
<text x="85.2" y="944.5" font-size="9.5" text-anchor="middle" fill="#000" >SU-Hx + Vehicle</text>
<text transform="translate(12,873.5) rotate(-90)" font-size="12" text-anchor="middle" font-family="Liberation Serif" font-weight="bold">RVAW;d (mm)</text>
<text x="274.2" y="787.8" font-size="20" text-anchor="start" fill="#000" >G</text>
<text x="421.5" y="790.3" font-size="11.9" text-anchor="middle" fill="#000" >RV Anterior Wall Thickness in Systole</text>
<line x1="313.5" y1="797.5" x2="313.5" y2="955.75" stroke="#000" stroke-width="1.3"/>
<line x1="313.5" y1="955.75" x2="527.8" y2="955.75" stroke="#000" stroke-width="1.3"/>
<line x1="309.5" y1="815.0" x2="313.5" y2="815.0" stroke="#000" stroke-width="1.2"/>
<text x="308.2" y="819.6" font-size="12.8" text-anchor="end" fill="#000" >2.5</text>
<line x1="309.5" y1="843.1" x2="313.5" y2="843.1" stroke="#000" stroke-width="1.2"/>
<text x="308.2" y="847.8" font-size="12.8" text-anchor="end" fill="#000" >2.0</text>
<line x1="309.5" y1="871.3" x2="313.5" y2="871.3" stroke="#000" stroke-width="1.2"/>
<text x="308.2" y="875.9" font-size="12.8" text-anchor="end" fill="#000" >1.5</text>
<line x1="309.5" y1="899.5" x2="313.5" y2="899.5" stroke="#000" stroke-width="1.2"/>
<text x="308.2" y="904.1" font-size="12.8" text-anchor="end" fill="#000" >1.0</text>
<line x1="309.5" y1="927.6" x2="313.5" y2="927.6" stroke="#000" stroke-width="1.2"/>
<text x="308.2" y="932.2" font-size="12.8" text-anchor="end" fill="#000" >0.5</text>
<line x1="309.5" y1="955.8" x2="313.5" y2="955.8" stroke="#000" stroke-width="1.2"/>
<text x="308.2" y="960.4" font-size="12.8" text-anchor="end" fill="#000" >0</text>
<line x1="313.5" y1="955.75" x2="313.5" y2="959.75" stroke="#000" stroke-width="1.2"/>
<text x="313.5" y="971.15" font-size="12.8" text-anchor="middle" fill="#000" >0</text>
<line x1="342.9" y1="955.75" x2="342.9" y2="959.75" stroke="#000" stroke-width="1.2"/>
<text x="342.9" y="971.15" font-size="12.8" text-anchor="middle" fill="#000" >1</text>
<line x1="372.2" y1="955.75" x2="372.2" y2="959.75" stroke="#000" stroke-width="1.2"/>
<text x="372.2" y="971.15" font-size="12.8" text-anchor="middle" fill="#000" >2</text>
<line x1="401.6" y1="955.75" x2="401.6" y2="959.75" stroke="#000" stroke-width="1.2"/>
<text x="401.6" y="971.15" font-size="12.8" text-anchor="middle" fill="#000" >3</text>
<line x1="430.9" y1="955.75" x2="430.9" y2="959.75" stroke="#000" stroke-width="1.2"/>
<text x="430.9" y="971.15" font-size="12.8" text-anchor="middle" fill="#000" >4</text>
<line x1="460.2" y1="955.75" x2="460.2" y2="959.75" stroke="#000" stroke-width="1.2"/>
<text x="460.2" y="971.15" font-size="12.8" text-anchor="middle" fill="#000" >5</text>
<line x1="489.6" y1="955.75" x2="489.6" y2="959.75" stroke="#000" stroke-width="1.2"/>
<text x="489.6" y="971.15" font-size="12.8" text-anchor="middle" fill="#000" >6</text>
<line x1="519.0" y1="955.75" x2="519.0" y2="959.75" stroke="#000" stroke-width="1.2"/>
<text x="519.0" y="971.15" font-size="12.8" text-anchor="middle" fill="#000" >7</text>
<text x="422.7" y="986.75" font-size="12" text-anchor="middle" fill="#000" >Weeks</text>
<polyline points="313.5,905.6 401.6,897.2 460.2,893.8 519.0,891.0" fill="none" stroke="#8a8a8a" stroke-width="1.3"/>
<circle cx="313.5" cy="905.6" r="2.70" fill="#8f8f8f" stroke="#777" stroke-width="0.5"/>
<circle cx="401.6" cy="897.2" r="2.70" fill="#8f8f8f" stroke="#777" stroke-width="0.5"/>
<circle cx="460.2" cy="893.8" r="2.70" fill="#8f8f8f" stroke="#777" stroke-width="0.5"/>
<circle cx="519.0" cy="891.0" r="2.70" fill="#8f8f8f" stroke="#777" stroke-width="0.5"/>
<polyline points="313.5,913.0 401.6,854.4 460.2,849.9 519.0,831.3" fill="none" stroke="#000" stroke-width="1.3"/>
<line x1="313.5" y1="911.3" x2="313.5" y2="914.7" stroke="#000" stroke-width="1.5"/>
<line x1="310.3" y1="911.3" x2="316.7" y2="911.3" stroke="#000" stroke-width="1.4"/>
<line x1="310.3" y1="914.7" x2="316.7" y2="914.7" stroke="#000" stroke-width="1.4"/>
<rect x="311.15" y="910.61" width="4.70" height="4.70" fill="#000"/>
<line x1="401.6" y1="852.2" x2="401.6" y2="856.7" stroke="#000" stroke-width="1.5"/>
<line x1="398.4" y1="852.2" x2="404.8" y2="852.2" stroke="#000" stroke-width="1.4"/>
<line x1="398.4" y1="856.7" x2="404.8" y2="856.7" stroke="#000" stroke-width="1.4"/>
<rect x="399.20" y="852.06" width="4.70" height="4.70" fill="#000"/>
<line x1="460.2" y1="847.7" x2="460.2" y2="852.2" stroke="#000" stroke-width="1.5"/>
<line x1="457.1" y1="847.7" x2="463.4" y2="847.7" stroke="#000" stroke-width="1.4"/>
<line x1="457.1" y1="852.2" x2="463.4" y2="852.2" stroke="#000" stroke-width="1.4"/>
<rect x="457.90" y="847.56" width="4.70" height="4.70" fill="#000"/>
<line x1="519.0" y1="822.9" x2="519.0" y2="839.8" stroke="#000" stroke-width="1.5"/>
<line x1="515.8" y1="822.9" x2="522.2" y2="822.9" stroke="#000" stroke-width="1.4"/>
<line x1="515.8" y1="839.8" x2="522.2" y2="839.8" stroke="#000" stroke-width="1.4"/>
<rect x="516.60" y="828.98" width="4.70" height="4.70" fill="#000"/>
<polyline points="313.5,911.3 401.6,847.7 460.2,862.9 519.0,871.3" fill="none" stroke="#c00000" stroke-width="1.3"/>
<line x1="313.5" y1="909.6" x2="313.5" y2="913.0" stroke="#c00000" stroke-width="1.5"/>
<line x1="310.3" y1="909.6" x2="316.7" y2="909.6" stroke="#c00000" stroke-width="1.4"/>
<line x1="310.3" y1="913.0" x2="316.7" y2="913.0" stroke="#c00000" stroke-width="1.4"/>
<path d="M313.50,908.19 L316.40,913.79 L310.60,913.79 Z" fill="#a80000" stroke="#900" stroke-width="0.3"/>
<line x1="401.6" y1="844.3" x2="401.6" y2="851.0" stroke="#c00000" stroke-width="1.5"/>
<line x1="398.4" y1="844.3" x2="404.8" y2="844.3" stroke="#c00000" stroke-width="1.4"/>
<line x1="398.4" y1="851.0" x2="404.8" y2="851.0" stroke="#c00000" stroke-width="1.4"/>
<path d="M401.55,844.57 L404.45,850.17 L398.65,850.17 Z" fill="#a80000" stroke="#900" stroke-width="0.3"/>
<line x1="460.2" y1="861.7" x2="460.2" y2="864.0" stroke="#c00000" stroke-width="1.5"/>
<line x1="457.1" y1="861.7" x2="463.4" y2="861.7" stroke="#c00000" stroke-width="1.4"/>
<line x1="457.1" y1="864.0" x2="463.4" y2="864.0" stroke="#c00000" stroke-width="1.4"/>
<path d="M460.25,859.77 L463.15,865.38 L457.35,865.38 Z" fill="#a80000" stroke="#900" stroke-width="0.3"/>
<line x1="519.0" y1="870.2" x2="519.0" y2="872.4" stroke="#c00000" stroke-width="1.5"/>
<line x1="515.8" y1="870.2" x2="522.2" y2="870.2" stroke="#c00000" stroke-width="1.4"/>
<line x1="515.8" y1="872.4" x2="522.2" y2="872.4" stroke="#c00000" stroke-width="1.4"/>
<path d="M518.95,868.22 L521.85,873.82 L516.05,873.82 Z" fill="#a80000" stroke="#900" stroke-width="0.3"/>
<path d="M401.55,905.50L401.55,913.50M398.09,907.50L405.01,911.50M398.09,911.50L405.01,907.50" stroke="#000" stroke-width="1.5" stroke-linecap="round" fill="none"/>
<path d="M460.25,901.40L460.25,909.40M456.79,903.40L463.71,907.40M456.79,907.40L463.71,903.40" stroke="#000" stroke-width="1.5" stroke-linecap="round" fill="none"/>
<path d="M518.95,899.50L518.95,907.50M515.49,901.50L522.41,905.50M515.49,905.50L522.41,901.50" stroke="#000" stroke-width="1.5" stroke-linecap="round" fill="none"/>
<path d="M518.95,856.80L518.95,864.80M515.49,858.80L522.41,862.80M515.49,862.80L522.41,858.80" stroke="#000" stroke-width="1.5" stroke-linecap="round" fill="none"/>
<circle cx="328.3" cy="809.8" r="3.7" fill="#b0b0b0" stroke="#555" stroke-width="0.6"/>
<text x="334.8" y="813.0" font-size="9.2" text-anchor="start" fill="#000" >Normoxia (Vehicle)</text>
<rect x="324.80" y="819.40" width="7.1" height="6.5" fill="#000"/>
<text x="334.8" y="825.9" font-size="9.2" text-anchor="start" fill="#000" >SU-Hx (Vehicle)</text>
<path d="M328.30,832.20 L331.50,838.80 L325.10,838.80 Z" fill="#780000" stroke="#300" stroke-width="0.4"/>
<text x="334.8" y="838.8" font-size="9.2" text-anchor="start" fill="#000" >SU-Hx + TAD/AMB</text>
<path d="M334.90,922.60L334.90,930.00M331.70,924.45L338.10,928.15M331.70,928.15L338.10,924.45" stroke="#000" stroke-width="1.6" stroke-linecap="round" fill="none"/>
<text x="338.5" y="933.5" font-size="9.2" font-family="Liberation Serif" font-weight="bold"><tspan font-style="italic">P</tspan> &lt; 0.05 vs.</text>
<text x="360" y="944.5" font-size="9.5" text-anchor="middle" fill="#000" >SU-Hx + Vehicle</text>
<text transform="translate(285.5,873) rotate(-90)" font-size="12" text-anchor="middle" font-family="Liberation Serif" font-weight="bold">RVAW;s (mm)</text>
</svg></body></html>
